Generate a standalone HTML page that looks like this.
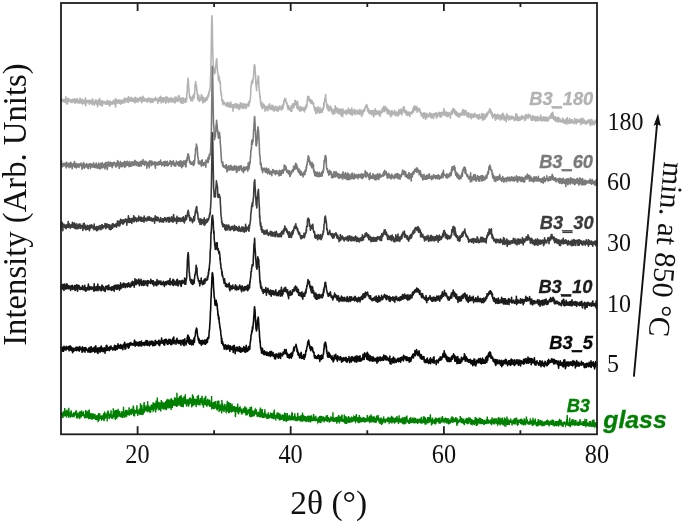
<!DOCTYPE html>
<html><head><meta charset="utf-8"><style>
html,body{margin:0;padding:0;background:#fff;}
svg{display:block;}
.serif{font-family:"Liberation Serif","Times New Roman",serif;}
.lab{font-family:"Liberation Sans",Arial,sans-serif;font-weight:bold;font-style:italic;}
.lab text,text.lab{stroke-width:0.3px;}
</style></head><body>
<svg width="685" height="522" viewBox="0 0 685 522">
<rect width="685" height="522" fill="#fff"/>
<g id="curves">
<path d="M61.0 412.9L61.1 413.6 61.3 414.0 61.4 412.8 61.6 414.1 61.7 411.9 61.9 412.8 62.0 413.1 62.2 415.9 62.3 416.9 62.5 416.8 62.6 415.8 62.8 412.7 62.9 418.0 63.1 413.2 63.2 416.3 63.4 412.8 63.5 414.9 63.7 414.9 63.8 411.1 64.0 413.5 64.1 413.1 64.3 413.1 64.4 416.5 64.6 413.0 64.7 408.1 64.9 415.8 65.0 411.9 65.2 411.7 65.3 411.7 65.5 414.8 65.6 414.4 65.8 415.9 65.9 413.8 66.1 410.6 66.2 415.1 66.4 417.5 66.5 413.7 66.7 411.8 66.8 414.3 67.0 409.6 67.1 414.2 67.3 413.8 67.4 415.9 67.6 414.5 67.7 412.0 67.9 412.0 68.0 411.0 68.2 412.2 68.3 412.8 68.5 417.7 68.6 415.6 68.8 407.7 68.9 415.0 69.1 412.5 69.2 414.1 69.4 412.5 69.5 413.9 69.7 416.0 69.8 415.6 70.0 413.3 70.1 415.1 70.3 417.8 70.4 412.9 70.6 411.7 70.7 412.0 70.9 411.9 71.0 417.1 71.2 410.2 71.3 414.5 71.5 416.0 71.6 415.1 71.8 415.6 71.9 416.6 72.1 414.3 72.2 413.9 72.4 414.7 72.5 414.0 72.7 414.7 72.8 415.8 73.0 415.5 73.1 413.2 73.3 417.1 73.4 415.5 73.6 412.3 73.7 413.9 73.9 413.0 74.0 414.4 74.2 416.7 74.3 415.3 74.5 414.2 74.6 415.3 74.8 414.9 74.9 414.1 75.1 412.6 75.2 415.5 75.4 411.9 75.5 414.6 75.7 412.4 75.8 412.0 76.0 410.4 76.1 412.2 76.3 412.2 76.4 410.6 76.6 417.9 76.7 416.6 76.9 412.3 77.0 418.7 77.2 414.3 77.3 414.3 77.5 417.6 77.6 416.6 77.8 413.2 77.9 413.5 78.1 415.9 78.2 416.4 78.4 416.2 78.5 413.7 78.7 417.5 78.8 414.7 79.0 417.6 79.1 412.8 79.3 414.4 79.4 411.7 79.6 419.1 79.7 418.7 79.9 416.2 80.0 411.3 80.2 417.2 80.3 411.9 80.5 414.6 80.6 414.6 80.8 413.4 80.9 417.0 81.1 416.3 81.2 417.5 81.4 414.8 81.5 410.4 81.7 415.9 81.8 413.9 82.0 414.3 82.1 414.7 82.3 415.5 82.4 411.9 82.6 414.9 82.7 416.2 82.9 412.6 83.0 413.3 83.2 414.5 83.3 415.5 83.5 411.2 83.6 415.2 83.8 416.5 83.9 413.8 84.1 415.9 84.2 415.2 84.4 416.0 84.5 415.6 84.7 418.5 84.8 417.0 85.0 416.9 85.1 418.1 85.3 415.9 85.4 414.8 85.6 417.4 85.7 410.0 85.9 415.7 86.0 414.5 86.2 417.7 86.3 417.3 86.5 411.4 86.6 414.0 86.8 415.8 86.9 418.3 87.1 411.6 87.2 417.5 87.4 416.6 87.5 415.9 87.7 414.7 87.8 415.6 88.0 415.7 88.1 410.6 88.3 415.4 88.4 414.6 88.6 418.6 88.7 413.8 88.9 419.2 89.0 417.1 89.2 409.6 89.3 417.4 89.5 415.8 89.6 418.2 89.8 418.2 89.9 413.0 90.1 416.8 90.2 416.0 90.4 416.5 90.5 418.8 90.7 416.2 90.8 413.3 91.0 417.5 91.1 414.9 91.3 413.3 91.4 418.5 91.6 413.9 91.7 419.8 91.9 414.4 92.0 416.8 92.2 418.4 92.3 416.3 92.5 417.4 92.6 419.5 92.8 413.5 92.9 413.3 93.1 418.3 93.2 417.1 93.4 417.3 93.5 416.8 93.7 418.9 93.8 413.9 94.0 416.1 94.1 418.3 94.3 417.3 94.4 417.9 94.6 416.7 94.7 414.8 94.9 414.7 95.0 418.6 95.2 416.1 95.3 418.3 95.5 419.9 95.6 418.7 95.8 416.4 95.9 419.6 96.1 418.0 96.2 415.4 96.4 418.0 96.5 418.1 96.7 418.5 96.8 420.3 97.0 417.2 97.1 416.5 97.3 416.3 97.4 418.8 97.6 418.7 97.7 414.7 97.9 418.7 98.0 417.4 98.2 422.1 98.3 418.9 98.5 419.0 98.6 419.8 98.8 413.1 98.9 417.6 99.1 420.6 99.2 416.7 99.4 416.8 99.5 416.7 99.7 413.3 99.8 416.9 100.0 416.7 100.1 418.2 100.3 418.8 100.4 416.8 100.6 416.9 100.7 418.6 100.9 417.7 101.0 416.5 101.2 416.3 101.3 417.8 101.5 420.7 101.6 416.0 101.8 417.4 101.9 418.5 102.1 417.6 102.2 419.0 102.4 416.0 102.5 417.3 102.7 419.8 102.8 415.7 103.0 415.4 103.1 416.9 103.3 415.2 103.4 419.5 103.6 413.3 103.7 415.7 103.9 413.8 104.0 421.3 104.2 419.4 104.3 417.6 104.5 417.0 104.6 411.5 104.8 416.4 104.9 418.9 105.1 415.1 105.2 415.8 105.4 417.8 105.5 414.2 105.7 413.3 105.8 416.7 106.0 418.2 106.1 414.6 106.3 415.2 106.4 416.8 106.6 417.9 106.7 416.7 106.9 415.0 107.0 415.9 107.2 421.4 107.3 414.6 107.5 411.4 107.6 415.1 107.8 413.9 107.9 415.9 108.1 410.6 108.2 415.9 108.4 412.3 108.5 412.0 108.7 416.2 108.8 413.8 109.0 419.0 109.1 414.9 109.3 419.0 109.4 414.5 109.6 416.8 109.7 416.2 109.9 417.7 110.0 415.1 110.2 414.0 110.3 417.7 110.5 416.4 110.6 415.1 110.8 417.0 110.9 412.5 111.1 410.2 111.2 415.0 111.4 415.8 111.5 415.2 111.7 417.4 111.8 418.6 112.0 417.2 112.1 414.9 112.3 416.2 112.4 417.4 112.6 417.7 112.7 415.5 112.9 416.2 113.0 413.6 113.2 417.7 113.3 408.3 113.5 415.6 113.6 409.8 113.8 416.2 113.9 414.1 114.1 416.4 114.2 410.8 114.4 413.5 114.5 416.9 114.7 415.7 114.8 413.5 115.0 418.8 115.1 416.9 115.3 416.5 115.4 419.9 115.6 414.5 115.7 409.8 115.9 418.9 116.0 417.8 116.2 414.9 116.3 414.2 116.5 414.3 116.6 415.8 116.8 416.3 116.9 418.6 117.1 410.1 117.2 411.6 117.4 416.5 117.5 415.1 117.7 415.6 117.8 415.9 118.0 417.3 118.1 408.7 118.3 415.5 118.4 413.1 118.6 415.4 118.7 414.2 118.9 410.8 119.0 414.6 119.2 410.9 119.3 416.3 119.5 413.1 119.6 411.1 119.8 412.9 119.9 416.3 120.1 416.8 120.2 415.6 120.4 416.2 120.5 413.9 120.7 415.1 120.8 416.4 121.0 417.3 121.1 416.1 121.3 414.7 121.4 412.8 121.6 413.6 121.7 412.9 121.9 411.2 122.0 413.4 122.2 417.6 122.3 415.0 122.5 417.3 122.6 414.0 122.8 417.9 122.9 414.4 123.1 414.0 123.2 412.8 123.4 414.2 123.5 406.8 123.7 415.1 123.8 412.0 124.0 415.1 124.1 416.2 124.3 415.0 124.4 417.1 124.6 413.5 124.7 417.7 124.9 411.8 125.0 413.9 125.2 412.1 125.3 416.3 125.5 409.8 125.6 410.6 125.8 411.2 125.9 413.9 126.1 411.6 126.2 413.7 126.4 410.3 126.5 417.2 126.7 413.3 126.8 409.9 127.0 411.2 127.1 411.0 127.3 411.3 127.4 412.8 127.6 415.3 127.7 412.0 127.9 414.2 128.0 413.7 128.2 413.4 128.3 413.1 128.5 415.2 128.6 411.3 128.8 412.5 128.9 409.9 129.1 407.3 129.2 410.9 129.4 412.5 129.5 415.7 129.7 412.8 129.8 412.2 130.0 412.0 130.1 412.5 130.3 413.8 130.4 410.2 130.6 412.1 130.7 409.8 130.9 414.1 131.0 411.6 131.2 409.2 131.3 409.2 131.5 414.9 131.6 412.5 131.8 413.1 131.9 409.0 132.1 411.1 132.2 413.7 132.4 412.2 132.5 413.3 132.7 412.0 132.8 413.0 133.0 411.4 133.1 408.7 133.3 405.5 133.4 409.8 133.6 406.7 133.7 416.1 133.9 410.1 134.0 409.8 134.2 410.5 134.3 411.9 134.5 416.5 134.6 414.0 134.8 412.1 134.9 410.6 135.1 413.7 135.2 411.5 135.4 411.8 135.5 411.8 135.7 411.3 135.8 409.9 136.0 412.1 136.1 411.7 136.3 413.4 136.4 412.2 136.6 413.1 136.7 410.1 136.9 405.4 137.0 406.1 137.2 412.6 137.3 409.9 137.5 410.9 137.6 415.0 137.8 415.8 137.9 412.6 138.1 411.4 138.2 414.1 138.4 413.3 138.5 413.0 138.7 413.2 138.8 413.9 139.0 411.4 139.1 409.1 139.3 410.1 139.4 412.9 139.6 411.1 139.7 410.6 139.9 414.9 140.0 408.1 140.2 412.3 140.3 413.6 140.5 403.2 140.6 412.9 140.8 411.2 140.9 412.2 141.1 407.8 141.2 411.1 141.4 413.7 141.5 415.0 141.7 411.6 141.8 404.7 142.0 412.7 142.1 406.8 142.3 412.2 142.4 413.6 142.6 415.1 142.7 410.5 142.9 409.4 143.0 410.3 143.2 414.5 143.3 411.4 143.5 409.1 143.6 411.2 143.8 408.7 143.9 403.6 144.1 412.9 144.2 402.0 144.4 412.3 144.5 409.9 144.7 409.9 144.8 407.3 145.0 410.4 145.1 409.4 145.3 409.7 145.4 408.2 145.6 408.2 145.7 409.4 145.9 407.0 146.0 405.3 146.2 410.9 146.3 410.7 146.5 410.7 146.6 410.8 146.8 410.7 146.9 408.9 147.1 407.1 147.2 410.6 147.4 407.9 147.5 410.0 147.7 401.3 147.8 408.3 148.0 406.9 148.1 411.1 148.3 410.8 148.4 408.2 148.6 410.6 148.7 408.8 148.9 405.5 149.0 410.4 149.2 410.6 149.3 408.2 149.5 409.2 149.6 406.9 149.8 408.8 149.9 410.9 150.1 413.1 150.2 407.5 150.4 410.0 150.5 408.0 150.7 412.3 150.8 410.1 151.0 407.3 151.1 405.4 151.3 405.3 151.4 404.6 151.6 408.1 151.7 405.5 151.9 407.1 152.0 408.6 152.2 409.1 152.3 409.8 152.5 405.1 152.6 407.7 152.8 409.6 152.9 408.1 153.1 402.3 153.2 411.0 153.4 410.8 153.5 403.6 153.7 410.9 153.8 403.7 154.0 408.9 154.1 406.4 154.3 403.8 154.4 403.8 154.6 405.3 154.7 407.4 154.9 408.0 155.0 407.9 155.2 402.8 155.3 406.3 155.5 403.9 155.6 412.4 155.8 408.0 155.9 406.2 156.1 408.0 156.2 400.6 156.4 409.7 156.5 405.5 156.7 404.4 156.8 408.9 157.0 404.4 157.1 405.6 157.3 397.6 157.4 402.4 157.6 406.7 157.7 403.8 157.9 405.4 158.0 407.7 158.2 404.6 158.3 405.1 158.5 401.7 158.6 409.7 158.8 409.6 158.9 408.2 159.1 404.4 159.2 403.2 159.4 406.5 159.5 405.5 159.7 406.0 159.8 409.9 160.0 408.1 160.1 403.4 160.3 403.6 160.4 402.6 160.6 404.0 160.7 411.5 160.9 405.0 161.0 404.8 161.2 409.0 161.3 400.1 161.5 406.1 161.6 402.9 161.8 403.4 161.9 403.9 162.1 401.4 162.2 405.9 162.4 402.8 162.5 404.2 162.7 408.4 162.8 407.0 163.0 408.3 163.1 409.5 163.3 409.0 163.4 403.9 163.6 408.7 163.7 402.4 163.9 405.8 164.0 405.8 164.2 408.1 164.3 404.0 164.5 407.3 164.6 403.1 164.8 403.0 164.9 409.0 165.1 403.5 165.2 409.7 165.4 402.5 165.5 409.8 165.7 407.4 165.8 400.9 166.0 404.1 166.1 402.7 166.3 410.3 166.4 402.4 166.6 406.7 166.7 399.6 166.9 404.4 167.0 404.8 167.2 408.5 167.3 406.8 167.5 404.5 167.6 400.4 167.8 400.7 167.9 405.1 168.1 407.3 168.2 407.4 168.4 399.2 168.5 403.4 168.7 407.0 168.8 399.7 169.0 402.6 169.1 402.0 169.3 401.6 169.4 403.1 169.6 405.4 169.7 408.1 169.9 407.4 170.0 406.3 170.2 402.5 170.3 405.9 170.5 401.6 170.6 401.3 170.8 399.3 170.9 399.2 171.1 410.1 171.2 398.9 171.4 403.1 171.5 403.3 171.7 405.4 171.8 402.9 172.0 403.3 172.1 405.4 172.3 408.1 172.4 399.5 172.6 401.9 172.7 406.1 172.9 404.7 173.0 401.1 173.2 404.8 173.3 402.5 173.5 400.2 173.6 400.8 173.8 403.7 173.9 405.6 174.1 404.2 174.2 401.0 174.4 403.6 174.5 398.0 174.7 397.5 174.8 398.5 175.0 400.9 175.1 406.1 175.3 397.7 175.4 400.7 175.6 404.7 175.7 405.2 175.9 404.5 176.0 402.4 176.2 406.5 176.3 399.2 176.5 403.8 176.6 401.1 176.8 407.0 176.9 392.7 177.1 399.6 177.2 402.9 177.4 405.7 177.5 398.0 177.7 403.7 177.8 403.8 178.0 405.0 178.1 405.8 178.3 402.8 178.4 402.4 178.6 403.6 178.7 405.4 178.9 397.8 179.0 397.4 179.2 404.7 179.3 398.4 179.5 402.3 179.6 402.6 179.8 395.9 179.9 396.3 180.1 403.5 180.2 400.2 180.4 404.0 180.5 406.4 180.7 399.6 180.8 400.9 181.0 400.0 181.1 394.9 181.3 403.0 181.4 400.7 181.6 401.7 181.7 406.9 181.9 402.7 182.0 406.1 182.2 401.9 182.3 404.9 182.5 405.0 182.6 397.6 182.8 403.1 182.9 402.8 183.1 401.0 183.2 407.2 183.4 404.4 183.5 403.9 183.7 400.7 183.8 401.2 184.0 403.5 184.1 396.2 184.3 403.2 184.4 403.9 184.6 400.6 184.7 403.6 184.9 397.9 185.0 400.8 185.2 403.6 185.3 394.2 185.5 402.7 185.6 401.7 185.8 400.7 185.9 400.6 186.1 400.4 186.2 405.0 186.4 401.4 186.5 406.6 186.7 402.3 186.8 401.9 187.0 400.0 187.1 403.8 187.3 400.8 187.4 402.8 187.6 401.4 187.7 404.1 187.9 398.7 188.0 398.9 188.2 405.8 188.3 402.5 188.5 402.7 188.6 406.7 188.8 405.1 188.9 402.5 189.1 405.0 189.2 401.4 189.4 399.7 189.5 403.5 189.7 400.0 189.8 397.5 190.0 403.6 190.1 398.2 190.3 398.2 190.4 397.6 190.6 401.7 190.7 401.0 190.9 404.0 191.0 399.1 191.2 399.5 191.3 400.7 191.5 401.8 191.6 403.6 191.8 407.4 191.9 403.3 192.1 406.2 192.2 402.2 192.4 404.0 192.5 394.2 192.7 403.5 192.8 404.3 193.0 396.1 193.1 406.0 193.3 398.2 193.4 398.0 193.6 402.1 193.7 405.3 193.9 403.5 194.0 401.4 194.2 399.2 194.3 400.2 194.5 400.6 194.6 403.0 194.8 398.6 194.9 404.6 195.1 403.7 195.2 401.4 195.4 399.6 195.5 400.5 195.7 400.4 195.8 403.2 196.0 398.9 196.1 407.1 196.3 403.7 196.4 405.4 196.6 404.8 196.7 400.7 196.9 399.6 197.0 404.6 197.2 402.0 197.3 396.0 197.5 401.1 197.6 397.5 197.8 398.8 197.9 398.5 198.1 402.8 198.2 400.9 198.4 394.7 198.5 404.1 198.7 405.0 198.8 398.2 199.0 403.6 199.1 401.9 199.3 400.3 199.4 403.1 199.6 402.7 199.7 405.1 199.9 402.4 200.0 405.5 200.2 400.9 200.3 401.8 200.5 398.9 200.6 402.8 200.8 399.0 200.9 398.6 201.1 398.4 201.2 399.9 201.4 400.9 201.5 401.4 201.7 403.4 201.8 402.3 202.0 402.3 202.1 395.7 202.3 405.4 202.4 402.9 202.6 401.5 202.7 404.7 202.9 400.2 203.0 404.0 203.2 401.3 203.3 402.2 203.5 407.7 203.6 400.6 203.8 405.6 203.9 401.4 204.1 398.0 204.2 399.9 204.4 402.5 204.5 402.3 204.7 402.0 204.8 403.2 205.0 404.8 205.1 402.7 205.3 402.9 205.4 396.4 205.6 401.4 205.7 395.8 205.9 403.0 206.0 401.9 206.2 402.9 206.3 405.2 206.5 405.5 206.6 403.9 206.8 400.3 206.9 405.9 207.1 406.6 207.2 403.4 207.4 405.0 207.5 405.2 207.7 398.8 207.8 403.7 208.0 402.0 208.1 403.8 208.3 401.5 208.4 404.0 208.6 404.2 208.7 401.9 208.9 404.1 209.0 400.1 209.2 405.8 209.3 399.6 209.5 406.8 209.6 405.2 209.8 403.9 209.9 407.0 210.1 405.8 210.2 402.3 210.4 405.0 210.5 406.3 210.7 402.4 210.8 404.3 211.0 403.0 211.1 400.3 211.3 404.6 211.4 403.8 211.6 395.9 211.7 409.5 211.9 404.3 212.0 406.8 212.2 403.7 212.3 407.0 212.5 406.2 212.6 408.2 212.8 403.0 212.9 405.1 213.1 405.9 213.2 407.8 213.4 401.9 213.5 409.3 213.7 402.4 213.8 404.4 214.0 406.8 214.1 405.3 214.3 409.0 214.4 401.5 214.6 408.7 214.7 407.1 214.9 403.2 215.0 406.8 215.2 405.2 215.3 405.4 215.5 407.6 215.6 407.2 215.8 400.9 215.9 403.6 216.1 404.5 216.2 406.0 216.4 408.3 216.5 409.4 216.7 404.6 216.8 407.8 217.0 407.1 217.1 409.1 217.3 410.4 217.4 406.2 217.6 408.8 217.7 400.8 217.9 401.9 218.0 407.4 218.2 403.6 218.3 408.9 218.5 403.6 218.6 400.7 218.8 405.2 218.9 400.5 219.1 411.9 219.2 407.2 219.4 407.8 219.5 405.3 219.7 407.1 219.8 405.6 220.0 406.9 220.1 409.4 220.3 410.5 220.4 404.5 220.6 409.1 220.7 405.9 220.9 406.5 221.0 408.7 221.2 411.0 221.3 406.9 221.5 404.1 221.6 413.5 221.8 410.9 221.9 399.9 222.1 407.2 222.2 406.5 222.4 403.9 222.5 403.0 222.7 406.8 222.8 405.6 223.0 409.3 223.1 407.8 223.3 410.8 223.4 406.0 223.6 406.5 223.7 406.4 223.9 406.2 224.0 412.2 224.2 408.5 224.3 410.2 224.5 408.8 224.6 406.6 224.8 403.9 224.9 408.6 225.1 409.9 225.2 409.4 225.4 408.5 225.5 408.7 225.7 407.7 225.8 406.4 226.0 411.9 226.1 412.1 226.3 410.1 226.4 409.8 226.6 404.3 226.7 409.1 226.9 405.9 227.0 411.0 227.2 411.7 227.3 400.7 227.5 405.8 227.6 411.1 227.8 409.0 227.9 402.9 228.1 407.5 228.2 410.0 228.4 406.2 228.5 407.5 228.7 413.2 228.8 402.0 229.0 405.9 229.1 409.0 229.3 410.2 229.4 410.7 229.6 413.1 229.7 408.6 229.9 410.6 230.0 411.7 230.2 410.8 230.3 402.9 230.5 410.7 230.6 406.1 230.8 405.0 230.9 408.8 231.1 407.1 231.2 411.6 231.4 410.0 231.5 408.9 231.7 411.5 231.8 411.4 232.0 403.6 232.1 406.0 232.3 409.5 232.4 411.8 232.6 409.1 232.7 411.9 232.9 410.0 233.0 409.4 233.2 409.1 233.3 411.1 233.5 407.5 233.6 406.0 233.8 410.5 233.9 409.1 234.1 410.8 234.2 409.2 234.4 406.0 234.5 411.1 234.7 411.5 234.8 410.3 235.0 410.7 235.1 409.3 235.3 409.7 235.4 417.1 235.6 414.1 235.7 406.9 235.9 410.9 236.0 410.3 236.2 411.4 236.3 406.8 236.5 407.5 236.6 409.9 236.8 408.9 236.9 409.5 237.1 412.0 237.2 410.8 237.4 406.2 237.5 408.8 237.7 403.5 237.8 408.9 238.0 413.5 238.1 409.3 238.3 410.9 238.4 413.6 238.6 413.7 238.7 407.4 238.9 408.2 239.0 412.5 239.2 411.4 239.3 411.0 239.5 409.0 239.6 410.1 239.8 406.7 239.9 411.7 240.1 406.3 240.2 408.8 240.4 410.3 240.5 410.6 240.7 409.5 240.8 408.6 241.0 411.5 241.1 411.9 241.3 411.5 241.4 411.9 241.6 408.6 241.7 409.3 241.9 414.7 242.0 412.3 242.2 413.7 242.3 411.7 242.5 412.1 242.6 412.9 242.8 409.7 242.9 412.3 243.1 410.8 243.2 411.9 243.4 409.8 243.5 410.0 243.7 412.1 243.8 410.4 244.0 411.1 244.1 407.8 244.3 413.3 244.4 411.1 244.6 411.6 244.7 412.1 244.9 406.2 245.0 410.9 245.2 409.0 245.3 408.9 245.5 411.1 245.6 411.0 245.8 413.5 245.9 413.3 246.1 411.6 246.2 415.5 246.4 409.7 246.5 407.5 246.7 414.6 246.8 410.9 247.0 409.6 247.1 413.4 247.3 413.8 247.4 415.2 247.6 410.7 247.7 412.3 247.9 411.2 248.0 414.0 248.2 412.1 248.3 409.9 248.5 412.2 248.6 410.5 248.8 409.5 248.9 412.0 249.1 411.1 249.2 410.0 249.4 410.2 249.5 409.2 249.7 416.8 249.8 412.3 250.0 413.0 250.1 406.9 250.3 412.2 250.4 411.3 250.6 407.6 250.7 417.3 250.9 413.5 251.0 417.2 251.2 408.4 251.3 409.8 251.5 406.5 251.6 413.3 251.8 411.6 251.9 411.2 252.1 416.7 252.2 413.8 252.4 412.2 252.5 416.0 252.7 414.2 252.8 410.3 253.0 411.9 253.1 415.5 253.3 415.3 253.4 412.1 253.6 416.1 253.7 415.0 253.9 413.6 254.0 411.0 254.2 414.7 254.3 414.1 254.5 413.1 254.6 414.4 254.8 414.0 254.9 409.7 255.1 409.4 255.2 412.6 255.4 412.9 255.5 413.0 255.7 410.3 255.8 414.3 256.0 411.2 256.1 411.8 256.3 409.4 256.4 411.5 256.6 414.6 256.7 412.9 256.9 413.0 257.0 415.7 257.2 414.8 257.3 416.3 257.5 417.1 257.6 412.5 257.8 416.6 257.9 413.7 258.1 415.5 258.2 411.7 258.4 413.3 258.5 413.2 258.7 412.2 258.8 414.0 259.0 416.6 259.1 414.2 259.3 413.4 259.4 414.5 259.6 413.7 259.7 416.9 259.9 413.9 260.0 408.9 260.2 416.4 260.3 416.3 260.5 407.5 260.6 412.8 260.8 409.9 260.9 411.6 261.1 417.5 261.2 410.9 261.4 414.1 261.5 416.2 261.7 413.1 261.8 413.8 262.0 413.5 262.1 417.2 262.3 409.1 262.4 415.1 262.6 412.5 262.7 418.1 262.9 417.3 263.0 413.6 263.2 412.9 263.3 416.3 263.5 413.2 263.6 416.3 263.8 416.1 263.9 416.4 264.1 417.1 264.2 417.8 264.4 414.9 264.5 412.5 264.7 413.5 264.8 409.2 265.0 415.6 265.1 414.3 265.3 416.8 265.4 415.0 265.6 412.9 265.7 414.6 265.9 417.0 266.0 417.4 266.2 416.5 266.3 417.6 266.5 417.8 266.6 415.0 266.8 418.0 266.9 417.1 267.1 414.5 267.2 419.0 267.4 414.1 267.5 417.6 267.7 418.3 267.8 416.2 268.0 416.7 268.1 416.3 268.3 412.3 268.4 415.5 268.6 418.8 268.7 416.7 268.9 414.8 269.0 415.2 269.2 417.8 269.3 416.8 269.5 417.1 269.6 418.3 269.8 416.0 269.9 417.2 270.1 416.3 270.2 415.7 270.4 417.3 270.5 412.5 270.7 417.6 270.8 415.6 271.0 416.4 271.1 415.8 271.3 412.9 271.4 418.2 271.6 414.4 271.7 418.3 271.9 414.9 272.0 418.6 272.2 416.7 272.3 417.6 272.5 417.1 272.6 414.1 272.8 413.8 272.9 416.3 273.1 417.6 273.2 414.3 273.4 418.6 273.5 419.2 273.7 416.6 273.8 416.6 274.0 416.0 274.1 416.4 274.3 409.4 274.4 418.1 274.6 417.3 274.7 418.0 274.9 414.4 275.0 418.1 275.2 418.9 275.3 417.0 275.5 417.9 275.6 416.0 275.8 420.5 275.9 414.9 276.1 416.1 276.2 417.5 276.4 418.0 276.5 415.9 276.7 417.4 276.8 416.0 277.0 412.6 277.1 416.7 277.3 414.4 277.4 415.6 277.6 418.2 277.7 414.0 277.9 415.3 278.0 418.9 278.2 416.3 278.3 412.6 278.5 414.9 278.6 415.3 278.8 418.0 278.9 417.1 279.1 416.1 279.2 418.6 279.4 420.4 279.5 413.4 279.7 418.5 279.8 420.4 280.0 413.4 280.1 417.6 280.3 419.0 280.4 419.4 280.6 414.9 280.7 418.0 280.9 419.9 281.0 416.5 281.2 417.3 281.3 418.6 281.5 418.7 281.6 418.7 281.8 417.4 281.9 418.4 282.1 419.6 282.2 415.2 282.4 414.3 282.5 417.8 282.7 417.4 282.8 415.2 283.0 418.8 283.1 416.7 283.3 414.7 283.4 418.0 283.6 421.2 283.7 419.9 283.9 419.0 284.0 417.6 284.2 420.7 284.3 420.4 284.5 416.7 284.6 412.6 284.8 416.2 284.9 418.0 285.1 415.0 285.2 415.2 285.4 415.4 285.5 420.1 285.7 413.3 285.8 420.4 286.0 418.4 286.1 421.9 286.3 417.1 286.4 418.2 286.6 416.4 286.7 418.3 286.9 420.2 287.0 418.0 287.2 420.6 287.3 412.9 287.5 421.0 287.6 416.5 287.8 420.0 287.9 419.4 288.1 419.1 288.2 416.2 288.4 417.9 288.5 417.7 288.7 420.6 288.8 416.2 289.0 418.5 289.1 418.9 289.3 414.7 289.4 416.0 289.6 417.9 289.7 416.4 289.9 420.3 290.0 418.4 290.2 417.7 290.3 418.9 290.5 419.4 290.6 418.3 290.8 420.4 290.9 418.3 291.1 415.6 291.2 417.0 291.4 417.6 291.5 419.3 291.7 413.3 291.8 418.0 292.0 420.2 292.1 413.0 292.3 413.2 292.4 418.0 292.6 416.8 292.7 417.3 292.9 417.9 293.0 416.4 293.2 419.5 293.3 419.5 293.5 420.2 293.6 417.4 293.8 418.3 293.9 418.5 294.1 416.1 294.2 419.4 294.4 418.7 294.5 417.3 294.7 413.9 294.8 413.9 295.0 416.8 295.1 418.1 295.3 416.9 295.4 420.7 295.6 416.9 295.7 416.2 295.9 418.5 296.0 421.1 296.2 417.0 296.3 419.4 296.5 418.5 296.6 419.9 296.8 418.1 296.9 421.1 297.1 419.1 297.2 417.0 297.4 419.1 297.5 419.2 297.7 415.7 297.8 412.7 298.0 418.9 298.1 419.2 298.3 420.5 298.4 418.0 298.6 416.5 298.7 418.0 298.9 419.6 299.0 417.6 299.2 418.6 299.3 419.4 299.5 420.7 299.6 417.8 299.8 418.7 299.9 415.9 300.1 420.0 300.2 418.6 300.4 417.8 300.5 419.8 300.7 419.4 300.8 419.3 301.0 418.0 301.1 415.1 301.3 417.7 301.4 421.5 301.6 420.5 301.7 418.9 301.9 417.3 302.0 418.4 302.2 417.5 302.3 420.3 302.5 412.6 302.6 419.4 302.8 421.6 302.9 418.7 303.1 414.7 303.2 420.6 303.4 417.6 303.5 417.9 303.7 415.3 303.8 418.2 304.0 417.0 304.1 418.2 304.3 417.8 304.4 420.5 304.6 420.9 304.7 418.4 304.9 418.9 305.0 418.6 305.2 416.1 305.3 421.2 305.5 418.9 305.6 416.4 305.8 421.2 305.9 420.6 306.1 422.1 306.2 417.6 306.4 418.0 306.5 421.6 306.7 416.4 306.8 419.8 307.0 419.6 307.1 417.9 307.3 417.3 307.4 420.7 307.6 418.4 307.7 419.1 307.9 415.8 308.0 420.3 308.2 415.8 308.3 422.1 308.5 417.7 308.6 415.5 308.8 417.5 308.9 416.1 309.1 416.8 309.2 421.6 309.4 420.1 309.5 416.4 309.7 418.4 309.8 419.2 310.0 415.8 310.1 418.0 310.3 422.5 310.4 421.1 310.6 418.8 310.7 419.8 310.9 420.8 311.0 419.5 311.2 419.8 311.3 415.2 311.5 419.0 311.6 419.2 311.8 419.7 311.9 419.9 312.1 419.0 312.2 419.4 312.4 419.0 312.5 419.1 312.7 420.6 312.8 418.6 313.0 421.0 313.1 418.0 313.3 415.3 313.4 419.2 313.6 418.9 313.7 414.1 313.9 419.2 314.0 421.0 314.2 418.3 314.3 420.7 314.5 417.7 314.6 421.3 314.8 418.8 314.9 418.5 315.1 416.7 315.2 418.2 315.4 421.1 315.5 418.6 315.7 418.9 315.8 415.8 316.0 419.8 316.1 419.5 316.3 418.2 316.4 419.5 316.6 420.9 316.7 420.4 316.9 418.8 317.0 419.1 317.2 420.8 317.3 419.5 317.5 419.0 317.6 422.6 317.8 421.8 317.9 422.5 318.1 422.1 318.2 418.7 318.4 418.9 318.5 422.3 318.7 417.8 318.8 417.2 319.0 419.1 319.1 418.4 319.3 418.4 319.4 420.3 319.6 416.0 319.7 420.8 319.9 420.0 320.0 423.1 320.2 417.7 320.3 420.4 320.5 415.7 320.6 421.9 320.8 415.9 320.9 422.9 321.1 419.5 321.2 419.2 321.4 420.0 321.5 416.1 321.7 420.9 321.8 419.9 322.0 419.2 322.1 419.4 322.3 419.8 322.4 418.5 322.6 419.7 322.7 416.5 322.9 420.7 323.0 419.4 323.2 418.4 323.3 418.2 323.5 416.4 323.6 420.3 323.8 417.4 323.9 419.4 324.1 422.4 324.2 417.7 324.4 421.5 324.5 420.2 324.7 418.4 324.8 420.3 325.0 420.9 325.1 418.4 325.3 417.4 325.4 420.4 325.6 420.0 325.7 418.6 325.9 419.2 326.0 419.8 326.2 415.6 326.3 419.9 326.5 420.9 326.6 420.1 326.8 418.7 326.9 420.6 327.1 421.0 327.2 421.9 327.4 415.1 327.5 418.3 327.7 421.3 327.8 418.5 328.0 418.6 328.1 417.1 328.3 421.0 328.4 417.1 328.6 417.9 328.7 421.3 328.9 419.1 329.0 419.0 329.2 418.9 329.3 422.8 329.5 419.0 329.6 420.1 329.8 417.9 329.9 419.1 330.1 420.4 330.2 421.1 330.4 419.9 330.5 418.9 330.7 419.6 330.8 421.7 331.0 416.4 331.1 417.9 331.3 419.3 331.4 419.1 331.6 418.4 331.7 419.0 331.9 419.8 332.0 417.3 332.2 419.7 332.3 420.0 332.5 419.4 332.6 419.6 332.8 419.2 332.9 412.2 333.1 420.3 333.2 418.6 333.4 417.8 333.5 421.8 333.7 419.9 333.8 421.9 334.0 420.7 334.1 421.9 334.3 419.1 334.4 420.5 334.6 417.6 334.7 420.0 334.9 420.2 335.0 420.5 335.2 420.9 335.3 417.6 335.5 421.7 335.6 417.2 335.8 419.9 335.9 421.6 336.1 419.4 336.2 420.6 336.4 420.7 336.5 417.1 336.7 418.4 336.8 423.7 337.0 419.9 337.1 419.9 337.3 420.4 337.4 416.5 337.6 421.0 337.7 421.0 337.9 419.3 338.0 417.5 338.2 421.9 338.3 420.0 338.5 420.1 338.6 418.5 338.8 415.0 338.9 418.1 339.1 420.4 339.2 420.9 339.4 423.5 339.5 419.5 339.7 418.0 339.8 418.4 340.0 420.6 340.1 416.5 340.3 421.5 340.4 417.6 340.6 418.7 340.7 420.6 340.9 417.6 341.0 421.5 341.2 421.1 341.3 419.0 341.5 415.8 341.6 418.0 341.8 420.8 341.9 416.3 342.1 414.5 342.2 419.1 342.4 419.5 342.5 421.4 342.7 421.4 342.8 422.0 343.0 421.3 343.1 422.2 343.3 420.2 343.4 421.0 343.6 420.4 343.7 418.9 343.9 421.5 344.0 421.0 344.2 419.5 344.3 414.6 344.5 418.1 344.6 422.8 344.8 418.4 344.9 418.8 345.1 420.2 345.2 423.9 345.4 421.2 345.5 419.1 345.7 416.0 345.8 417.9 346.0 420.3 346.1 420.3 346.3 418.7 346.4 418.9 346.6 416.9 346.7 423.9 346.9 419.7 347.0 420.1 347.2 420.8 347.3 420.4 347.5 420.9 347.6 421.1 347.8 422.4 347.9 420.9 348.1 418.9 348.2 417.5 348.4 419.9 348.5 416.1 348.7 416.8 348.8 423.0 349.0 419.4 349.1 419.5 349.3 418.6 349.4 417.4 349.6 420.5 349.7 417.8 349.9 422.7 350.0 418.6 350.2 421.8 350.3 421.8 350.5 418.0 350.6 421.0 350.8 418.6 350.9 419.9 351.1 419.3 351.2 420.4 351.4 422.5 351.5 417.2 351.7 417.2 351.8 419.6 352.0 420.0 352.1 421.1 352.3 421.4 352.4 421.5 352.6 422.0 352.7 420.0 352.9 417.3 353.0 420.6 353.2 418.9 353.3 418.8 353.5 421.1 353.6 418.5 353.8 419.9 353.9 416.8 354.1 417.1 354.2 420.3 354.4 420.3 354.5 416.3 354.7 421.4 354.8 415.9 355.0 417.2 355.1 420.6 355.3 420.0 355.4 418.1 355.6 421.7 355.7 421.5 355.9 418.1 356.0 419.2 356.2 419.0 356.3 414.1 356.5 419.4 356.6 420.6 356.8 417.8 356.9 418.6 357.1 420.7 357.2 421.5 357.4 419.0 357.5 420.6 357.7 421.2 357.8 421.0 358.0 417.1 358.1 420.2 358.3 419.4 358.4 422.2 358.6 422.1 358.7 422.8 358.9 419.7 359.0 421.0 359.2 423.2 359.3 415.0 359.5 419.7 359.6 421.2 359.8 417.9 359.9 419.1 360.1 419.2 360.2 416.8 360.4 420.2 360.5 418.4 360.7 421.4 360.8 421.8 361.0 421.7 361.1 419.4 361.3 419.8 361.4 420.8 361.6 419.1 361.7 417.7 361.9 422.2 362.0 418.7 362.2 418.1 362.3 419.3 362.5 418.9 362.6 420.4 362.8 421.9 362.9 417.7 363.1 421.3 363.2 418.8 363.4 417.0 363.5 417.8 363.7 419.5 363.8 419.5 364.0 417.7 364.1 417.3 364.3 421.7 364.4 422.4 364.6 419.3 364.7 418.8 364.9 419.9 365.0 419.8 365.2 420.7 365.3 419.5 365.5 422.5 365.6 419.0 365.8 418.1 365.9 418.9 366.1 421.7 366.2 420.7 366.4 419.5 366.5 420.2 366.7 419.5 366.8 419.3 367.0 421.7 367.1 419.1 367.3 415.0 367.4 420.7 367.6 421.3 367.7 419.4 367.9 419.7 368.0 418.1 368.2 418.8 368.3 418.0 368.5 420.7 368.6 418.1 368.8 418.6 368.9 417.5 369.1 417.2 369.2 421.4 369.4 421.7 369.5 420.9 369.7 417.2 369.8 419.4 370.0 422.4 370.1 420.4 370.3 422.6 370.4 415.7 370.6 418.9 370.7 422.0 370.9 419.2 371.0 414.4 371.2 419.2 371.3 422.3 371.5 420.7 371.6 418.6 371.8 416.4 371.9 418.5 372.1 418.8 372.2 421.9 372.4 418.6 372.5 416.8 372.7 421.5 372.8 421.5 373.0 421.5 373.1 419.3 373.3 420.3 373.4 416.3 373.6 417.2 373.7 418.7 373.9 419.4 374.0 422.6 374.2 420.5 374.3 420.0 374.5 416.6 374.6 419.9 374.8 417.7 374.9 419.2 375.1 418.7 375.2 420.8 375.4 422.5 375.5 418.4 375.7 417.8 375.8 423.1 376.0 420.9 376.1 420.2 376.3 418.6 376.4 422.2 376.6 415.6 376.7 420.4 376.9 419.1 377.0 420.1 377.2 417.6 377.3 418.6 377.5 417.9 377.6 420.7 377.8 419.3 377.9 418.7 378.1 414.9 378.2 418.3 378.4 420.0 378.5 417.0 378.7 421.1 378.8 419.2 379.0 419.3 379.1 420.8 379.3 420.4 379.4 419.1 379.6 422.8 379.7 419.8 379.9 423.4 380.0 423.6 380.2 418.0 380.3 420.2 380.5 418.6 380.6 419.4 380.8 423.7 380.9 417.4 381.1 420.4 381.2 421.0 381.4 420.6 381.5 424.9 381.7 423.4 381.8 418.6 382.0 423.3 382.1 419.3 382.3 418.7 382.4 422.2 382.6 422.1 382.7 422.4 382.9 421.8 383.0 420.8 383.2 421.4 383.3 421.1 383.5 421.8 383.6 416.4 383.8 420.1 383.9 421.3 384.1 422.1 384.2 419.2 384.4 420.1 384.5 418.5 384.7 420.2 384.8 418.8 385.0 421.4 385.1 423.2 385.3 421.3 385.4 422.0 385.6 422.0 385.7 418.9 385.9 419.4 386.0 420.1 386.2 421.1 386.3 419.1 386.5 420.6 386.6 419.9 386.8 418.8 386.9 420.8 387.1 421.0 387.2 418.1 387.4 421.0 387.5 420.4 387.7 418.1 387.8 420.7 388.0 421.2 388.1 416.8 388.3 419.1 388.4 422.0 388.6 420.2 388.7 421.2 388.9 420.7 389.0 417.4 389.2 423.1 389.3 423.0 389.5 419.3 389.6 421.4 389.8 421.7 389.9 422.7 390.1 417.5 390.2 417.8 390.4 420.7 390.5 421.4 390.7 419.1 390.8 418.4 391.0 419.7 391.1 420.5 391.3 422.3 391.4 420.0 391.6 415.8 391.7 421.9 391.9 423.5 392.0 422.9 392.2 420.6 392.3 418.2 392.5 418.0 392.6 421.2 392.8 421.3 392.9 417.3 393.1 420.0 393.2 418.7 393.4 420.6 393.5 418.9 393.7 420.2 393.8 417.7 394.0 421.8 394.1 422.5 394.3 419.3 394.4 423.6 394.6 419.4 394.7 418.1 394.9 419.4 395.0 420.0 395.2 419.1 395.3 420.1 395.5 422.8 395.6 420.5 395.8 421.9 395.9 417.3 396.1 418.9 396.2 420.6 396.4 419.7 396.5 420.9 396.7 417.4 396.8 421.8 397.0 416.1 397.1 418.1 397.3 422.1 397.4 421.1 397.6 419.8 397.7 419.3 397.9 418.2 398.0 421.1 398.2 421.9 398.3 420.4 398.5 423.9 398.6 421.8 398.8 421.1 398.9 422.3 399.1 415.3 399.2 419.0 399.4 420.5 399.5 419.0 399.7 420.4 399.8 421.5 400.0 419.4 400.1 422.5 400.3 421.7 400.4 418.5 400.6 420.1 400.7 418.8 400.9 419.8 401.0 422.6 401.2 421.2 401.3 418.3 401.5 420.6 401.6 418.8 401.8 420.3 401.9 422.4 402.1 418.6 402.2 421.0 402.4 423.4 402.5 417.2 402.7 420.7 402.8 421.4 403.0 424.1 403.1 421.2 403.3 419.9 403.4 423.5 403.6 421.2 403.7 424.1 403.9 418.6 404.0 420.3 404.2 418.6 404.3 417.0 404.5 421.6 404.6 424.5 404.8 418.5 404.9 422.0 405.1 423.8 405.2 419.5 405.4 421.9 405.5 416.7 405.7 419.1 405.8 423.7 406.0 420.5 406.1 421.6 406.3 419.0 406.4 420.9 406.6 418.0 406.7 419.2 406.9 415.6 407.0 419.6 407.2 421.6 407.3 420.6 407.5 421.9 407.6 422.4 407.8 420.1 407.9 419.5 408.1 421.1 408.2 420.4 408.4 422.2 408.5 421.7 408.7 421.4 408.8 423.6 409.0 421.6 409.1 422.5 409.3 421.3 409.4 423.9 409.6 419.8 409.7 418.1 409.9 420.9 410.0 419.8 410.2 420.5 410.3 419.2 410.5 420.6 410.6 423.2 410.8 417.1 410.9 423.3 411.1 419.5 411.2 419.1 411.4 422.9 411.5 421.5 411.7 421.3 411.8 420.5 412.0 419.2 412.1 422.9 412.3 421.1 412.4 419.0 412.6 418.8 412.7 418.6 412.9 419.1 413.0 421.1 413.2 422.5 413.3 418.5 413.5 420.9 413.6 419.3 413.8 422.4 413.9 423.4 414.1 419.9 414.2 417.5 414.4 421.6 414.5 422.9 414.7 419.8 414.8 420.0 415.0 421.6 415.1 423.1 415.3 417.7 415.4 421.5 415.6 417.9 415.7 423.2 415.9 420.2 416.0 422.1 416.2 421.2 416.3 419.8 416.5 421.3 416.6 419.3 416.8 420.2 416.9 422.0 417.1 422.9 417.2 422.4 417.4 419.1 417.5 422.6 417.7 424.0 417.8 419.3 418.0 418.8 418.1 422.8 418.3 419.6 418.4 421.9 418.6 422.7 418.7 419.8 418.9 422.6 419.0 419.6 419.2 421.0 419.3 422.8 419.5 418.9 419.6 422.1 419.8 421.4 419.9 419.7 420.1 418.5 420.2 421.7 420.4 420.8 420.5 422.4 420.7 423.4 420.8 420.2 421.0 419.7 421.1 418.3 421.3 421.1 421.4 416.8 421.6 422.3 421.7 422.0 421.9 420.3 422.0 423.7 422.2 419.9 422.3 421.0 422.5 420.6 422.6 423.3 422.8 421.4 422.9 419.9 423.1 419.6 423.2 420.6 423.4 419.4 423.5 416.3 423.7 421.1 423.8 422.9 424.0 416.3 424.1 422.3 424.3 418.4 424.4 420.0 424.6 422.3 424.7 419.3 424.9 416.9 425.0 424.6 425.2 420.2 425.3 420.6 425.5 417.7 425.6 419.4 425.8 422.8 425.9 424.7 426.1 419.9 426.2 419.3 426.4 421.6 426.5 421.1 426.7 422.6 426.8 419.5 427.0 420.7 427.1 419.4 427.3 421.4 427.4 422.2 427.6 421.9 427.7 417.0 427.9 418.4 428.0 418.8 428.2 418.3 428.3 421.2 428.5 420.8 428.6 423.1 428.8 419.5 428.9 418.5 429.1 421.5 429.2 417.1 429.4 422.5 429.5 421.0 429.7 420.5 429.8 418.6 430.0 418.3 430.1 422.1 430.3 419.0 430.4 414.3 430.6 421.8 430.7 419.3 430.9 421.2 431.0 419.1 431.2 421.3 431.3 419.1 431.5 425.5 431.6 422.1 431.8 420.4 431.9 419.6 432.1 420.7 432.2 421.9 432.4 417.6 432.5 424.1 432.7 421.5 432.8 418.7 433.0 421.3 433.1 420.0 433.3 420.2 433.4 421.4 433.6 420.7 433.7 422.9 433.9 421.2 434.0 421.0 434.2 420.7 434.3 422.2 434.5 422.0 434.6 423.9 434.8 418.8 434.9 422.0 435.1 422.6 435.2 424.4 435.4 422.0 435.5 419.1 435.7 417.5 435.8 424.2 436.0 417.7 436.1 422.0 436.3 422.7 436.4 421.0 436.6 421.2 436.7 419.2 436.9 421.3 437.0 421.3 437.2 420.8 437.3 419.9 437.5 418.4 437.6 420.7 437.8 419.8 437.9 419.1 438.1 419.7 438.2 420.7 438.4 422.2 438.5 421.8 438.7 422.1 438.8 417.7 439.0 423.5 439.1 418.8 439.3 418.6 439.4 420.0 439.6 421.8 439.7 420.7 439.9 420.0 440.0 420.7 440.2 423.6 440.3 422.3 440.5 421.3 440.6 422.4 440.8 420.3 440.9 420.8 441.1 417.4 441.2 421.6 441.4 421.2 441.5 417.7 441.7 419.2 441.8 422.6 442.0 419.5 442.1 422.4 442.3 420.1 442.4 416.0 442.6 421.3 442.7 419.1 442.9 419.7 443.0 417.9 443.2 421.7 443.3 420.7 443.5 419.6 443.6 421.4 443.8 421.8 443.9 420.3 444.1 419.4 444.2 419.8 444.4 422.2 444.5 420.4 444.7 420.6 444.8 418.3 445.0 422.1 445.1 421.5 445.3 417.6 445.4 421.4 445.6 422.4 445.7 421.6 445.9 421.7 446.0 421.7 446.2 417.9 446.3 422.1 446.5 423.3 446.6 418.4 446.8 420.5 446.9 419.9 447.1 420.5 447.2 420.0 447.4 419.7 447.5 420.4 447.7 423.4 447.8 420.8 448.0 422.5 448.1 420.4 448.3 420.8 448.4 418.2 448.6 424.5 448.7 422.4 448.9 422.5 449.0 422.6 449.2 419.9 449.3 422.7 449.5 422.6 449.6 419.6 449.8 422.9 449.9 423.5 450.1 422.6 450.2 420.8 450.4 423.2 450.5 421.0 450.7 422.2 450.8 419.3 451.0 421.4 451.1 417.4 451.3 421.2 451.4 422.4 451.6 420.9 451.7 421.4 451.9 422.0 452.0 416.2 452.2 418.6 452.3 419.0 452.5 419.0 452.6 422.6 452.8 422.0 452.9 423.0 453.1 418.9 453.2 417.4 453.4 421.7 453.5 421.2 453.7 421.7 453.8 420.4 454.0 420.8 454.1 420.5 454.3 420.1 454.4 420.8 454.6 421.5 454.7 418.5 454.9 420.3 455.0 422.3 455.2 418.3 455.3 421.2 455.5 419.3 455.6 421.2 455.8 417.6 455.9 417.6 456.1 421.0 456.2 421.3 456.4 421.6 456.5 420.1 456.7 420.0 456.8 425.8 457.0 424.0 457.1 422.6 457.3 418.3 457.4 420.7 457.6 424.2 457.7 421.0 457.9 422.4 458.0 421.8 458.2 422.7 458.3 421.8 458.5 422.9 458.6 422.0 458.8 422.5 458.9 419.5 459.1 421.7 459.2 420.7 459.4 422.2 459.5 419.7 459.7 420.8 459.8 422.0 460.0 419.1 460.1 421.5 460.3 416.1 460.4 420.7 460.6 420.8 460.7 420.8 460.9 418.6 461.0 420.8 461.2 421.9 461.3 423.1 461.5 417.7 461.6 418.6 461.8 418.1 461.9 421.2 462.1 423.0 462.2 420.6 462.4 422.7 462.5 422.0 462.7 418.7 462.8 422.1 463.0 423.2 463.1 421.0 463.3 423.9 463.4 420.2 463.6 422.8 463.7 418.6 463.9 423.5 464.0 423.2 464.2 422.0 464.3 425.2 464.5 423.3 464.6 421.5 464.8 420.3 464.9 421.7 465.1 420.4 465.2 420.9 465.4 421.3 465.5 422.8 465.7 421.8 465.8 419.4 466.0 419.5 466.1 420.2 466.3 422.7 466.4 418.8 466.6 422.5 466.7 421.2 466.9 417.9 467.0 424.3 467.2 421.2 467.3 419.8 467.5 421.9 467.6 424.2 467.8 419.6 467.9 418.9 468.1 418.2 468.2 423.1 468.4 423.8 468.5 420.8 468.7 417.2 468.8 421.7 469.0 419.4 469.1 422.3 469.3 420.2 469.4 419.9 469.6 422.0 469.7 417.7 469.9 421.6 470.0 417.6 470.2 422.5 470.3 423.4 470.5 424.3 470.6 419.2 470.8 420.9 470.9 422.0 471.1 422.6 471.2 422.2 471.4 418.8 471.5 420.3 471.7 424.9 471.8 423.6 472.0 423.9 472.1 420.8 472.3 421.2 472.4 419.6 472.6 422.2 472.7 422.0 472.9 422.5 473.0 420.0 473.2 423.4 473.3 422.4 473.5 424.5 473.6 420.0 473.8 423.7 473.9 422.3 474.1 421.6 474.2 422.2 474.4 425.1 474.5 420.5 474.7 420.0 474.8 421.2 475.0 422.2 475.1 421.6 475.3 416.9 475.4 422.9 475.6 423.1 475.7 419.8 475.9 417.8 476.0 419.4 476.2 421.4 476.3 426.0 476.5 417.8 476.6 422.4 476.8 420.4 476.9 424.3 477.1 419.8 477.2 421.5 477.4 418.8 477.5 425.5 477.7 420.7 477.8 421.6 478.0 421.9 478.1 421.0 478.3 422.0 478.4 420.0 478.6 423.5 478.7 420.6 478.9 419.2 479.0 423.2 479.2 417.4 479.3 421.6 479.5 422.7 479.6 420.5 479.8 420.5 479.9 420.9 480.1 424.3 480.2 419.9 480.4 420.0 480.5 422.9 480.7 417.9 480.8 421.7 481.0 420.9 481.1 424.0 481.3 420.6 481.4 423.5 481.6 424.0 481.7 421.3 481.9 418.9 482.0 422.7 482.2 423.3 482.3 419.2 482.5 419.6 482.6 421.6 482.8 420.9 482.9 423.2 483.1 423.7 483.2 423.8 483.4 422.1 483.5 420.1 483.7 422.1 483.8 421.5 484.0 420.3 484.1 424.9 484.3 419.8 484.4 421.0 484.6 423.3 484.7 422.0 484.9 424.0 485.0 420.5 485.2 421.6 485.3 422.0 485.5 423.7 485.6 420.9 485.8 420.7 485.9 420.4 486.1 424.1 486.2 422.2 486.4 422.4 486.5 420.0 486.7 420.2 486.8 420.8 487.0 420.0 487.1 421.5 487.3 416.6 487.4 422.1 487.6 421.7 487.7 423.6 487.9 421.1 488.0 421.2 488.2 419.4 488.3 421.0 488.5 423.7 488.6 421.6 488.8 421.5 488.9 420.5 489.1 421.5 489.2 422.5 489.4 421.5 489.5 421.4 489.7 423.4 489.8 423.0 490.0 421.5 490.1 419.7 490.3 421.4 490.4 421.8 490.6 420.8 490.7 421.6 490.9 424.2 491.0 422.6 491.2 419.4 491.3 421.5 491.5 423.5 491.6 425.3 491.8 421.5 491.9 422.0 492.1 417.3 492.2 423.3 492.4 420.6 492.5 419.4 492.7 420.5 492.8 423.5 493.0 421.5 493.1 423.1 493.3 422.4 493.4 420.5 493.6 424.3 493.7 420.0 493.9 418.5 494.0 420.3 494.2 422.3 494.3 418.3 494.5 421.1 494.6 424.5 494.8 423.3 494.9 421.2 495.1 421.5 495.2 420.8 495.4 420.9 495.5 423.1 495.7 422.5 495.8 421.2 496.0 418.0 496.1 419.8 496.3 419.2 496.4 420.5 496.6 422.1 496.7 422.7 496.9 423.9 497.0 421.9 497.2 421.2 497.3 422.9 497.5 424.5 497.6 425.0 497.8 424.8 497.9 418.9 498.1 418.6 498.2 420.0 498.4 420.7 498.5 420.9 498.7 424.1 498.8 417.0 499.0 421.9 499.1 421.6 499.3 422.6 499.4 424.2 499.6 421.3 499.7 419.8 499.9 421.0 500.0 424.1 500.2 425.3 500.3 418.6 500.5 419.7 500.6 424.2 500.8 422.6 500.9 417.8 501.1 422.5 501.2 422.5 501.4 421.7 501.5 421.2 501.7 422.1 501.8 420.1 502.0 422.4 502.1 422.9 502.3 424.8 502.4 421.4 502.6 417.6 502.7 420.9 502.9 419.6 503.0 421.3 503.2 421.4 503.3 425.3 503.5 422.9 503.6 422.5 503.8 420.5 503.9 422.3 504.1 424.7 504.2 424.9 504.4 422.5 504.5 421.8 504.7 417.5 504.8 424.0 505.0 423.1 505.1 423.0 505.3 418.6 505.4 422.6 505.6 422.4 505.7 421.1 505.9 426.7 506.0 419.9 506.2 421.9 506.3 420.9 506.5 424.9 506.6 419.9 506.8 420.6 506.9 416.6 507.1 422.1 507.2 419.4 507.4 420.3 507.5 422.1 507.7 425.1 507.8 420.2 508.0 422.0 508.1 418.8 508.3 421.9 508.4 424.5 508.6 421.9 508.7 421.9 508.9 421.2 509.0 420.8 509.2 422.1 509.3 424.9 509.5 424.2 509.6 422.0 509.8 422.0 509.9 419.9 510.1 421.8 510.2 420.1 510.4 421.6 510.5 422.8 510.7 418.4 510.8 422.2 511.0 422.2 511.1 421.7 511.3 420.2 511.4 422.6 511.6 421.6 511.7 423.2 511.9 421.3 512.0 425.6 512.2 423.3 512.3 423.0 512.5 422.5 512.6 422.9 512.8 420.2 512.9 420.7 513.1 423.8 513.2 421.7 513.4 419.2 513.5 423.2 513.7 422.7 513.8 421.1 514.0 424.5 514.1 422.3 514.3 419.6 514.4 418.5 514.6 423.7 514.7 419.8 514.9 424.1 515.0 418.0 515.2 421.0 515.3 422.3 515.5 422.7 515.6 421.0 515.8 419.0 515.9 420.8 516.1 419.7 516.2 420.0 516.4 420.2 516.5 417.6 516.7 419.8 516.8 421.8 517.0 421.3 517.1 424.4 517.3 424.7 517.4 422.6 517.6 422.0 517.7 422.6 517.9 422.4 518.0 419.9 518.2 421.5 518.3 424.9 518.5 420.5 518.6 420.6 518.8 422.0 518.9 421.6 519.1 423.0 519.2 421.2 519.4 422.9 519.5 422.2 519.7 420.3 519.8 421.9 520.0 422.0 520.1 419.1 520.3 422.5 520.4 420.0 520.6 421.5 520.7 423.0 520.9 422.8 521.0 421.0 521.2 418.6 521.3 423.6 521.5 424.1 521.6 419.2 521.8 420.4 521.9 421.6 522.1 424.6 522.2 419.9 522.4 424.6 522.5 420.3 522.7 422.5 522.8 422.0 523.0 422.8 523.1 423.6 523.3 422.9 523.4 421.0 523.6 425.5 523.7 424.5 523.9 420.8 524.0 421.6 524.2 418.3 524.3 424.3 524.5 423.9 524.6 422.3 524.8 422.0 524.9 421.7 525.1 421.8 525.2 420.8 525.4 425.2 525.5 421.8 525.7 423.2 525.8 423.3 526.0 418.8 526.1 422.8 526.3 419.8 526.4 416.6 526.6 422.8 526.7 422.2 526.9 422.4 527.0 422.0 527.2 419.3 527.3 420.5 527.5 422.0 527.6 422.2 527.8 423.8 527.9 421.6 528.1 424.4 528.2 423.6 528.4 422.1 528.5 423.6 528.7 424.7 528.8 422.5 529.0 424.1 529.1 421.3 529.3 422.0 529.4 424.6 529.6 421.6 529.7 421.0 529.9 422.0 530.0 422.7 530.2 423.1 530.3 418.4 530.5 422.1 530.6 422.3 530.8 422.9 530.9 424.4 531.1 423.3 531.2 421.3 531.4 421.7 531.5 421.8 531.7 422.1 531.8 423.9 532.0 422.3 532.1 420.5 532.3 422.5 532.4 426.1 532.6 423.8 532.7 425.5 532.9 424.0 533.0 417.8 533.2 423.2 533.3 424.0 533.5 425.2 533.6 422.9 533.8 419.9 533.9 423.9 534.1 421.6 534.2 422.1 534.4 423.5 534.5 421.1 534.7 423.2 534.8 423.8 535.0 423.7 535.1 422.0 535.3 418.5 535.4 420.6 535.6 423.8 535.7 422.4 535.9 424.0 536.0 424.1 536.2 425.6 536.3 421.9 536.5 423.6 536.6 422.9 536.8 426.5 536.9 421.9 537.1 425.0 537.2 424.6 537.4 421.7 537.5 424.4 537.7 424.3 537.8 420.8 538.0 426.3 538.1 422.7 538.3 420.1 538.4 419.1 538.6 419.7 538.7 425.0 538.9 422.2 539.0 420.8 539.2 421.9 539.3 423.3 539.5 424.5 539.6 421.4 539.8 425.1 539.9 425.4 540.1 424.3 540.2 422.7 540.4 420.1 540.5 423.2 540.7 420.9 540.8 424.4 541.0 423.5 541.1 423.4 541.3 424.0 541.4 420.5 541.6 425.2 541.7 425.3 541.9 420.6 542.0 422.2 542.2 421.5 542.3 424.1 542.5 421.5 542.6 425.6 542.8 423.0 542.9 422.2 543.1 426.0 543.2 424.1 543.4 425.2 543.5 424.3 543.7 423.4 543.8 423.6 544.0 426.1 544.1 421.6 544.3 425.1 544.4 422.4 544.6 424.1 544.7 425.6 544.9 421.3 545.0 423.3 545.2 422.2 545.3 422.1 545.5 422.4 545.6 424.2 545.8 422.1 545.9 421.2 546.1 424.1 546.2 424.7 546.4 424.0 546.5 420.9 546.7 423.1 546.8 420.1 547.0 423.7 547.1 422.9 547.3 420.0 547.4 419.6 547.6 421.6 547.7 424.9 547.9 422.9 548.0 423.1 548.2 424.7 548.3 420.6 548.5 422.2 548.6 424.5 548.8 424.9 548.9 422.6 549.1 425.7 549.2 421.2 549.4 423.8 549.5 425.1 549.7 422.0 549.8 424.5 550.0 423.3 550.1 422.7 550.3 424.7 550.4 422.3 550.6 420.5 550.7 421.0 550.9 423.2 551.0 421.5 551.2 424.9 551.3 423.4 551.5 420.9 551.6 424.8 551.8 422.7 551.9 421.5 552.1 422.8 552.2 419.5 552.4 423.7 552.5 424.0 552.7 425.4 552.8 422.6 553.0 422.8 553.1 424.5 553.3 422.4 553.4 419.9 553.6 424.0 553.7 420.5 553.9 421.7 554.0 423.4 554.2 426.5 554.3 425.8 554.5 423.3 554.6 424.5 554.8 422.5 554.9 424.1 555.1 423.5 555.2 424.4 555.4 424.1 555.5 422.4 555.7 426.0 555.8 420.9 556.0 422.0 556.1 426.2 556.3 422.6 556.4 423.9 556.6 424.2 556.7 423.6 556.9 423.5 557.0 424.6 557.2 424.1 557.3 421.1 557.5 425.7 557.6 421.5 557.8 424.6 557.9 422.3 558.1 425.5 558.2 424.6 558.4 423.7 558.5 426.5 558.7 425.5 558.8 420.2 559.0 421.7 559.1 421.5 559.3 422.1 559.4 424.3 559.6 419.8 559.7 418.7 559.9 425.2 560.0 423.3 560.2 423.5 560.3 423.4 560.5 421.5 560.6 423.3 560.8 423.1 560.9 423.3 561.1 425.4 561.2 419.9 561.4 425.6 561.5 423.9 561.7 423.7 561.8 422.6 562.0 422.2 562.1 426.4 562.3 423.0 562.4 425.0 562.6 422.5 562.7 426.4 562.9 422.9 563.0 426.9 563.2 425.5 563.3 423.5 563.5 422.2 563.6 421.8 563.8 422.6 563.9 424.4 564.1 422.9 564.2 423.5 564.4 424.3 564.5 421.4 564.7 423.2 564.8 423.2 565.0 421.9 565.1 424.3 565.3 423.6 565.4 425.4 565.6 424.9 565.7 425.7 565.9 425.3 566.0 425.1 566.2 423.7 566.3 422.5 566.5 424.4 566.6 423.3 566.8 419.0 566.9 424.6 567.1 424.0 567.2 415.0 567.4 419.9 567.5 424.2 567.7 420.2 567.8 423.1 568.0 425.9 568.1 422.8 568.3 425.0 568.4 423.7 568.6 422.2 568.7 423.2 568.9 425.2 569.0 426.1 569.2 424.6 569.3 423.0 569.5 424.7 569.6 424.7 569.8 417.7 569.9 423.5 570.1 421.7 570.2 427.3 570.4 425.3 570.5 425.8 570.7 424.4 570.8 422.0 571.0 422.6 571.1 423.3 571.3 422.4 571.4 423.8 571.6 423.4 571.7 420.2 571.9 422.2 572.0 421.2 572.2 419.5 572.3 425.6 572.5 419.0 572.6 425.6 572.8 421.0 572.9 423.9 573.1 419.2 573.2 421.1 573.4 425.0 573.5 422.5 573.7 422.4 573.8 424.7 574.0 423.1 574.1 424.6 574.3 424.1 574.4 423.7 574.6 423.5 574.7 425.4 574.9 419.8 575.0 425.9 575.2 423.3 575.3 424.7 575.5 421.0 575.6 424.4 575.8 424.4 575.9 420.0 576.1 424.5 576.2 423.7 576.4 425.0 576.5 422.7 576.7 423.2 576.8 425.4 577.0 423.1 577.1 424.6 577.3 422.9 577.4 425.6 577.6 422.0 577.7 421.7 577.9 425.2 578.0 423.8 578.2 422.5 578.3 425.9 578.5 423.5 578.6 423.1 578.8 425.7 578.9 425.1 579.1 421.2 579.2 423.0 579.4 424.3 579.5 425.5 579.7 422.6 579.8 424.7 580.0 419.1 580.1 423.1 580.3 421.6 580.4 423.3 580.6 420.7 580.7 423.1 580.9 425.3 581.0 423.3 581.2 424.3 581.3 423.4 581.5 424.2 581.6 423.8 581.8 424.8 581.9 424.4 582.1 423.4 582.2 424.2 582.4 421.8 582.5 422.2 582.7 424.5 582.8 425.8 583.0 421.2 583.1 424.5 583.3 425.8 583.4 425.1 583.6 424.3 583.7 421.1 583.9 422.2 584.0 423.6 584.2 426.0 584.3 424.4 584.5 424.9 584.6 420.9 584.8 424.1 584.9 418.7 585.1 422.9 585.2 425.1 585.4 423.5 585.5 425.3 585.7 423.0 585.8 427.2 586.0 421.5 586.1 423.5 586.3 422.4 586.4 426.0 586.6 419.1 586.7 426.0 586.9 423.5 587.0 426.0 587.2 424.5 587.3 423.3 587.5 426.3 587.6 424.2 587.8 423.1 587.9 425.6 588.1 422.2 588.2 424.3 588.4 425.9 588.5 425.1 588.7 425.4 588.8 424.1 589.0 422.8 589.1 424.0 589.3 423.4 589.4 424.0 589.6 423.0 589.7 421.8 589.9 421.8 590.0 426.5 590.2 423.7 590.3 424.3 590.5 421.1 590.6 422.0 590.8 426.2 590.9 425.0 591.1 426.9 591.2 423.3 591.4 423.5 591.5 424.6 591.7 426.5 591.8 423.3 592.0 425.6 592.1 422.8 592.3 425.5 592.4 419.9 592.6 421.3 592.7 421.3 592.9 427.0 593.0 422.1 593.2 421.8 593.3 425.3 593.5 424.1 593.6 424.9 593.8 422.5 593.9 419.5 594.1 426.0 594.2 426.2 594.4 423.1 594.5 425.8 594.7 422.6 594.8 424.7 595.0 423.3 595.1 422.4 595.3 423.7 595.4 422.2 595.6 425.8 595.7 426.0 595.9 423.8 596.0 426.0 596.2 424.2 596.3 423.1 596.5 424.2 596.6 423.4 596.8 423.6 596.9 427.9" stroke="#008000" stroke-width="1.4" fill="none"/>
<path d="M61.0 101.0L61.2 101.7 61.4 101.0 61.6 98.6 61.8 101.9 62.0 101.2 62.2 99.7 62.4 101.4 62.6 101.1 62.8 101.0 63.0 100.6 63.2 101.4 63.4 99.5 63.6 100.4 63.8 99.9 64.0 101.5 64.2 100.7 64.4 100.2 64.6 99.5 64.8 100.3 65.0 100.7 65.2 100.3 65.4 102.7 65.6 102.2 65.8 96.7 66.0 97.9 66.2 100.5 66.4 100.1 66.6 101.1 66.8 101.1 67.0 104.0 67.2 99.1 67.4 100.3 67.6 103.9 67.8 101.8 68.0 101.9 68.2 100.1 68.4 98.4 68.6 101.1 68.8 101.1 69.0 99.1 69.2 99.9 69.4 100.8 69.6 99.5 69.8 100.8 70.0 101.1 70.2 101.0 70.4 100.2 70.6 101.9 70.8 102.3 71.0 101.5 71.2 99.8 71.4 102.1 71.6 100.3 71.8 102.4 72.0 99.5 72.2 102.5 72.4 101.1 72.6 99.2 72.8 100.6 73.0 101.2 73.2 101.5 73.4 99.7 73.6 99.5 73.8 101.5 74.0 100.5 74.2 101.5 74.4 102.3 74.6 98.7 74.8 101.6 75.0 103.1 75.2 100.8 75.4 100.0 75.6 102.4 75.8 101.6 76.0 102.6 76.2 100.8 76.4 99.1 76.6 101.1 76.8 100.7 77.0 102.5 77.2 101.6 77.4 98.9 77.6 99.6 77.8 102.7 78.0 102.4 78.2 100.4 78.4 101.4 78.6 102.1 78.8 102.1 79.0 102.8 79.2 101.8 79.4 101.3 79.6 101.1 79.8 103.1 80.0 98.1 80.2 101.3 80.4 101.6 80.6 99.4 80.8 102.0 81.0 100.6 81.2 102.8 81.4 101.4 81.6 102.6 81.8 103.4 82.0 102.2 82.2 100.3 82.4 99.3 82.6 104.3 82.8 101.5 83.0 100.6 83.2 101.9 83.4 101.4 83.6 103.0 83.8 101.7 84.0 101.7 84.2 100.6 84.4 102.4 84.6 100.2 84.8 102.7 85.0 104.0 85.2 99.5 85.4 98.1 85.6 102.7 85.8 105.6 86.0 100.3 86.2 99.9 86.4 102.7 86.6 100.6 86.8 101.1 87.0 101.3 87.2 102.7 87.4 101.3 87.6 102.3 87.8 101.6 88.0 100.6 88.2 101.4 88.4 100.5 88.6 102.0 88.8 100.3 89.0 100.3 89.2 104.2 89.4 101.9 89.6 101.9 89.8 102.8 90.0 101.4 90.2 101.7 90.4 102.7 90.6 102.5 90.8 100.3 91.0 103.3 91.2 101.2 91.4 100.5 91.6 100.7 91.8 101.5 92.0 104.6 92.2 100.4 92.4 102.4 92.6 98.9 92.8 102.2 93.0 103.5 93.2 101.8 93.4 101.2 93.6 102.5 93.8 103.3 94.0 103.2 94.2 105.2 94.4 102.6 94.6 101.4 94.8 102.1 95.0 102.2 95.2 102.4 95.4 102.3 95.6 102.6 95.8 99.8 96.0 103.6 96.2 101.5 96.4 100.6 96.6 103.3 96.8 104.3 97.0 103.1 97.2 102.6 97.4 101.0 97.6 106.7 97.8 103.7 98.0 100.7 98.2 101.3 98.4 102.6 98.6 100.1 98.8 102.7 99.0 101.8 99.2 104.3 99.4 104.0 99.6 98.5 99.8 102.6 100.0 100.2 100.2 104.3 100.4 102.9 100.6 103.5 100.8 101.1 101.0 105.4 101.2 105.7 101.4 101.1 101.6 103.3 101.8 101.8 102.0 102.7 102.2 100.9 102.4 105.6 102.6 101.4 102.8 102.4 103.0 103.6 103.2 101.9 103.4 102.6 103.6 102.1 103.8 102.8 104.0 101.2 104.2 102.3 104.4 102.7 104.6 102.5 104.8 103.1 105.0 102.6 105.2 104.2 105.4 102.6 105.6 102.9 105.8 102.2 106.0 102.4 106.2 101.3 106.4 104.0 106.6 101.5 106.8 102.1 107.0 103.8 107.2 103.9 107.4 102.7 107.6 100.3 107.8 104.0 108.0 103.8 108.2 101.3 108.4 104.6 108.6 102.4 108.8 101.8 109.0 103.6 109.2 103.2 109.4 103.8 109.6 101.1 109.8 106.3 110.0 102.7 110.2 101.2 110.4 104.4 110.6 102.9 110.8 103.9 111.0 102.9 111.2 103.2 111.4 103.7 111.6 102.1 111.8 104.2 112.0 102.5 112.2 101.8 112.4 103.2 112.6 103.7 112.8 102.7 113.0 101.7 113.2 103.9 113.4 100.2 113.6 101.3 113.8 102.9 114.0 100.7 114.2 102.8 114.4 102.6 114.6 104.0 114.8 101.2 115.0 101.6 115.2 103.0 115.4 98.8 115.6 107.1 115.8 101.3 116.0 101.3 116.2 103.6 116.4 102.2 116.6 99.6 116.8 103.1 117.0 103.4 117.2 101.4 117.4 101.6 117.6 102.7 117.8 100.6 118.0 102.6 118.2 102.2 118.4 100.8 118.6 99.7 118.8 101.4 119.0 100.4 119.2 103.2 119.4 101.9 119.6 102.8 119.8 101.8 120.0 101.9 120.2 100.3 120.4 102.4 120.6 104.1 120.8 100.9 121.0 100.4 121.2 101.0 121.4 100.5 121.6 100.1 121.8 101.4 122.0 100.7 122.2 103.2 122.4 101.0 122.6 101.5 122.8 102.4 123.0 100.5 123.2 103.0 123.4 99.9 123.6 99.6 123.8 100.2 124.0 100.5 124.2 98.6 124.4 100.6 124.6 98.1 124.8 102.6 125.0 100.4 125.2 99.5 125.4 99.0 125.6 99.8 125.8 100.0 126.0 98.7 126.2 98.9 126.4 99.9 126.6 99.4 126.8 101.5 127.0 101.8 127.2 100.1 127.4 100.7 127.6 98.0 127.8 100.9 128.0 99.9 128.2 100.7 128.4 102.4 128.6 96.5 128.8 100.3 129.0 98.3 129.2 100.8 129.4 98.0 129.6 99.2 129.8 100.2 130.0 100.8 130.2 100.0 130.4 98.7 130.6 99.1 130.8 101.2 131.0 99.9 131.2 97.4 131.4 101.2 131.6 100.5 131.8 101.2 132.0 99.4 132.2 101.1 132.4 98.3 132.6 100.7 132.8 99.1 133.0 100.9 133.2 101.4 133.4 98.8 133.6 99.8 133.8 99.9 134.0 101.6 134.2 100.9 134.4 98.0 134.6 100.5 134.8 101.0 135.0 103.0 135.2 97.3 135.4 99.0 135.6 101.8 135.8 97.8 136.0 98.0 136.2 100.6 136.4 101.3 136.6 98.8 136.8 100.6 137.0 100.0 137.2 102.1 137.4 99.8 137.6 101.3 137.8 98.4 138.0 99.5 138.2 99.6 138.4 101.5 138.6 100.6 138.8 98.6 139.0 100.8 139.2 100.9 139.4 99.6 139.6 99.4 139.8 99.4 140.0 97.2 140.2 100.0 140.4 100.1 140.6 98.4 140.8 100.8 141.0 97.7 141.2 98.9 141.4 99.0 141.6 102.7 141.8 97.3 142.0 100.5 142.2 101.1 142.4 100.2 142.6 101.5 142.8 98.2 143.0 96.3 143.2 100.8 143.4 97.9 143.6 99.2 143.8 97.9 144.0 101.2 144.2 100.9 144.4 98.6 144.6 101.0 144.8 99.8 145.0 99.4 145.2 99.7 145.4 99.3 145.6 100.5 145.8 100.1 146.0 99.1 146.2 101.1 146.4 98.7 146.6 100.0 146.8 100.2 147.0 101.8 147.2 98.8 147.4 102.2 147.6 99.8 147.8 99.3 148.0 98.6 148.2 100.4 148.4 99.6 148.6 97.9 148.8 97.9 149.0 98.7 149.2 98.5 149.4 101.2 149.6 101.6 149.8 100.8 150.0 100.1 150.2 98.9 150.4 99.6 150.6 100.8 150.8 102.7 151.0 100.9 151.2 99.1 151.4 99.6 151.6 98.8 151.8 98.3 152.0 99.2 152.2 99.8 152.4 102.2 152.6 99.6 152.8 101.5 153.0 102.1 153.2 99.6 153.4 101.9 153.6 100.5 153.8 98.8 154.0 99.8 154.2 99.5 154.4 99.1 154.6 99.2 154.8 99.7 155.0 100.1 155.2 98.2 155.4 99.5 155.6 97.2 155.8 99.9 156.0 100.4 156.2 99.8 156.4 99.9 156.6 100.4 156.8 98.5 157.0 99.2 157.2 100.3 157.4 101.1 157.6 100.1 157.8 103.4 158.0 99.4 158.2 101.1 158.4 101.5 158.6 99.4 158.8 98.4 159.0 97.8 159.2 99.8 159.4 101.3 159.6 100.0 159.8 99.9 160.0 99.1 160.2 100.5 160.4 96.4 160.6 100.0 160.8 99.7 161.0 97.6 161.2 102.9 161.4 97.6 161.6 98.1 161.8 97.9 162.0 101.4 162.2 98.4 162.4 100.7 162.6 100.6 162.8 100.1 163.0 97.8 163.2 98.8 163.4 102.2 163.6 97.8 163.8 98.5 164.0 99.5 164.2 101.0 164.4 100.1 164.6 100.9 164.8 98.2 165.0 101.2 165.2 100.6 165.4 97.4 165.6 102.1 165.8 103.2 166.0 98.6 166.2 99.9 166.4 101.9 166.6 97.6 166.8 96.8 167.0 97.9 167.2 99.0 167.4 99.0 167.6 100.8 167.8 100.2 168.0 98.0 168.2 100.7 168.4 102.7 168.6 101.7 168.8 101.4 169.0 99.9 169.2 101.4 169.4 98.4 169.6 101.0 169.8 99.8 170.0 101.6 170.2 100.6 170.4 98.3 170.6 100.1 170.8 101.8 171.0 98.2 171.2 99.1 171.4 98.8 171.6 97.7 171.8 101.4 172.0 101.9 172.2 101.2 172.4 100.3 172.6 99.9 172.8 100.3 173.0 98.9 173.2 101.3 173.4 101.6 173.6 101.4 173.8 99.2 174.0 100.1 174.2 99.8 174.4 102.7 174.6 100.3 174.8 97.2 175.0 100.6 175.2 102.8 175.4 101.1 175.6 101.4 175.8 100.1 176.0 97.1 176.2 97.3 176.4 98.2 176.6 99.9 176.8 100.5 177.0 101.1 177.2 99.6 177.4 101.5 177.6 99.7 177.8 99.1 178.0 101.4 178.2 98.8 178.4 96.0 178.6 98.6 178.8 100.3 179.0 95.5 179.2 99.6 179.4 99.7 179.6 98.0 179.8 98.0 180.0 99.5 180.2 99.4 180.4 102.1 180.6 100.8 180.8 97.8 181.0 98.9 181.2 101.3 181.4 103.1 181.6 100.8 181.8 100.7 182.0 103.0 182.2 100.2 182.4 99.7 182.6 98.1 182.8 99.4 183.0 103.4 183.2 98.0 183.4 100.2 183.6 98.0 183.8 100.3 184.0 101.4 184.2 99.7 184.4 101.1 184.6 101.1 184.8 100.6 185.0 102.4 185.2 100.9 185.4 99.2 185.6 98.5 185.8 98.0 186.0 99.7 186.2 97.9 186.4 101.7 186.6 99.2 186.8 94.5 187.0 92.2 187.2 92.5 187.4 84.2 187.6 83.2 187.8 82.7 188.0 78.3 188.2 79.0 188.4 80.7 188.6 84.9 188.8 87.1 189.0 90.5 189.2 93.5 189.4 94.8 189.6 98.0 189.8 96.4 190.0 96.1 190.2 96.1 190.4 96.6 190.6 98.4 190.8 100.9 191.0 99.7 191.2 98.6 191.4 98.0 191.6 98.8 191.8 99.0 192.0 98.7 192.2 97.4 192.4 98.8 192.6 100.9 192.8 96.0 193.0 98.7 193.2 95.6 193.4 98.6 193.6 96.7 193.8 94.0 194.0 96.3 194.2 97.7 194.4 93.7 194.6 93.7 194.8 90.0 195.0 85.0 195.2 87.2 195.4 84.3 195.6 81.6 195.8 84.6 196.0 84.3 196.2 84.1 196.4 87.7 196.6 86.9 196.8 91.1 197.0 90.5 197.2 94.4 197.4 93.4 197.6 98.4 197.8 97.5 198.0 100.0 198.2 97.2 198.4 98.1 198.6 100.4 198.8 95.2 199.0 97.9 199.2 101.1 199.4 100.4 199.6 101.2 199.8 99.3 200.0 100.7 200.2 98.8 200.4 97.8 200.6 97.4 200.8 99.1 201.0 99.1 201.2 99.0 201.4 94.6 201.6 96.9 201.8 99.1 202.0 100.4 202.2 99.1 202.4 98.6 202.6 96.4 202.8 102.9 203.0 98.2 203.2 102.4 203.4 102.2 203.6 100.2 203.8 98.9 204.0 99.9 204.2 98.0 204.4 100.0 204.6 99.6 204.8 100.3 205.0 100.9 205.2 102.0 205.4 98.8 205.6 100.8 205.8 98.0 206.0 97.7 206.2 98.0 206.4 97.3 206.6 100.1 206.8 99.9 207.0 100.2 207.2 98.0 207.4 98.2 207.6 96.6 207.8 95.4 208.0 97.4 208.2 96.7 208.4 94.2 208.6 96.2 208.8 92.1 209.0 93.7 209.2 92.2 209.4 91.4 209.6 89.5 209.8 91.2 210.0 88.8 210.2 87.4 210.4 82.6 210.6 75.7 210.8 70.5 211.0 60.3 211.2 51.5 211.4 39.9 211.6 26.4 211.8 16.7 212.0 15.8 212.2 22.7 212.4 30.2 212.6 43.1 212.8 52.3 213.0 58.2 213.2 63.3 213.4 67.2 213.6 67.6 213.8 68.7 214.0 71.8 214.2 71.4 214.4 73.9 214.6 70.1 214.8 69.0 215.0 72.8 215.2 72.4 215.4 69.0 215.6 66.7 215.8 67.4 216.0 63.1 216.2 63.5 216.4 59.3 216.6 61.5 216.8 58.9 217.0 63.1 217.2 67.9 217.4 68.0 217.6 72.4 217.8 72.8 218.0 74.5 218.2 75.0 218.4 79.6 218.6 78.2 218.8 80.6 219.0 76.1 219.2 77.4 219.4 78.1 219.6 80.8 219.8 82.8 220.0 81.0 220.2 82.6 220.4 84.1 220.6 91.1 220.8 91.2 221.0 92.5 221.2 95.2 221.4 93.0 221.6 95.5 221.8 100.6 222.0 100.6 222.2 100.9 222.4 99.7 222.6 102.5 222.8 104.7 223.0 100.4 223.2 102.5 223.4 102.1 223.6 103.4 223.8 103.1 224.0 103.0 224.2 102.0 224.4 103.5 224.6 102.7 224.8 103.5 225.0 103.7 225.2 104.9 225.4 103.2 225.6 103.7 225.8 105.8 226.0 104.0 226.2 104.0 226.4 105.7 226.6 104.9 226.8 104.7 227.0 104.9 227.2 102.8 227.4 105.3 227.6 106.7 227.8 105.6 228.0 102.4 228.2 105.2 228.4 103.5 228.6 104.5 228.8 105.1 229.0 103.2 229.2 107.0 229.4 104.9 229.6 106.2 229.8 106.0 230.0 107.1 230.2 106.9 230.4 102.9 230.6 105.2 230.8 102.0 231.0 104.5 231.2 106.3 231.4 106.6 231.6 107.2 231.8 104.7 232.0 105.8 232.2 105.5 232.4 107.3 232.6 107.8 232.8 104.9 233.0 111.1 233.2 105.5 233.4 104.9 233.6 106.4 233.8 106.7 234.0 106.4 234.2 104.6 234.4 107.8 234.6 105.7 234.8 107.9 235.0 107.7 235.2 103.7 235.4 104.2 235.6 104.2 235.8 106.1 236.0 105.8 236.2 106.1 236.4 104.5 236.6 106.4 236.8 107.9 237.0 103.8 237.2 105.5 237.4 106.2 237.6 105.6 237.8 105.6 238.0 108.5 238.2 107.8 238.4 107.2 238.6 104.8 238.8 109.3 239.0 106.5 239.2 105.1 239.4 105.4 239.6 105.2 239.8 109.1 240.0 106.3 240.2 106.1 240.4 102.8 240.6 107.1 240.8 104.4 241.0 104.3 241.2 106.9 241.4 104.7 241.6 107.3 241.8 107.7 242.0 103.4 242.2 105.9 242.4 103.7 242.6 106.0 242.8 107.4 243.0 104.0 243.2 108.8 243.4 105.6 243.6 104.3 243.8 105.9 244.0 107.2 244.2 104.0 244.4 106.0 244.6 104.0 244.8 107.8 245.0 106.2 245.2 105.4 245.4 107.5 245.6 104.0 245.8 105.4 246.0 108.7 246.2 105.7 246.4 107.9 246.6 106.1 246.8 104.7 247.0 105.4 247.2 105.8 247.4 105.0 247.6 104.3 247.8 104.3 248.0 103.2 248.2 105.5 248.4 105.7 248.6 106.1 248.8 102.0 249.0 105.5 249.2 103.8 249.4 101.0 249.6 102.5 249.8 102.4 250.0 100.5 250.2 99.1 250.4 97.4 250.6 95.0 250.8 91.0 251.0 85.4 251.2 84.9 251.4 84.3 251.6 81.4 251.8 82.0 252.0 81.7 252.2 80.6 252.4 83.7 252.6 79.7 252.8 82.5 253.0 79.9 253.2 78.3 253.4 78.5 253.6 74.3 253.8 73.9 254.0 68.1 254.2 67.5 254.4 64.5 254.6 65.0 254.8 65.6 255.0 66.6 255.2 72.2 255.4 72.7 255.6 76.5 255.8 82.5 256.0 85.3 256.2 86.8 256.4 87.4 256.6 90.6 256.8 84.9 257.0 84.4 257.2 82.3 257.4 83.1 257.6 80.1 257.8 79.5 258.0 78.2 258.2 76.1 258.4 76.0 258.6 77.5 258.8 84.8 259.0 85.9 259.2 88.4 259.4 90.0 259.6 93.1 259.8 95.4 260.0 97.7 260.2 96.4 260.4 101.4 260.6 102.1 260.8 104.0 261.0 104.6 261.2 106.1 261.4 105.3 261.6 106.8 261.8 102.0 262.0 104.4 262.2 108.8 262.4 104.5 262.6 106.1 262.8 107.7 263.0 105.4 263.2 107.9 263.4 104.7 263.6 104.1 263.8 105.0 264.0 104.6 264.2 107.1 264.4 106.7 264.6 107.7 264.8 105.7 265.0 111.2 265.2 107.2 265.4 107.4 265.6 108.1 265.8 107.1 266.0 106.6 266.2 107.7 266.4 109.0 266.6 108.6 266.8 109.1 267.0 106.8 267.2 106.6 267.4 110.8 267.6 107.4 267.8 108.5 268.0 108.9 268.2 110.0 268.4 105.8 268.6 107.2 268.8 107.3 269.0 107.5 269.2 104.3 269.4 107.8 269.6 103.7 269.8 108.5 270.0 108.8 270.2 108.9 270.4 106.3 270.6 109.5 270.8 106.8 271.0 106.3 271.2 106.7 271.4 106.9 271.6 108.4 271.8 109.4 272.0 105.0 272.2 107.4 272.4 109.6 272.6 108.6 272.8 109.0 273.0 106.0 273.2 109.7 273.4 106.0 273.6 108.6 273.8 110.4 274.0 111.2 274.2 109.1 274.4 109.7 274.6 107.5 274.8 107.7 275.0 110.2 275.2 108.4 275.4 108.2 275.6 106.3 275.8 108.7 276.0 109.4 276.2 107.3 276.4 107.7 276.6 110.8 276.8 108.8 277.0 108.1 277.2 106.8 277.4 107.6 277.6 108.1 277.8 110.6 278.0 107.6 278.2 111.2 278.4 107.1 278.6 108.0 278.8 109.8 279.0 108.2 279.2 107.3 279.4 108.3 279.6 109.2 279.8 105.9 280.0 108.1 280.2 108.3 280.4 107.8 280.6 109.5 280.8 107.5 281.0 107.7 281.2 108.2 281.4 109.1 281.6 107.5 281.8 109.9 282.0 106.0 282.2 109.0 282.4 105.4 282.6 106.0 282.8 106.3 283.0 108.2 283.2 105.8 283.4 103.2 283.6 105.0 283.8 102.0 284.0 100.3 284.2 101.5 284.4 100.3 284.6 101.1 284.8 98.4 285.0 99.6 285.2 100.0 285.4 99.7 285.6 99.6 285.8 99.2 286.0 102.2 286.2 101.8 286.4 103.1 286.6 102.6 286.8 103.9 287.0 103.1 287.2 105.4 287.4 107.0 287.6 106.6 287.8 108.2 288.0 107.7 288.2 109.6 288.4 107.6 288.6 105.6 288.8 108.9 289.0 108.1 289.2 107.0 289.4 109.5 289.6 109.0 289.8 109.3 290.0 108.1 290.2 108.9 290.4 109.0 290.6 111.3 290.8 107.5 291.0 108.5 291.2 109.0 291.4 105.7 291.6 105.8 291.8 111.3 292.0 105.2 292.2 108.5 292.4 106.2 292.6 106.0 292.8 103.9 293.0 105.2 293.2 107.4 293.4 103.7 293.6 106.3 293.8 105.5 294.0 107.6 294.2 103.5 294.4 105.7 294.6 104.8 294.8 102.7 295.0 100.4 295.2 105.0 295.4 100.5 295.6 101.8 295.8 103.9 296.0 104.4 296.2 101.7 296.4 103.2 296.6 103.2 296.8 105.7 297.0 108.1 297.2 102.0 297.4 106.6 297.6 101.3 297.8 106.1 298.0 104.8 298.2 109.8 298.4 107.4 298.6 106.4 298.8 107.0 299.0 107.2 299.2 108.5 299.4 108.2 299.6 109.6 299.8 111.1 300.0 110.0 300.2 107.2 300.4 106.7 300.6 108.1 300.8 110.8 301.0 108.8 301.2 108.4 301.4 109.6 301.6 107.3 301.8 107.7 302.0 110.2 302.2 109.0 302.4 108.8 302.6 109.9 302.8 108.6 303.0 108.4 303.2 108.7 303.4 110.3 303.6 109.5 303.8 107.6 304.0 108.8 304.2 110.2 304.4 111.9 304.6 107.3 304.8 109.3 305.0 108.2 305.2 109.5 305.4 108.6 305.6 109.7 305.8 107.8 306.0 105.6 306.2 105.0 306.4 105.6 306.6 104.8 306.8 106.9 307.0 104.9 307.2 99.7 307.4 101.1 307.6 97.7 307.8 96.5 308.0 99.5 308.2 98.9 308.4 96.3 308.6 100.4 308.8 96.7 309.0 96.9 309.2 100.2 309.4 100.2 309.6 100.3 309.8 101.0 310.0 102.0 310.2 101.8 310.4 102.1 310.6 99.6 310.8 100.4 311.0 103.1 311.2 100.8 311.4 102.3 311.6 103.0 311.8 100.3 312.0 101.0 312.2 103.7 312.4 101.7 312.6 103.8 312.8 103.9 313.0 103.5 313.2 103.0 313.4 102.7 313.6 103.2 313.8 106.4 314.0 107.2 314.2 106.9 314.4 109.0 314.6 107.4 314.8 110.4 315.0 109.1 315.2 109.3 315.4 109.6 315.6 109.6 315.8 113.6 316.0 107.6 316.2 110.3 316.4 112.0 316.6 111.3 316.8 109.8 317.0 112.9 317.2 108.7 317.4 108.4 317.6 111.2 317.8 108.2 318.0 106.8 318.2 111.7 318.4 111.6 318.6 111.5 318.8 109.7 319.0 110.7 319.2 109.0 319.4 113.1 319.6 111.7 319.8 111.6 320.0 107.6 320.2 111.7 320.4 112.7 320.6 112.3 320.8 111.6 321.0 110.4 321.2 109.9 321.4 111.3 321.6 110.9 321.8 110.6 322.0 109.6 322.2 112.5 322.4 108.0 322.6 109.4 322.8 108.1 323.0 110.0 323.2 110.0 323.4 108.9 323.6 107.3 323.8 103.0 324.0 107.0 324.2 103.4 324.4 101.3 324.6 100.3 324.8 98.7 325.0 99.1 325.2 98.6 325.4 97.5 325.6 94.6 325.8 99.2 326.0 101.0 326.2 102.2 326.4 102.4 326.6 104.5 326.8 106.5 327.0 105.3 327.2 109.0 327.4 104.6 327.6 106.2 327.8 107.0 328.0 105.0 328.2 107.2 328.4 110.6 328.6 110.5 328.8 108.6 329.0 110.9 329.2 108.6 329.4 107.3 329.6 108.4 329.8 107.8 330.0 109.2 330.2 106.0 330.4 110.0 330.6 108.0 330.8 110.3 331.0 107.0 331.2 108.9 331.4 110.0 331.6 111.4 331.8 108.5 332.0 113.0 332.2 111.4 332.4 110.0 332.6 112.7 332.8 111.0 333.0 112.6 333.2 114.4 333.4 112.0 333.6 110.0 333.8 110.1 334.0 111.5 334.2 110.9 334.4 109.0 334.6 109.1 334.8 111.0 335.0 113.4 335.2 105.8 335.4 110.7 335.6 109.3 335.8 110.8 336.0 111.0 336.2 109.9 336.4 108.4 336.6 108.0 336.8 107.5 337.0 112.4 337.2 110.4 337.4 110.1 337.6 110.6 337.8 109.2 338.0 111.8 338.2 113.4 338.4 113.2 338.6 109.2 338.8 113.7 339.0 110.5 339.2 108.8 339.4 109.9 339.6 110.3 339.8 111.8 340.0 110.3 340.2 109.6 340.4 111.4 340.6 114.7 340.8 110.8 341.0 112.6 341.2 112.0 341.4 115.9 341.6 109.1 341.8 113.6 342.0 110.0 342.2 111.0 342.4 111.8 342.6 116.7 342.8 110.8 343.0 109.1 343.2 113.9 343.4 110.7 343.6 111.6 343.8 111.9 344.0 112.1 344.2 111.7 344.4 112.4 344.6 112.6 344.8 113.3 345.0 111.4 345.2 110.9 345.4 110.4 345.6 112.9 345.8 112.0 346.0 112.9 346.2 112.9 346.4 114.6 346.6 112.4 346.8 113.2 347.0 110.3 347.2 110.5 347.4 111.6 347.6 110.3 347.8 113.1 348.0 110.1 348.2 112.2 348.4 108.4 348.6 110.5 348.8 111.6 349.0 111.7 349.2 109.5 349.4 112.3 349.6 113.6 349.8 113.1 350.0 111.2 350.2 111.3 350.4 110.4 350.6 113.1 350.8 114.3 351.0 111.4 351.2 109.6 351.4 112.5 351.6 113.3 351.8 108.1 352.0 112.4 352.2 115.5 352.4 113.4 352.6 113.0 352.8 112.8 353.0 113.8 353.2 110.8 353.4 111.0 353.6 112.8 353.8 111.2 354.0 112.6 354.2 109.4 354.4 113.4 354.6 113.5 354.8 112.3 355.0 112.5 355.2 114.7 355.4 110.6 355.6 110.9 355.8 110.6 356.0 111.6 356.2 110.8 356.4 112.3 356.6 111.3 356.8 110.1 357.0 110.0 357.2 114.1 357.4 112.2 357.6 112.0 357.8 112.3 358.0 112.2 358.2 113.4 358.4 113.1 358.6 111.4 358.8 111.1 359.0 110.7 359.2 110.4 359.4 114.4 359.6 110.9 359.8 109.3 360.0 111.0 360.2 111.1 360.4 112.7 360.6 110.9 360.8 113.0 361.0 112.8 361.2 114.1 361.4 115.4 361.6 116.4 361.8 114.1 362.0 110.2 362.2 111.3 362.4 112.1 362.6 114.7 362.8 112.5 363.0 113.1 363.2 110.8 363.4 111.7 363.6 111.6 363.8 109.6 364.0 111.1 364.2 111.2 364.4 108.9 364.6 110.3 364.8 110.8 365.0 108.1 365.2 107.6 365.4 106.8 365.6 106.1 365.8 107.0 366.0 106.0 366.2 106.1 366.4 105.5 366.6 104.5 366.8 105.6 367.0 107.8 367.2 105.9 367.4 107.1 367.6 110.9 367.8 110.5 368.0 108.2 368.2 110.6 368.4 109.0 368.6 112.8 368.8 109.8 369.0 111.1 369.2 113.3 369.4 110.2 369.6 113.6 369.8 110.6 370.0 112.3 370.2 111.6 370.4 112.0 370.6 112.5 370.8 112.2 371.0 110.8 371.2 113.7 371.4 113.5 371.6 114.4 371.8 114.6 372.0 110.5 372.2 114.5 372.4 114.5 372.6 111.8 372.8 114.1 373.0 114.8 373.2 111.8 373.4 110.6 373.6 112.1 373.8 116.8 374.0 113.0 374.2 110.8 374.4 112.3 374.6 111.2 374.8 112.1 375.0 112.8 375.2 108.9 375.4 113.2 375.6 114.8 375.8 112.4 376.0 112.1 376.2 114.4 376.4 110.8 376.6 110.9 376.8 110.7 377.0 112.5 377.2 113.3 377.4 112.6 377.6 113.6 377.8 114.0 378.0 113.5 378.2 111.5 378.4 112.4 378.6 114.6 378.8 111.2 379.0 112.4 379.2 112.1 379.4 112.5 379.6 111.1 379.8 110.7 380.0 116.5 380.2 114.1 380.4 111.6 380.6 112.5 380.8 113.6 381.0 112.0 381.2 113.4 381.4 111.5 381.6 111.8 381.8 112.1 382.0 111.4 382.2 108.2 382.4 111.7 382.6 111.9 382.8 111.9 383.0 109.5 383.2 111.2 383.4 110.7 383.6 107.4 383.8 106.4 384.0 110.1 384.2 107.6 384.4 110.3 384.6 111.7 384.8 107.4 385.0 107.1 385.2 108.1 385.4 109.1 385.6 106.5 385.8 110.2 386.0 110.0 386.2 109.8 386.4 108.3 386.6 110.8 386.8 111.1 387.0 108.3 387.2 113.6 387.4 110.3 387.6 111.6 387.8 110.6 388.0 112.2 388.2 113.6 388.4 110.8 388.6 109.7 388.8 111.7 389.0 110.5 389.2 111.5 389.4 112.5 389.6 112.7 389.8 114.8 390.0 111.3 390.2 113.4 390.4 112.2 390.6 115.0 390.8 116.8 391.0 113.5 391.2 115.5 391.4 112.3 391.6 110.7 391.8 111.2 392.0 110.7 392.2 111.7 392.4 112.7 392.6 114.8 392.8 114.2 393.0 113.8 393.2 112.5 393.4 112.1 393.6 113.2 393.8 113.4 394.0 113.6 394.2 113.7 394.4 113.0 394.6 110.3 394.8 111.5 395.0 112.0 395.2 115.7 395.4 112.6 395.6 114.2 395.8 115.4 396.0 113.7 396.2 112.6 396.4 112.8 396.6 111.7 396.8 113.7 397.0 114.9 397.2 114.1 397.4 114.4 397.6 114.3 397.8 116.2 398.0 112.3 398.2 113.4 398.4 114.2 398.6 115.0 398.8 109.5 399.0 112.3 399.2 112.8 399.4 111.5 399.6 114.3 399.8 113.3 400.0 112.3 400.2 110.3 400.4 110.7 400.6 111.1 400.8 113.1 401.0 110.4 401.2 109.0 401.4 109.7 401.6 110.8 401.8 113.9 402.0 114.9 402.2 110.2 402.4 112.1 402.6 112.5 402.8 112.1 403.0 109.8 403.2 107.9 403.4 109.0 403.6 106.9 403.8 110.1 404.0 111.0 404.2 107.1 404.4 110.0 404.6 110.8 404.8 112.5 405.0 112.9 405.2 112.3 405.4 110.4 405.6 111.2 405.8 113.8 406.0 111.3 406.2 112.4 406.4 115.0 406.6 113.1 406.8 111.0 407.0 112.7 407.2 114.3 407.4 113.1 407.6 115.2 407.8 115.5 408.0 112.7 408.2 112.9 408.4 113.6 408.6 112.0 408.8 114.4 409.0 113.5 409.2 115.0 409.4 112.9 409.6 112.5 409.8 116.6 410.0 112.5 410.2 112.9 410.4 112.7 410.6 113.2 410.8 112.3 411.0 113.5 411.2 112.4 411.4 112.7 411.6 113.7 411.8 114.0 412.0 113.4 412.2 111.3 412.4 112.7 412.6 111.5 412.8 111.2 413.0 108.3 413.2 111.4 413.4 109.7 413.6 112.0 413.8 109.9 414.0 106.8 414.2 106.0 414.4 109.4 414.6 106.1 414.8 108.2 415.0 106.5 415.2 110.1 415.4 107.0 415.6 109.3 415.8 109.1 416.0 106.6 416.2 107.0 416.4 109.9 416.6 107.8 416.8 106.7 417.0 110.0 417.2 112.1 417.4 108.3 417.6 110.6 417.8 108.3 418.0 110.7 418.2 108.4 418.4 110.9 418.6 110.0 418.8 109.1 419.0 110.1 419.2 109.2 419.4 108.7 419.6 109.2 419.8 111.1 420.0 110.0 420.2 112.7 420.4 113.2 420.6 113.5 420.8 112.4 421.0 113.5 421.2 113.7 421.4 116.0 421.6 113.0 421.8 113.8 422.0 114.2 422.2 114.5 422.4 113.7 422.6 114.0 422.8 116.6 423.0 114.2 423.2 116.6 423.4 118.3 423.6 117.2 423.8 112.7 424.0 116.6 424.2 116.2 424.4 116.3 424.6 113.1 424.8 116.7 425.0 113.9 425.2 117.6 425.4 117.2 425.6 119.5 425.8 115.1 426.0 113.4 426.2 117.3 426.4 117.1 426.6 115.2 426.8 117.8 427.0 116.9 427.2 113.9 427.4 115.3 427.6 115.2 427.8 115.8 428.0 116.2 428.2 114.9 428.4 115.6 428.6 116.8 428.8 115.7 429.0 115.4 429.2 115.3 429.4 115.6 429.6 112.9 429.8 116.0 430.0 114.2 430.2 115.8 430.4 113.5 430.6 117.0 430.8 116.0 431.0 113.6 431.2 115.9 431.4 114.4 431.6 118.2 431.8 116.2 432.0 114.3 432.2 115.8 432.4 115.4 432.6 117.2 432.8 115.9 433.0 116.1 433.2 113.7 433.4 116.5 433.6 118.4 433.8 116.2 434.0 115.2 434.2 115.5 434.4 113.8 434.6 115.5 434.8 113.5 435.0 115.2 435.2 114.5 435.4 113.8 435.6 115.9 435.8 112.8 436.0 114.9 436.2 113.0 436.4 117.7 436.6 117.9 436.8 116.2 437.0 117.7 437.2 115.7 437.4 115.6 437.6 114.1 437.8 113.4 438.0 114.9 438.2 113.9 438.4 114.0 438.6 115.7 438.8 114.4 439.0 112.2 439.2 114.2 439.4 113.4 439.6 114.1 439.8 112.8 440.0 116.2 440.2 117.3 440.4 112.7 440.6 115.4 440.8 115.3 441.0 112.7 441.2 114.5 441.4 116.4 441.6 115.4 441.8 116.5 442.0 112.2 442.2 112.7 442.4 114.1 442.6 114.1 442.8 113.4 443.0 112.6 443.2 112.4 443.4 112.0 443.6 113.4 443.8 108.5 444.0 115.1 444.2 111.9 444.4 110.6 444.6 113.7 444.8 111.0 445.0 113.8 445.2 112.8 445.4 114.5 445.6 115.0 445.8 115.9 446.0 113.3 446.2 113.8 446.4 114.3 446.6 112.3 446.8 115.3 447.0 114.7 447.2 112.5 447.4 116.4 447.6 116.6 447.8 112.6 448.0 115.5 448.2 116.5 448.4 115.9 448.6 113.1 448.8 112.5 449.0 114.3 449.2 113.7 449.4 114.4 449.6 114.2 449.8 115.0 450.0 113.2 450.2 113.7 450.4 118.2 450.6 113.4 450.8 114.4 451.0 113.5 451.2 113.1 451.4 111.1 451.6 112.9 451.8 111.7 452.0 112.6 452.2 114.1 452.4 111.0 452.6 111.5 452.8 108.5 453.0 110.0 453.2 112.0 453.4 109.5 453.6 108.7 453.8 110.0 454.0 109.6 454.2 109.8 454.4 109.9 454.6 113.8 454.8 109.8 455.0 110.9 455.2 111.0 455.4 114.1 455.6 112.2 455.8 114.9 456.0 113.5 456.2 113.5 456.4 111.6 456.6 115.8 456.8 115.0 457.0 115.0 457.2 114.3 457.4 114.0 457.6 112.8 457.8 116.2 458.0 115.3 458.2 114.4 458.4 114.0 458.6 115.2 458.8 114.9 459.0 117.5 459.2 116.2 459.4 114.1 459.6 113.3 459.8 114.6 460.0 113.6 460.2 115.0 460.4 115.4 460.6 115.7 460.8 115.3 461.0 114.2 461.2 115.3 461.4 112.8 461.6 113.9 461.8 115.0 462.0 113.9 462.2 111.3 462.4 111.2 462.6 110.2 462.8 115.0 463.0 109.6 463.2 111.4 463.4 114.1 463.6 112.7 463.8 112.9 464.0 110.0 464.2 111.8 464.4 115.3 464.6 110.7 464.8 111.6 465.0 110.7 465.2 111.4 465.4 112.3 465.6 114.2 465.8 111.1 466.0 110.6 466.2 113.2 466.4 113.8 466.6 115.9 466.8 115.1 467.0 113.4 467.2 115.4 467.4 116.4 467.6 115.4 467.8 114.6 468.0 116.2 468.2 114.8 468.4 112.6 468.6 117.5 468.8 113.6 469.0 115.1 469.2 115.2 469.4 115.2 469.6 115.3 469.8 113.6 470.0 116.6 470.2 115.9 470.4 115.9 470.6 117.5 470.8 117.5 471.0 117.9 471.2 118.7 471.4 116.6 471.6 113.7 471.8 116.3 472.0 116.0 472.2 116.1 472.4 115.1 472.6 114.7 472.8 117.2 473.0 117.5 473.2 114.4 473.4 116.9 473.6 115.8 473.8 115.5 474.0 117.1 474.2 116.1 474.4 115.3 474.6 116.2 474.8 113.2 475.0 115.3 475.2 115.5 475.4 114.1 475.6 116.5 475.8 116.6 476.0 115.3 476.2 116.0 476.4 117.2 476.6 117.8 476.8 115.1 477.0 116.8 477.2 117.8 477.4 116.2 477.6 115.1 477.8 115.1 478.0 115.8 478.2 114.8 478.4 119.3 478.6 115.5 478.8 116.9 479.0 116.6 479.2 117.3 479.4 115.8 479.6 114.4 479.8 118.8 480.0 116.3 480.2 116.6 480.4 116.7 480.6 118.3 480.8 117.6 481.0 118.2 481.2 117.7 481.4 116.7 481.6 116.8 481.8 115.3 482.0 113.5 482.2 116.1 482.4 114.9 482.6 120.3 482.8 118.8 483.0 118.2 483.2 115.7 483.4 119.6 483.6 113.9 483.8 114.7 484.0 115.3 484.2 115.0 484.4 116.7 484.6 116.7 484.8 119.3 485.0 117.9 485.2 118.2 485.4 117.0 485.6 116.1 485.8 115.2 486.0 113.9 486.2 114.7 486.4 115.3 486.6 116.9 486.8 113.1 487.0 113.3 487.2 115.5 487.4 113.3 487.6 115.1 487.8 113.6 488.0 112.7 488.2 111.5 488.4 113.0 488.6 111.6 488.8 111.4 489.0 111.0 489.2 111.9 489.4 111.6 489.6 108.6 489.8 110.8 490.0 111.6 490.2 112.6 490.4 112.4 490.6 111.7 490.8 110.0 491.0 110.9 491.2 113.8 491.4 111.8 491.6 114.8 491.8 115.6 492.0 112.5 492.2 115.1 492.4 114.6 492.6 118.2 492.8 116.7 493.0 114.9 493.2 116.5 493.4 114.7 493.6 116.1 493.8 116.7 494.0 116.8 494.2 117.1 494.4 115.4 494.6 114.0 494.8 116.3 495.0 115.6 495.2 115.9 495.4 120.2 495.6 118.8 495.8 116.8 496.0 114.9 496.2 115.2 496.4 117.7 496.6 118.8 496.8 116.7 497.0 117.4 497.2 117.6 497.4 118.8 497.6 114.4 497.8 117.5 498.0 117.9 498.2 118.7 498.4 117.9 498.6 115.7 498.8 116.5 499.0 115.1 499.2 117.6 499.4 117.7 499.6 118.1 499.8 115.9 500.0 115.7 500.2 119.7 500.4 117.7 500.6 120.1 500.8 118.1 501.0 115.3 501.2 118.7 501.4 119.3 501.6 116.8 501.8 114.6 502.0 118.5 502.2 117.3 502.4 117.9 502.6 113.5 502.8 118.2 503.0 113.4 503.2 116.3 503.4 118.9 503.6 114.8 503.8 114.8 504.0 116.9 504.2 120.1 504.4 120.0 504.6 116.7 504.8 119.1 505.0 118.5 505.2 118.0 505.4 118.2 505.6 116.6 505.8 118.9 506.0 119.3 506.2 121.7 506.4 119.1 506.6 114.0 506.8 115.9 507.0 118.2 507.2 117.8 507.4 114.9 507.6 117.5 507.8 117.2 508.0 117.7 508.2 117.6 508.4 119.1 508.6 120.0 508.8 118.8 509.0 116.1 509.2 116.5 509.4 116.8 509.6 117.7 509.8 117.2 510.0 117.3 510.2 116.4 510.4 119.3 510.6 119.1 510.8 119.3 511.0 117.7 511.2 118.5 511.4 116.5 511.6 116.4 511.8 117.1 512.0 118.8 512.2 117.7 512.4 116.2 512.6 118.1 512.8 118.6 513.0 118.2 513.2 116.9 513.4 118.0 513.6 117.3 513.8 117.5 514.0 117.8 514.2 119.1 514.4 120.7 514.6 120.3 514.8 118.9 515.0 117.4 515.2 117.5 515.4 117.6 515.6 119.8 515.8 113.9 516.0 118.4 516.2 115.1 516.4 118.0 516.6 120.0 516.8 116.7 517.0 114.6 517.2 120.0 517.4 120.3 517.6 118.8 517.8 120.0 518.0 116.9 518.2 119.9 518.4 120.7 518.6 119.1 518.8 118.5 519.0 120.0 519.2 119.8 519.4 117.0 519.6 120.2 519.8 119.3 520.0 118.4 520.2 120.1 520.4 119.5 520.6 119.3 520.8 117.4 521.0 119.4 521.2 116.5 521.4 117.9 521.6 115.6 521.8 115.5 522.0 118.8 522.2 118.0 522.4 118.2 522.6 118.9 522.8 118.5 523.0 116.6 523.2 118.0 523.4 117.8 523.6 117.1 523.8 117.6 524.0 117.2 524.2 116.7 524.4 117.1 524.6 117.9 524.8 120.6 525.0 116.2 525.2 118.1 525.4 115.1 525.6 119.6 525.8 116.6 526.0 117.2 526.2 118.8 526.4 118.3 526.6 114.5 526.8 117.5 527.0 116.3 527.2 117.5 527.4 116.8 527.6 117.6 527.8 117.0 528.0 116.3 528.2 118.3 528.4 114.2 528.6 116.0 528.8 115.2 529.0 116.5 529.2 116.2 529.4 116.7 529.6 116.2 529.8 116.4 530.0 114.7 530.2 117.2 530.4 117.8 530.6 116.5 530.8 116.6 531.0 116.7 531.2 120.2 531.4 118.1 531.6 118.5 531.8 117.5 532.0 117.3 532.2 116.8 532.4 120.5 532.6 115.7 532.8 118.7 533.0 118.3 533.2 118.0 533.4 116.1 533.6 116.6 533.8 120.0 534.0 117.5 534.2 119.9 534.4 119.6 534.6 119.5 534.8 119.8 535.0 116.8 535.2 118.0 535.4 119.7 535.6 116.8 535.8 121.2 536.0 117.9 536.2 118.6 536.4 117.2 536.6 119.3 536.8 117.7 537.0 118.4 537.2 117.1 537.4 120.6 537.6 116.4 537.8 119.5 538.0 119.2 538.2 119.5 538.4 117.3 538.6 120.4 538.8 120.3 539.0 119.1 539.2 119.3 539.4 118.6 539.6 119.9 539.8 117.7 540.0 119.7 540.2 119.5 540.4 116.8 540.6 115.0 540.8 118.8 541.0 118.7 541.2 120.8 541.4 119.1 541.6 118.2 541.8 117.0 542.0 118.9 542.2 118.1 542.4 117.4 542.6 118.9 542.8 120.6 543.0 119.2 543.2 117.5 543.4 119.6 543.6 117.4 543.8 116.7 544.0 119.8 544.2 118.3 544.4 120.8 544.6 119.5 544.8 117.9 545.0 119.4 545.2 121.0 545.4 118.8 545.6 117.4 545.8 118.0 546.0 117.8 546.2 117.2 546.4 117.0 546.6 119.5 546.8 120.5 547.0 118.3 547.2 119.9 547.4 120.0 547.6 121.1 547.8 118.2 548.0 117.9 548.2 119.0 548.4 118.4 548.6 118.6 548.8 120.0 549.0 117.3 549.2 118.1 549.4 116.2 549.6 117.3 549.8 116.4 550.0 116.2 550.2 116.9 550.4 116.4 550.6 117.5 550.8 118.1 551.0 114.6 551.2 118.3 551.4 113.4 551.6 117.1 551.8 117.8 552.0 115.8 552.2 116.4 552.4 115.7 552.6 118.3 552.8 112.3 553.0 115.7 553.2 114.3 553.4 117.7 553.6 119.5 553.8 119.5 554.0 118.8 554.2 118.3 554.4 117.0 554.6 120.1 554.8 119.3 555.0 117.3 555.2 116.7 555.4 117.8 555.6 120.5 555.8 120.9 556.0 121.5 556.2 118.1 556.4 118.8 556.6 121.5 556.8 119.8 557.0 120.7 557.2 117.6 557.4 119.1 557.6 119.7 557.8 119.2 558.0 119.2 558.2 117.4 558.4 122.3 558.6 120.1 558.8 117.8 559.0 121.6 559.2 120.1 559.4 121.1 559.6 119.8 559.8 118.9 560.0 119.0 560.2 120.7 560.4 121.3 560.6 120.9 560.8 121.2 561.0 122.0 561.2 120.7 561.4 121.8 561.6 121.9 561.8 120.7 562.0 120.2 562.2 119.7 562.4 118.5 562.6 118.0 562.8 122.3 563.0 120.4 563.2 119.6 563.4 122.8 563.6 121.9 563.8 120.5 564.0 122.0 564.2 120.2 564.4 121.0 564.6 123.3 564.8 122.1 565.0 120.1 565.2 121.6 565.4 122.4 565.6 120.4 565.8 120.0 566.0 123.4 566.2 120.2 566.4 118.7 566.6 120.9 566.8 124.1 567.0 121.7 567.2 122.2 567.4 117.5 567.6 120.0 567.8 122.6 568.0 120.2 568.2 122.8 568.4 121.6 568.6 121.5 568.8 123.4 569.0 120.2 569.2 120.2 569.4 121.1 569.6 121.3 569.8 118.5 570.0 122.9 570.2 121.4 570.4 120.8 570.6 122.0 570.8 120.5 571.0 122.9 571.2 121.2 571.4 122.2 571.6 119.8 571.8 120.7 572.0 121.7 572.2 119.7 572.4 120.2 572.6 121.1 572.8 122.9 573.0 122.3 573.2 122.6 573.4 121.7 573.6 122.6 573.8 123.6 574.0 121.5 574.2 121.9 574.4 122.2 574.6 118.3 574.8 121.2 575.0 121.9 575.2 122.5 575.4 120.9 575.6 122.8 575.8 120.4 576.0 121.1 576.2 123.9 576.4 119.4 576.6 121.3 576.8 121.2 577.0 121.3 577.2 120.6 577.4 122.4 577.6 119.8 577.8 119.5 578.0 122.2 578.2 119.7 578.4 122.0 578.6 121.5 578.8 120.5 579.0 121.0 579.2 121.4 579.4 122.2 579.6 120.6 579.8 121.2 580.0 119.4 580.2 121.2 580.4 118.7 580.6 121.5 580.8 120.9 581.0 124.7 581.2 123.5 581.4 121.4 581.6 123.0 581.8 122.1 582.0 119.9 582.2 118.0 582.4 123.3 582.6 122.3 582.8 118.8 583.0 122.6 583.2 123.1 583.4 120.7 583.6 122.9 583.8 119.2 584.0 121.4 584.2 121.8 584.4 122.9 584.6 122.4 584.8 122.1 585.0 122.6 585.2 120.8 585.4 124.0 585.6 121.3 585.8 123.0 586.0 121.8 586.2 121.5 586.4 122.8 586.6 122.6 586.8 123.9 587.0 123.5 587.2 121.1 587.4 122.7 587.6 122.1 587.8 120.8 588.0 120.3 588.2 122.4 588.4 121.2 588.6 119.9 588.8 121.9 589.0 122.4 589.2 122.2 589.4 120.3 589.6 121.2 589.8 124.1 590.0 120.9 590.2 121.6 590.4 125.6 590.6 122.7 590.8 121.4 591.0 119.2 591.2 122.6 591.4 120.1 591.6 122.1 591.8 120.9 592.0 119.7 592.2 124.7 592.4 122.1 592.6 123.6 592.8 123.4 593.0 121.2 593.2 122.4 593.4 121.7 593.6 123.7 593.8 123.0 594.0 121.8 594.2 124.8 594.4 123.1 594.6 123.0 594.8 121.2 595.0 123.0 595.2 120.2 595.4 123.1 595.6 121.0 595.8 122.7 596.0 122.0 596.2 122.8 596.4 123.0 596.6 122.4 596.8 122.4 597.0 120.3" stroke="#b3b3b3" stroke-width="1.6" fill="none" stroke-linejoin="round"/>
<path d="M61.0 164.9L61.2 163.8 61.4 164.0 61.6 161.0 61.8 167.3 62.0 166.3 62.2 164.2 62.4 165.8 62.6 165.1 62.8 163.8 63.0 166.1 63.2 164.2 63.4 164.2 63.6 163.5 63.8 165.4 64.0 164.6 64.2 165.5 64.4 163.8 64.6 164.9 64.8 163.4 65.0 166.0 65.2 165.0 65.4 165.3 65.6 165.4 65.8 163.3 66.0 166.0 66.2 167.9 66.4 162.4 66.6 162.2 66.8 162.6 67.0 166.1 67.2 165.0 67.4 166.5 67.6 166.0 67.8 165.2 68.0 165.3 68.2 164.6 68.4 166.2 68.6 163.2 68.8 164.3 69.0 165.3 69.2 167.6 69.4 163.8 69.6 163.3 69.8 164.1 70.0 166.4 70.2 164.6 70.4 167.0 70.6 162.2 70.8 166.7 71.0 166.6 71.2 162.9 71.4 165.3 71.6 166.9 71.8 165.2 72.0 166.6 72.2 168.6 72.4 165.5 72.6 164.7 72.8 163.9 73.0 166.1 73.2 164.8 73.4 164.8 73.6 165.0 73.8 166.1 74.0 163.5 74.2 162.9 74.4 161.5 74.6 167.0 74.8 165.3 75.0 167.4 75.2 165.2 75.4 164.1 75.6 165.9 75.8 165.1 76.0 163.3 76.2 163.9 76.4 167.9 76.6 165.8 76.8 165.9 77.0 164.8 77.2 164.2 77.4 166.6 77.6 165.1 77.8 164.2 78.0 165.1 78.2 164.0 78.4 165.6 78.6 167.0 78.8 164.1 79.0 167.5 79.2 164.4 79.4 165.6 79.6 164.1 79.8 165.0 80.0 165.5 80.2 164.7 80.4 164.4 80.6 164.4 80.8 164.2 81.0 163.1 81.2 165.0 81.4 166.0 81.6 166.8 81.8 166.4 82.0 169.2 82.2 166.0 82.4 164.8 82.6 168.3 82.8 163.9 83.0 167.0 83.2 164.1 83.4 166.1 83.6 162.6 83.8 166.9 84.0 165.3 84.2 164.1 84.4 168.1 84.6 166.7 84.8 165.7 85.0 164.5 85.2 165.5 85.4 165.4 85.6 166.7 85.8 166.8 86.0 164.6 86.2 164.8 86.4 164.9 86.6 163.6 86.8 164.8 87.0 165.5 87.2 166.7 87.4 167.7 87.6 164.5 87.8 166.5 88.0 165.1 88.2 168.8 88.4 165.7 88.6 166.5 88.8 164.4 89.0 164.5 89.2 166.1 89.4 165.2 89.6 166.3 89.8 163.5 90.0 166.8 90.2 164.5 90.4 168.4 90.6 165.4 90.8 167.5 91.0 163.8 91.2 166.5 91.4 164.5 91.6 165.1 91.8 165.9 92.0 165.4 92.2 166.3 92.4 167.0 92.6 166.9 92.8 165.8 93.0 163.9 93.2 164.7 93.4 165.7 93.6 162.8 93.8 167.1 94.0 165.6 94.2 165.6 94.4 167.4 94.6 167.0 94.8 166.3 95.0 164.5 95.2 166.5 95.4 166.6 95.6 164.7 95.8 167.6 96.0 166.8 96.2 163.1 96.4 166.3 96.6 164.2 96.8 167.8 97.0 167.3 97.2 164.5 97.4 164.8 97.6 166.3 97.8 165.8 98.0 168.4 98.2 167.3 98.4 165.7 98.6 167.0 98.8 163.1 99.0 166.6 99.2 167.5 99.4 165.9 99.6 165.0 99.8 166.9 100.0 169.0 100.2 166.4 100.4 164.3 100.6 168.2 100.8 163.2 101.0 166.7 101.2 165.1 101.4 167.3 101.6 164.6 101.8 167.8 102.0 166.3 102.2 163.2 102.4 162.8 102.6 165.3 102.8 167.7 103.0 165.9 103.2 165.8 103.4 165.3 103.6 166.7 103.8 166.2 104.0 166.0 104.2 164.1 104.4 167.3 104.6 167.6 104.8 163.5 105.0 168.9 105.2 166.5 105.4 164.7 105.6 162.5 105.8 166.4 106.0 166.2 106.2 164.4 106.4 162.6 106.6 167.0 106.8 164.4 107.0 164.5 107.2 169.5 107.4 168.4 107.6 166.6 107.8 164.5 108.0 166.1 108.2 161.7 108.4 165.2 108.6 163.9 108.8 163.1 109.0 162.6 109.2 165.8 109.4 165.1 109.6 165.2 109.8 166.2 110.0 163.6 110.2 163.0 110.4 162.2 110.6 164.3 110.8 166.0 111.0 164.6 111.2 165.8 111.4 163.0 111.6 164.1 111.8 163.6 112.0 162.9 112.2 167.6 112.4 166.0 112.6 163.6 112.8 163.6 113.0 164.6 113.2 162.6 113.4 165.4 113.6 162.8 113.8 164.1 114.0 163.1 114.2 164.0 114.4 162.7 114.6 162.3 114.8 163.2 115.0 163.6 115.2 164.2 115.4 164.7 115.6 166.9 115.8 165.8 116.0 164.2 116.2 165.7 116.4 163.5 116.6 166.7 116.8 165.4 117.0 162.5 117.2 165.7 117.4 165.7 117.6 160.5 117.8 163.4 118.0 163.8 118.2 161.6 118.4 162.9 118.6 163.0 118.8 165.2 119.0 164.9 119.2 168.4 119.4 163.8 119.6 166.1 119.8 164.5 120.0 164.8 120.2 162.6 120.4 161.5 120.6 163.2 120.8 165.5 121.0 166.7 121.2 165.2 121.4 165.1 121.6 163.0 121.8 166.6 122.0 166.3 122.2 163.5 122.4 164.2 122.6 162.8 122.8 166.4 123.0 164.8 123.2 164.1 123.4 164.8 123.6 164.9 123.8 163.6 124.0 162.3 124.2 162.2 124.4 161.5 124.6 164.8 124.8 167.5 125.0 161.6 125.2 164.3 125.4 164.7 125.6 162.6 125.8 164.4 126.0 162.4 126.2 165.9 126.4 163.2 126.6 164.2 126.8 165.1 127.0 163.4 127.2 161.3 127.4 163.2 127.6 165.1 127.8 163.9 128.0 164.3 128.2 162.3 128.4 164.2 128.6 165.0 128.8 164.0 129.0 166.8 129.2 163.6 129.4 162.3 129.6 161.5 129.8 165.6 130.0 163.8 130.2 165.4 130.4 164.5 130.6 166.3 130.8 165.7 131.0 163.3 131.2 164.2 131.4 165.4 131.6 161.9 131.8 166.0 132.0 165.6 132.2 165.2 132.4 163.5 132.6 164.2 132.8 162.1 133.0 163.8 133.2 162.8 133.4 163.8 133.6 162.9 133.8 164.1 134.0 165.4 134.2 161.7 134.4 165.0 134.6 160.7 134.8 160.4 135.0 163.4 135.2 163.6 135.4 164.3 135.6 161.1 135.8 163.5 136.0 163.8 136.2 165.4 136.4 163.4 136.6 164.3 136.8 162.1 137.0 163.2 137.2 162.8 137.4 164.6 137.6 162.0 137.8 162.2 138.0 164.3 138.2 166.2 138.4 164.0 138.6 163.9 138.8 163.0 139.0 165.1 139.2 164.3 139.4 166.1 139.6 164.0 139.8 162.1 140.0 162.6 140.2 162.0 140.4 161.6 140.6 165.4 140.8 164.7 141.0 161.6 141.2 166.2 141.4 163.9 141.6 162.1 141.8 164.1 142.0 163.4 142.2 162.3 142.4 160.6 142.6 163.6 142.8 163.9 143.0 159.6 143.2 164.3 143.4 164.4 143.6 162.8 143.8 163.7 144.0 163.1 144.2 162.3 144.4 163.0 144.6 165.5 144.8 161.3 145.0 163.9 145.2 163.8 145.4 162.5 145.6 162.9 145.8 161.4 146.0 162.2 146.2 163.5 146.4 164.0 146.6 162.2 146.8 168.1 147.0 162.7 147.2 163.7 147.4 163.2 147.6 162.9 147.8 165.5 148.0 162.8 148.2 165.5 148.4 165.3 148.6 162.0 148.8 165.1 149.0 162.6 149.2 167.6 149.4 163.0 149.6 162.1 149.8 160.7 150.0 161.6 150.2 162.7 150.4 162.1 150.6 161.7 150.8 162.5 151.0 163.2 151.2 165.7 151.4 161.0 151.6 162.7 151.8 162.1 152.0 161.3 152.2 161.7 152.4 162.2 152.6 164.6 152.8 163.3 153.0 162.8 153.2 164.5 153.4 164.0 153.6 163.2 153.8 164.2 154.0 162.3 154.2 164.5 154.4 164.3 154.6 163.0 154.8 161.8 155.0 165.9 155.2 163.7 155.4 168.2 155.6 162.6 155.8 164.9 156.0 162.9 156.2 164.0 156.4 164.8 156.6 162.4 156.8 163.4 157.0 163.8 157.2 163.8 157.4 164.5 157.6 165.1 157.8 164.8 158.0 164.0 158.2 163.1 158.4 161.9 158.6 162.5 158.8 162.8 159.0 164.6 159.2 163.1 159.4 161.7 159.6 164.5 159.8 162.4 160.0 162.5 160.2 163.3 160.4 164.3 160.6 160.0 160.8 161.9 161.0 163.9 161.2 163.1 161.4 162.3 161.6 162.8 161.8 165.7 162.0 162.9 162.2 164.7 162.4 164.8 162.6 162.9 162.8 164.3 163.0 162.9 163.2 162.7 163.4 161.9 163.6 164.9 163.8 163.0 164.0 162.8 164.2 161.9 164.4 166.3 164.6 164.7 164.8 163.4 165.0 162.6 165.2 161.3 165.4 164.1 165.6 164.1 165.8 161.5 166.0 165.4 166.2 164.8 166.4 162.2 166.6 162.8 166.8 163.0 167.0 163.9 167.2 163.4 167.4 161.2 167.6 165.9 167.8 164.1 168.0 165.5 168.2 165.5 168.4 163.3 168.6 164.2 168.8 164.8 169.0 164.8 169.2 163.4 169.4 162.7 169.6 163.7 169.8 162.4 170.0 162.8 170.2 160.6 170.4 163.8 170.6 162.1 170.8 162.8 171.0 163.6 171.2 164.1 171.4 166.5 171.6 164.0 171.8 161.5 172.0 163.8 172.2 162.8 172.4 164.3 172.6 162.6 172.8 162.6 173.0 162.9 173.2 162.7 173.4 160.9 173.6 162.7 173.8 163.6 174.0 165.5 174.2 163.2 174.4 163.1 174.6 164.5 174.8 164.5 175.0 166.1 175.2 164.5 175.4 163.6 175.6 165.7 175.8 165.9 176.0 162.9 176.2 163.9 176.4 161.1 176.6 163.1 176.8 162.4 177.0 163.4 177.2 163.0 177.4 163.4 177.6 163.5 177.8 164.5 178.0 164.1 178.2 162.9 178.4 161.8 178.6 165.6 178.8 165.9 179.0 163.1 179.2 164.6 179.4 161.5 179.6 161.4 179.8 163.4 180.0 166.0 180.2 162.2 180.4 162.5 180.6 166.2 180.8 160.9 181.0 164.8 181.2 164.5 181.4 163.5 181.6 164.1 181.8 167.7 182.0 162.1 182.2 163.3 182.4 163.4 182.6 162.7 182.8 161.8 183.0 166.2 183.2 164.1 183.4 161.1 183.6 162.7 183.8 164.3 184.0 164.3 184.2 161.5 184.4 163.5 184.6 164.0 184.8 164.2 185.0 164.1 185.2 160.7 185.4 166.1 185.6 163.5 185.8 165.6 186.0 166.9 186.2 162.0 186.4 159.9 186.6 162.4 186.8 160.1 187.0 158.9 187.2 157.2 187.4 160.3 187.6 156.3 187.8 154.1 188.0 155.1 188.2 153.8 188.4 156.0 188.6 155.6 188.8 155.3 189.0 158.7 189.2 157.7 189.4 160.6 189.6 162.3 189.8 160.5 190.0 160.7 190.2 162.5 190.4 163.9 190.6 162.8 190.8 163.3 191.0 163.2 191.2 163.8 191.4 164.3 191.6 162.4 191.8 162.7 192.0 163.5 192.2 162.4 192.4 163.6 192.6 164.2 192.8 163.3 193.0 162.3 193.2 162.0 193.4 165.6 193.6 164.1 193.8 160.9 194.0 160.9 194.2 164.4 194.4 163.2 194.6 160.1 194.8 160.5 195.0 155.0 195.2 155.5 195.4 154.6 195.6 148.5 195.8 148.0 196.0 148.4 196.2 147.4 196.4 144.0 196.6 145.3 196.8 148.1 197.0 146.7 197.2 147.2 197.4 151.3 197.6 152.9 197.8 157.5 198.0 157.5 198.2 157.6 198.4 163.6 198.6 160.2 198.8 162.4 199.0 163.3 199.2 163.8 199.4 163.2 199.6 164.0 199.8 163.2 200.0 161.3 200.2 163.2 200.4 163.3 200.6 163.4 200.8 163.9 201.0 162.8 201.2 165.7 201.4 166.1 201.6 160.5 201.8 163.8 202.0 162.7 202.2 159.9 202.4 164.4 202.6 162.9 202.8 163.3 203.0 162.8 203.2 165.4 203.4 165.7 203.6 164.2 203.8 164.8 204.0 163.6 204.2 163.9 204.4 162.5 204.6 163.7 204.8 162.5 205.0 164.1 205.2 164.7 205.4 163.9 205.6 165.1 205.8 167.3 206.0 160.0 206.2 163.1 206.4 162.1 206.6 162.1 206.8 160.6 207.0 162.5 207.2 161.9 207.4 161.1 207.6 161.4 207.8 160.6 208.0 157.6 208.2 162.4 208.4 159.9 208.6 158.5 208.8 159.9 209.0 157.8 209.2 154.9 209.4 158.7 209.6 154.0 209.8 155.2 210.0 154.5 210.2 155.0 210.4 153.0 210.6 149.2 210.8 144.7 211.0 140.7 211.2 136.5 211.4 128.5 211.6 114.8 211.8 98.9 212.0 86.5 212.2 71.9 212.4 66.3 212.6 70.2 212.8 82.1 213.0 94.7 213.2 108.3 213.4 118.9 213.6 125.3 213.8 126.1 214.0 130.3 214.2 135.1 214.4 135.9 214.6 139.8 214.8 136.6 215.0 136.1 215.2 137.0 215.4 136.0 215.6 132.3 215.8 131.2 216.0 126.4 216.2 124.3 216.4 125.4 216.6 120.2 216.8 123.5 217.0 124.3 217.2 126.6 217.4 129.6 217.6 131.9 217.8 130.4 218.0 134.0 218.2 135.7 218.4 138.3 218.6 135.0 218.8 134.9 219.0 134.6 219.2 136.5 219.4 132.4 219.6 133.3 219.8 137.9 220.0 136.1 220.2 142.6 220.4 144.5 220.6 145.9 220.8 150.6 221.0 152.4 221.2 156.6 221.4 158.9 221.6 162.2 221.8 161.3 222.0 162.6 222.2 162.4 222.4 163.9 222.6 166.0 222.8 162.0 223.0 166.2 223.2 164.6 223.4 165.8 223.6 166.3 223.8 167.3 224.0 166.6 224.2 165.8 224.4 166.9 224.6 166.6 224.8 166.4 225.0 167.1 225.2 168.2 225.4 167.2 225.6 167.4 225.8 165.3 226.0 167.1 226.2 164.6 226.4 168.5 226.6 166.0 226.8 169.4 227.0 172.0 227.2 167.0 227.4 169.6 227.6 168.3 227.8 166.9 228.0 166.5 228.2 168.6 228.4 169.9 228.6 168.4 228.8 165.6 229.0 166.3 229.2 167.6 229.4 170.0 229.6 168.4 229.8 168.5 230.0 169.8 230.2 167.7 230.4 167.9 230.6 167.8 230.8 165.4 231.0 168.8 231.2 168.8 231.4 169.6 231.6 166.4 231.8 167.0 232.0 169.6 232.2 168.7 232.4 170.3 232.6 167.0 232.8 168.6 233.0 167.3 233.2 168.8 233.4 167.6 233.6 169.1 233.8 170.0 234.0 169.4 234.2 165.7 234.4 169.8 234.6 169.1 234.8 166.8 235.0 167.1 235.2 168.4 235.4 169.3 235.6 167.8 235.8 166.0 236.0 168.9 236.2 168.7 236.4 172.2 236.6 166.6 236.8 172.3 237.0 171.1 237.2 169.0 237.4 171.0 237.6 168.7 237.8 170.0 238.0 167.5 238.2 168.7 238.4 167.1 238.6 166.2 238.8 168.2 239.0 167.6 239.2 169.5 239.4 170.5 239.6 168.4 239.8 168.7 240.0 168.9 240.2 166.1 240.4 169.0 240.6 168.6 240.8 168.6 241.0 167.0 241.2 165.7 241.4 168.3 241.6 169.1 241.8 170.6 242.0 170.3 242.2 170.8 242.4 169.2 242.6 170.4 242.8 168.3 243.0 169.6 243.2 170.0 243.4 172.6 243.6 169.0 243.8 166.7 244.0 170.6 244.2 167.4 244.4 168.5 244.6 168.1 244.8 167.2 245.0 170.5 245.2 169.4 245.4 167.5 245.6 168.5 245.8 167.7 246.0 169.3 246.2 167.8 246.4 167.1 246.6 167.3 246.8 167.5 247.0 168.6 247.2 166.7 247.4 167.9 247.6 168.6 247.8 171.3 248.0 169.0 248.2 163.1 248.4 166.7 248.6 166.7 248.8 167.5 249.0 169.0 249.2 167.3 249.4 162.0 249.6 165.1 249.8 163.6 250.0 162.7 250.2 162.3 250.4 156.6 250.6 157.5 250.8 150.8 251.0 150.8 251.2 148.7 251.4 149.3 251.6 142.9 251.8 140.2 252.0 143.1 252.2 140.9 252.4 144.2 252.6 140.6 252.8 139.8 253.0 141.8 253.2 138.1 253.4 136.8 253.6 129.9 253.8 130.9 254.0 123.9 254.2 122.8 254.4 118.0 254.6 116.5 254.8 119.4 255.0 122.5 255.2 128.1 255.4 130.3 255.6 135.0 255.8 138.7 256.0 145.4 256.2 141.7 256.4 146.0 256.6 143.9 256.8 143.6 257.0 140.5 257.2 140.5 257.4 133.9 257.6 130.9 257.8 130.0 258.0 126.9 258.2 129.3 258.4 130.7 258.6 130.6 258.8 136.3 259.0 138.2 259.2 143.4 259.4 147.6 259.6 154.3 259.8 155.0 260.0 156.7 260.2 159.2 260.4 164.5 260.6 161.8 260.8 164.9 261.0 166.0 261.2 163.7 261.4 167.2 261.6 169.9 261.8 169.1 262.0 167.6 262.2 170.3 262.4 170.2 262.6 172.6 262.8 168.6 263.0 169.3 263.2 170.1 263.4 169.9 263.6 170.4 263.8 170.2 264.0 169.4 264.2 168.1 264.4 169.8 264.6 168.6 264.8 169.2 265.0 170.0 265.2 171.6 265.4 172.2 265.6 169.4 265.8 171.5 266.0 172.3 266.2 171.1 266.4 168.7 266.6 168.0 266.8 172.5 267.0 172.7 267.2 171.8 267.4 169.8 267.6 173.6 267.8 173.3 268.0 171.5 268.2 171.2 268.4 168.7 268.6 172.8 268.8 169.3 269.0 172.7 269.2 172.9 269.4 171.9 269.6 174.2 269.8 171.4 270.0 172.8 270.2 173.1 270.4 172.3 270.6 171.4 270.8 173.9 271.0 172.7 271.2 171.8 271.4 171.9 271.6 172.3 271.8 175.6 272.0 172.4 272.2 171.9 272.4 170.7 272.6 170.4 272.8 169.5 273.0 172.7 273.2 172.4 273.4 170.8 273.6 170.2 273.8 171.9 274.0 171.7 274.2 170.5 274.4 173.0 274.6 172.7 274.8 172.5 275.0 173.7 275.2 171.6 275.4 174.7 275.6 171.1 275.8 173.4 276.0 173.6 276.2 172.3 276.4 173.3 276.6 170.8 276.8 170.5 277.0 172.5 277.2 171.7 277.4 173.7 277.6 172.9 277.8 173.8 278.0 173.4 278.2 173.2 278.4 173.1 278.6 172.4 278.8 172.3 279.0 176.0 279.2 170.4 279.4 172.7 279.6 174.5 279.8 173.7 280.0 175.2 280.2 173.9 280.4 171.1 280.6 172.5 280.8 170.9 281.0 174.4 281.2 175.1 281.4 172.2 281.6 173.6 281.8 172.1 282.0 170.4 282.2 171.7 282.4 169.8 282.6 171.1 282.8 172.1 283.0 172.5 283.2 173.1 283.4 170.3 283.6 170.8 283.8 170.7 284.0 170.5 284.2 165.0 284.4 167.8 284.6 169.9 284.8 166.9 285.0 168.8 285.2 169.7 285.4 165.7 285.6 168.5 285.8 169.4 286.0 169.4 286.2 167.4 286.4 170.6 286.6 169.7 286.8 172.1 287.0 171.9 287.2 170.7 287.4 172.1 287.6 171.1 287.8 171.3 288.0 170.2 288.2 172.4 288.4 174.0 288.6 173.1 288.8 173.0 289.0 172.1 289.2 172.3 289.4 174.3 289.6 170.9 289.8 176.3 290.0 173.1 290.2 176.4 290.4 174.9 290.6 172.4 290.8 174.1 291.0 173.3 291.2 173.5 291.4 173.9 291.6 171.7 291.8 171.4 292.0 171.5 292.2 169.9 292.4 171.3 292.6 171.7 292.8 171.4 293.0 171.0 293.2 169.7 293.4 171.1 293.6 166.4 293.8 168.4 294.0 168.1 294.2 169.5 294.4 168.7 294.6 168.6 294.8 167.0 295.0 168.1 295.2 165.0 295.4 166.5 295.6 163.2 295.8 169.0 296.0 168.9 296.2 165.9 296.4 165.8 296.6 164.3 296.8 165.5 297.0 168.4 297.2 168.5 297.4 166.9 297.6 168.9 297.8 169.0 298.0 171.2 298.2 171.9 298.4 170.9 298.6 171.8 298.8 171.9 299.0 169.0 299.2 172.7 299.4 172.5 299.6 173.9 299.8 170.2 300.0 174.3 300.2 172.3 300.4 173.7 300.6 175.2 300.8 171.2 301.0 171.5 301.2 175.0 301.4 171.9 301.6 172.2 301.8 174.5 302.0 173.3 302.2 174.8 302.4 174.1 302.6 173.6 302.8 175.1 303.0 176.9 303.2 173.4 303.4 175.8 303.6 175.2 303.8 173.6 304.0 174.1 304.2 171.9 304.4 172.2 304.6 173.4 304.8 172.6 305.0 174.4 305.2 170.1 305.4 171.1 305.6 170.0 305.8 170.1 306.0 171.3 306.2 166.8 306.4 168.9 306.6 165.7 306.8 164.9 307.0 165.7 307.2 162.5 307.4 162.7 307.6 160.8 307.8 159.4 308.0 158.3 308.2 155.8 308.4 157.0 308.6 158.5 308.8 159.0 309.0 157.1 309.2 161.6 309.4 161.9 309.6 160.0 309.8 161.3 310.0 164.5 310.2 161.8 310.4 163.8 310.6 165.2 310.8 165.3 311.0 165.4 311.2 166.0 311.4 164.0 311.6 164.2 311.8 167.8 312.0 162.4 312.2 163.9 312.4 164.9 312.6 164.2 312.8 167.6 313.0 166.6 313.2 168.5 313.4 164.3 313.6 170.8 313.8 171.6 314.0 169.5 314.2 173.3 314.4 172.4 314.6 173.9 314.8 175.7 315.0 173.4 315.2 172.1 315.4 173.8 315.6 172.1 315.8 172.9 316.0 173.1 316.2 173.3 316.4 176.1 316.6 175.7 316.8 173.1 317.0 176.2 317.2 172.0 317.4 173.6 317.6 174.4 317.8 176.4 318.0 175.8 318.2 175.4 318.4 176.7 318.6 175.8 318.8 176.8 319.0 173.6 319.2 172.2 319.4 174.1 319.6 176.0 319.8 175.1 320.0 176.1 320.2 175.8 320.4 175.5 320.6 175.9 320.8 173.6 321.0 176.3 321.2 173.1 321.4 174.4 321.6 172.3 321.8 175.1 322.0 171.8 322.2 176.0 322.4 171.6 322.6 173.5 322.8 172.4 323.0 170.5 323.2 172.8 323.4 169.1 323.6 170.7 323.8 165.4 324.0 164.1 324.2 160.5 324.4 162.6 324.6 161.5 324.8 159.0 325.0 157.3 325.2 155.6 325.4 160.5 325.6 158.7 325.8 155.9 326.0 159.6 326.2 157.8 326.4 165.9 326.6 168.2 326.8 169.1 327.0 168.3 327.2 168.7 327.4 168.5 327.6 172.2 327.8 170.9 328.0 171.8 328.2 171.6 328.4 172.2 328.6 174.0 328.8 175.2 329.0 172.7 329.2 172.4 329.4 170.6 329.6 170.4 329.8 170.7 330.0 173.7 330.2 172.9 330.4 174.2 330.6 173.7 330.8 172.7 331.0 171.7 331.2 173.4 331.4 172.0 331.6 177.4 331.8 175.1 332.0 174.3 332.2 178.0 332.4 174.5 332.6 176.0 332.8 175.0 333.0 175.8 333.2 174.7 333.4 176.0 333.6 177.3 333.8 173.2 334.0 171.6 334.2 176.9 334.4 174.9 334.6 175.8 334.8 173.9 335.0 176.6 335.2 176.9 335.4 172.3 335.6 175.0 335.8 173.1 336.0 171.6 336.2 173.7 336.4 175.2 336.6 172.5 336.8 172.8 337.0 176.8 337.2 175.1 337.4 175.9 337.6 173.7 337.8 174.6 338.0 175.9 338.2 176.1 338.4 176.1 338.6 178.3 338.8 176.2 339.0 173.7 339.2 174.7 339.4 176.0 339.6 178.0 339.8 175.1 340.0 175.6 340.2 176.1 340.4 175.1 340.6 174.9 340.8 175.8 341.0 177.7 341.2 176.9 341.4 175.7 341.6 176.8 341.8 174.2 342.0 177.7 342.2 177.3 342.4 176.7 342.6 173.7 342.8 179.3 343.0 171.8 343.2 174.7 343.4 174.8 343.6 177.3 343.8 174.0 344.0 176.6 344.2 176.0 344.4 175.8 344.6 177.5 344.8 178.4 345.0 176.9 345.2 175.8 345.4 172.8 345.6 178.5 345.8 175.8 346.0 173.5 346.2 176.5 346.4 178.5 346.6 176.1 346.8 174.5 347.0 179.7 347.2 177.2 347.4 176.8 347.6 177.9 347.8 173.0 348.0 176.2 348.2 176.1 348.4 179.8 348.6 175.5 348.8 175.5 349.0 174.2 349.2 175.1 349.4 176.0 349.6 176.8 349.8 176.1 350.0 179.4 350.2 177.1 350.4 177.4 350.6 178.5 350.8 177.3 351.0 175.6 351.2 174.0 351.4 176.9 351.6 175.1 351.8 178.4 352.0 175.2 352.2 173.0 352.4 176.5 352.6 178.0 352.8 176.1 353.0 176.7 353.2 176.7 353.4 179.0 353.6 176.9 353.8 176.4 354.0 175.5 354.2 173.9 354.4 178.6 354.6 178.2 354.8 175.0 355.0 177.4 355.2 176.9 355.4 175.9 355.6 176.0 355.8 177.6 356.0 174.6 356.2 175.6 356.4 176.3 356.6 176.4 356.8 176.1 357.0 176.8 357.2 177.3 357.4 175.1 357.6 176.6 357.8 175.6 358.0 178.7 358.2 174.3 358.4 176.1 358.6 177.5 358.8 176.0 359.0 175.9 359.2 175.6 359.4 176.9 359.6 174.7 359.8 176.3 360.0 176.3 360.2 174.2 360.4 176.9 360.6 175.7 360.8 176.9 361.0 177.7 361.2 176.9 361.4 174.6 361.6 176.9 361.8 173.9 362.0 175.1 362.2 178.8 362.4 176.2 362.6 178.5 362.8 175.8 363.0 176.0 363.2 174.2 363.4 177.2 363.6 175.3 363.8 176.4 364.0 176.0 364.2 175.9 364.4 175.4 364.6 174.7 364.8 174.5 365.0 173.3 365.2 170.9 365.4 174.7 365.6 177.0 365.8 175.4 366.0 177.3 366.2 174.4 366.4 172.3 366.6 172.3 366.8 175.0 367.0 174.6 367.2 174.0 367.4 175.6 367.6 173.3 367.8 175.6 368.0 174.6 368.2 175.5 368.4 177.2 368.6 175.4 368.8 177.9 369.0 177.9 369.2 174.9 369.4 179.7 369.6 174.4 369.8 176.2 370.0 177.5 370.2 173.0 370.4 178.1 370.6 178.3 370.8 176.4 371.0 177.0 371.2 177.0 371.4 176.4 371.6 178.3 371.8 176.1 372.0 176.6 372.2 177.3 372.4 178.0 372.6 178.4 372.8 174.5 373.0 173.7 373.2 176.5 373.4 176.7 373.6 175.1 373.8 177.2 374.0 177.7 374.2 177.3 374.4 179.3 374.6 175.2 374.8 176.8 375.0 179.7 375.2 177.8 375.4 175.1 375.6 177.1 375.8 178.6 376.0 180.0 376.2 177.8 376.4 178.6 376.6 175.1 376.8 176.4 377.0 178.6 377.2 175.3 377.4 176.7 377.6 173.9 377.8 179.0 378.0 176.6 378.2 177.6 378.4 174.5 378.6 174.8 378.8 179.5 379.0 176.2 379.2 175.9 379.4 177.5 379.6 177.6 379.8 173.7 380.0 175.2 380.2 176.8 380.4 176.7 380.6 177.2 380.8 176.0 381.0 176.1 381.2 176.8 381.4 175.4 381.6 175.1 381.8 175.4 382.0 176.2 382.2 175.8 382.4 175.1 382.6 175.3 382.8 175.4 383.0 175.8 383.2 175.6 383.4 172.8 383.6 176.0 383.8 171.8 384.0 174.8 384.2 172.7 384.4 174.4 384.6 174.9 384.8 170.3 385.0 173.9 385.2 173.4 385.4 172.2 385.6 173.6 385.8 172.4 386.0 173.5 386.2 171.9 386.4 174.9 386.6 174.9 386.8 175.4 387.0 173.6 387.2 177.6 387.4 178.1 387.6 175.2 387.8 174.9 388.0 175.1 388.2 177.0 388.4 177.6 388.6 175.1 388.8 173.3 389.0 177.1 389.2 176.4 389.4 176.8 389.6 177.4 389.8 175.0 390.0 176.8 390.2 176.3 390.4 177.3 390.6 178.6 390.8 176.8 391.0 175.5 391.2 178.7 391.4 177.9 391.6 176.5 391.8 174.1 392.0 175.5 392.2 177.1 392.4 177.7 392.6 176.1 392.8 177.5 393.0 175.9 393.2 176.2 393.4 177.7 393.6 176.5 393.8 177.1 394.0 178.2 394.2 178.6 394.4 176.0 394.6 176.5 394.8 174.9 395.0 174.9 395.2 177.3 395.4 176.1 395.6 174.1 395.8 177.7 396.0 175.6 396.2 176.4 396.4 177.5 396.6 177.5 396.8 176.8 397.0 173.8 397.2 177.7 397.4 175.9 397.6 174.7 397.8 173.5 398.0 178.8 398.2 177.0 398.4 176.9 398.6 177.7 398.8 176.6 399.0 174.5 399.2 177.7 399.4 178.1 399.6 177.3 399.8 178.8 400.0 179.2 400.2 175.0 400.4 175.4 400.6 177.2 400.8 176.0 401.0 175.8 401.2 176.7 401.4 176.1 401.6 174.0 401.8 174.5 402.0 173.0 402.2 173.4 402.4 171.7 402.6 170.1 402.8 172.0 403.0 171.6 403.2 173.6 403.4 174.5 403.6 172.1 403.8 172.8 404.0 171.2 404.2 170.9 404.4 172.1 404.6 172.3 404.8 173.5 405.0 173.5 405.2 176.2 405.4 173.7 405.6 171.9 405.8 174.9 406.0 174.0 406.2 175.6 406.4 177.2 406.6 174.8 406.8 175.8 407.0 176.9 407.2 174.8 407.4 176.7 407.6 177.3 407.8 177.7 408.0 178.2 408.2 177.5 408.4 177.3 408.6 174.6 408.8 172.7 409.0 175.3 409.2 178.9 409.4 176.9 409.6 173.3 409.8 176.1 410.0 177.2 410.2 173.9 410.4 177.5 410.6 174.8 410.8 178.0 411.0 176.4 411.2 180.9 411.4 174.2 411.6 176.4 411.8 173.6 412.0 177.3 412.2 175.5 412.4 176.4 412.6 174.9 412.8 172.6 413.0 173.0 413.2 171.7 413.4 171.6 413.6 172.9 413.8 173.9 414.0 173.1 414.2 172.2 414.4 170.2 414.6 171.5 414.8 169.2 415.0 170.6 415.2 171.4 415.4 169.9 415.6 169.4 415.8 169.5 416.0 171.1 416.2 169.8 416.4 168.1 416.6 169.7 416.8 168.7 417.0 172.5 417.2 170.3 417.4 168.0 417.6 170.6 417.8 171.2 418.0 170.7 418.2 169.7 418.4 170.5 418.6 170.9 418.8 172.2 419.0 171.5 419.2 174.7 419.4 171.4 419.6 174.4 419.8 172.6 420.0 170.5 420.2 171.7 420.4 171.2 420.6 171.7 420.8 176.5 421.0 174.1 421.2 176.3 421.4 174.3 421.6 175.9 421.8 174.5 422.0 177.6 422.2 176.1 422.4 175.9 422.6 176.4 422.8 180.0 423.0 177.5 423.2 178.2 423.4 175.1 423.6 176.0 423.8 177.5 424.0 174.3 424.2 179.1 424.4 177.5 424.6 177.1 424.8 176.9 425.0 176.8 425.2 176.4 425.4 179.3 425.6 178.2 425.8 179.1 426.0 176.8 426.2 175.9 426.4 179.3 426.6 175.4 426.8 176.4 427.0 178.3 427.2 178.9 427.4 175.3 427.6 176.9 427.8 177.3 428.0 177.1 428.2 176.0 428.4 178.3 428.6 176.5 428.8 176.9 429.0 173.9 429.2 177.1 429.4 174.4 429.6 178.3 429.8 178.0 430.0 176.5 430.2 177.5 430.4 177.4 430.6 177.0 430.8 177.8 431.0 177.0 431.2 176.5 431.4 176.0 431.6 179.7 431.8 177.5 432.0 177.2 432.2 178.3 432.4 176.6 432.6 176.6 432.8 178.1 433.0 178.7 433.2 178.1 433.4 174.9 433.6 177.2 433.8 177.1 434.0 177.8 434.2 175.8 434.4 175.5 434.6 176.9 434.8 175.7 435.0 175.5 435.2 176.9 435.4 178.4 435.6 177.2 435.8 178.7 436.0 175.5 436.2 178.1 436.4 177.0 436.6 175.7 436.8 176.3 437.0 175.7 437.2 176.6 437.4 175.8 437.6 178.8 437.8 176.4 438.0 174.8 438.2 176.6 438.4 177.4 438.6 176.4 438.8 178.1 439.0 175.5 439.2 175.5 439.4 179.2 439.6 176.8 439.8 177.6 440.0 177.5 440.2 177.6 440.4 176.8 440.6 176.4 440.8 178.2 441.0 175.8 441.2 176.7 441.4 177.4 441.6 175.7 441.8 173.9 442.0 176.7 442.2 177.4 442.4 175.9 442.6 172.8 442.8 176.0 443.0 177.7 443.2 172.2 443.4 170.3 443.6 173.7 443.8 174.1 444.0 175.1 444.2 175.2 444.4 174.3 444.6 175.1 444.8 175.0 445.0 175.0 445.2 175.0 445.4 175.1 445.6 176.6 445.8 176.4 446.0 175.4 446.2 177.8 446.4 175.3 446.6 176.1 446.8 176.7 447.0 173.8 447.2 176.1 447.4 177.9 447.6 177.9 447.8 175.0 448.0 175.5 448.2 175.1 448.4 176.3 448.6 176.5 448.8 174.2 449.0 176.9 449.2 176.5 449.4 176.1 449.6 175.1 449.8 175.6 450.0 173.1 450.2 175.7 450.4 175.4 450.6 174.5 450.8 172.5 451.0 175.6 451.2 174.8 451.4 169.9 451.6 172.6 451.8 171.5 452.0 166.9 452.2 170.7 452.4 170.3 452.6 169.8 452.8 168.5 453.0 166.9 453.2 166.8 453.4 168.1 453.6 169.1 453.8 166.8 454.0 167.4 454.2 169.3 454.4 165.7 454.6 170.1 454.8 169.7 455.0 167.5 455.2 172.5 455.4 170.7 455.6 173.9 455.8 175.3 456.0 172.0 456.2 172.6 456.4 174.8 456.6 172.6 456.8 176.6 457.0 176.1 457.2 177.5 457.4 173.6 457.6 176.7 457.8 177.2 458.0 174.0 458.2 178.1 458.4 174.8 458.6 177.1 458.8 175.0 459.0 178.0 459.2 179.4 459.4 177.0 459.6 176.9 459.8 178.7 460.0 176.0 460.2 176.7 460.4 177.6 460.6 176.9 460.8 178.4 461.0 177.6 461.2 178.3 461.4 175.1 461.6 176.4 461.8 173.1 462.0 175.1 462.2 175.8 462.4 176.1 462.6 170.2 462.8 171.2 463.0 171.8 463.2 168.9 463.4 170.4 463.6 169.9 463.8 168.0 464.0 167.7 464.2 167.0 464.4 168.8 464.6 170.3 464.8 169.2 465.0 173.3 465.2 167.6 465.4 169.5 465.6 171.9 465.8 169.9 466.0 172.8 466.2 174.1 466.4 173.8 466.6 173.8 466.8 176.0 467.0 175.7 467.2 176.6 467.4 176.7 467.6 175.3 467.8 174.9 468.0 176.3 468.2 177.3 468.4 176.9 468.6 178.7 468.8 177.8 469.0 179.0 469.2 177.8 469.4 176.6 469.6 179.0 469.8 178.5 470.0 176.6 470.2 177.2 470.4 182.0 470.6 172.9 470.8 179.6 471.0 178.0 471.2 177.9 471.4 177.5 471.6 177.2 471.8 181.5 472.0 177.4 472.2 177.6 472.4 179.2 472.6 178.6 472.8 177.8 473.0 177.7 473.2 176.1 473.4 179.7 473.6 176.5 473.8 174.5 474.0 179.7 474.2 179.2 474.4 178.7 474.6 177.4 474.8 179.9 475.0 176.6 475.2 174.9 475.4 178.4 475.6 179.4 475.8 179.1 476.0 181.3 476.2 179.5 476.4 177.9 476.6 177.9 476.8 179.6 477.0 178.2 477.2 178.1 477.4 175.6 477.6 177.8 477.8 176.3 478.0 178.6 478.2 178.5 478.4 179.3 478.6 181.0 478.8 178.0 479.0 180.5 479.2 176.6 479.4 178.5 479.6 179.7 479.8 181.2 480.0 176.7 480.2 177.9 480.4 178.5 480.6 178.2 480.8 176.9 481.0 175.9 481.2 176.5 481.4 178.2 481.6 176.3 481.8 181.0 482.0 180.2 482.2 175.5 482.4 177.6 482.6 180.3 482.8 180.5 483.0 180.0 483.2 176.1 483.4 177.7 483.6 180.2 483.8 178.4 484.0 177.5 484.2 179.0 484.4 179.6 484.6 178.3 484.8 178.5 485.0 179.6 485.2 177.1 485.4 176.5 485.6 178.9 485.8 175.8 486.0 178.2 486.2 176.2 486.4 178.3 486.6 175.0 486.8 178.1 487.0 176.4 487.2 175.1 487.4 173.8 487.6 174.2 487.8 172.5 488.0 171.4 488.2 174.1 488.4 172.6 488.6 172.8 488.8 168.2 489.0 166.7 489.2 166.6 489.4 169.4 489.6 169.3 489.8 165.0 490.0 169.3 490.2 167.2 490.4 166.3 490.6 168.4 490.8 169.9 491.0 169.3 491.2 170.1 491.4 169.8 491.6 169.7 491.8 172.0 492.0 170.8 492.2 174.8 492.4 173.3 492.6 177.1 492.8 173.3 493.0 178.3 493.2 175.2 493.4 175.6 493.6 177.6 493.8 178.8 494.0 177.6 494.2 177.3 494.4 181.0 494.6 178.9 494.8 176.4 495.0 177.9 495.2 180.9 495.4 178.9 495.6 179.7 495.8 181.5 496.0 177.6 496.2 179.1 496.4 177.6 496.6 178.6 496.8 179.4 497.0 176.6 497.2 178.9 497.4 178.9 497.6 180.3 497.8 177.8 498.0 176.8 498.2 179.3 498.4 177.1 498.6 179.0 498.8 179.6 499.0 177.5 499.2 178.6 499.4 177.2 499.6 174.5 499.8 176.6 500.0 175.7 500.2 178.9 500.4 177.2 500.6 178.6 500.8 178.8 501.0 180.5 501.2 178.3 501.4 178.3 501.6 179.6 501.8 181.3 502.0 178.8 502.2 179.4 502.4 178.6 502.6 177.9 502.8 176.6 503.0 178.8 503.2 178.5 503.4 178.6 503.6 181.9 503.8 178.5 504.0 179.5 504.2 178.5 504.4 180.8 504.6 178.6 504.8 181.8 505.0 178.6 505.2 180.2 505.4 180.6 505.6 178.7 505.8 180.3 506.0 179.1 506.2 177.9 506.4 178.0 506.6 179.6 506.8 181.8 507.0 178.3 507.2 179.9 507.4 177.9 507.6 179.5 507.8 177.1 508.0 177.9 508.2 179.1 508.4 178.0 508.6 178.7 508.8 180.6 509.0 178.9 509.2 178.1 509.4 177.3 509.6 178.4 509.8 180.9 510.0 179.0 510.2 178.9 510.4 180.3 510.6 180.4 510.8 180.7 511.0 178.6 511.2 177.8 511.4 176.7 511.6 178.2 511.8 178.6 512.0 180.3 512.2 179.7 512.4 178.4 512.6 180.6 512.8 177.3 513.0 177.7 513.2 177.5 513.4 177.6 513.6 178.9 513.8 178.0 514.0 178.1 514.2 181.3 514.4 177.1 514.6 177.7 514.8 178.9 515.0 179.9 515.2 180.0 515.4 178.9 515.6 178.7 515.8 178.9 516.0 180.4 516.2 177.9 516.4 175.8 516.6 179.6 516.8 177.5 517.0 179.2 517.2 181.4 517.4 179.5 517.6 182.1 517.8 176.9 518.0 179.7 518.2 179.9 518.4 180.6 518.6 178.2 518.8 179.6 519.0 179.5 519.2 179.5 519.4 177.3 519.6 176.7 519.8 180.1 520.0 179.9 520.2 179.4 520.4 180.3 520.6 180.9 520.8 177.6 521.0 180.5 521.2 181.5 521.4 180.8 521.6 180.1 521.8 180.3 522.0 177.1 522.2 178.4 522.4 180.7 522.6 181.3 522.8 179.8 523.0 178.3 523.2 178.8 523.4 180.2 523.6 181.9 523.8 179.9 524.0 177.9 524.2 179.5 524.4 179.1 524.6 182.0 524.8 179.2 525.0 178.2 525.2 177.9 525.4 176.1 525.6 176.2 525.8 176.9 526.0 176.3 526.2 177.7 526.4 177.4 526.6 178.6 526.8 179.3 527.0 177.2 527.2 176.6 527.4 174.0 527.6 177.3 527.8 177.7 528.0 175.6 528.2 176.2 528.4 175.7 528.6 178.4 528.8 177.8 529.0 178.8 529.2 175.3 529.4 181.2 529.6 176.1 529.8 175.9 530.0 177.9 530.2 176.9 530.4 180.6 530.6 177.4 530.8 177.1 531.0 179.8 531.2 180.3 531.4 177.3 531.6 177.9 531.8 178.2 532.0 178.6 532.2 181.5 532.4 180.9 532.6 180.7 532.8 181.1 533.0 179.3 533.2 180.7 533.4 179.3 533.6 178.3 533.8 182.0 534.0 176.9 534.2 179.6 534.4 178.7 534.6 177.1 534.8 179.1 535.0 179.8 535.2 180.4 535.4 178.5 535.6 180.8 535.8 180.2 536.0 181.0 536.2 176.9 536.4 179.1 536.6 178.8 536.8 180.6 537.0 178.7 537.2 179.0 537.4 178.1 537.6 178.0 537.8 178.4 538.0 181.3 538.2 178.2 538.4 176.2 538.6 180.3 538.8 179.2 539.0 180.7 539.2 180.6 539.4 179.4 539.6 179.2 539.8 179.0 540.0 179.8 540.2 178.7 540.4 180.2 540.6 182.0 540.8 178.9 541.0 179.0 541.2 178.9 541.4 180.8 541.6 180.9 541.8 182.1 542.0 181.0 542.2 180.1 542.4 180.6 542.6 178.0 542.8 180.8 543.0 180.2 543.2 183.1 543.4 182.0 543.6 178.8 543.8 179.1 544.0 181.3 544.2 176.9 544.4 178.6 544.6 180.5 544.8 180.9 545.0 180.2 545.2 181.7 545.4 179.5 545.6 180.1 545.8 179.6 546.0 178.2 546.2 179.9 546.4 179.0 546.6 179.9 546.8 175.8 547.0 179.8 547.2 178.8 547.4 178.6 547.6 179.5 547.8 178.7 548.0 180.7 548.2 181.1 548.4 180.4 548.6 180.4 548.8 179.4 549.0 178.8 549.2 176.7 549.4 177.9 549.6 180.2 549.8 179.4 550.0 177.4 550.2 178.2 550.4 179.5 550.6 177.5 550.8 180.1 551.0 176.5 551.2 178.7 551.4 178.6 551.6 177.8 551.8 177.9 552.0 178.3 552.2 174.2 552.4 178.3 552.6 179.4 552.8 178.4 553.0 179.6 553.2 176.3 553.4 178.0 553.6 178.8 553.8 178.0 554.0 180.3 554.2 179.4 554.4 178.1 554.6 180.2 554.8 180.4 555.0 178.6 555.2 180.3 555.4 180.1 555.6 180.2 555.8 177.9 556.0 181.8 556.2 180.9 556.4 180.0 556.6 180.6 556.8 180.7 557.0 179.8 557.2 179.4 557.4 180.5 557.6 179.5 557.8 179.7 558.0 178.8 558.2 180.1 558.4 182.1 558.6 180.9 558.8 180.7 559.0 180.2 559.2 180.0 559.4 178.4 559.6 183.2 559.8 179.6 560.0 178.5 560.2 181.4 560.4 181.2 560.6 180.0 560.8 178.6 561.0 178.7 561.2 183.2 561.4 180.7 561.6 179.9 561.8 183.7 562.0 180.1 562.2 179.5 562.4 181.7 562.6 181.5 562.8 183.3 563.0 178.6 563.2 181.4 563.4 178.4 563.6 181.7 563.8 180.0 564.0 180.3 564.2 179.9 564.4 182.3 564.6 183.5 564.8 180.9 565.0 180.7 565.2 180.3 565.4 181.8 565.6 179.5 565.8 186.4 566.0 180.7 566.2 183.7 566.4 181.3 566.6 179.1 566.8 178.8 567.0 180.5 567.2 180.1 567.4 180.8 567.6 179.4 567.8 184.7 568.0 184.4 568.2 178.5 568.4 181.9 568.6 183.0 568.8 180.7 569.0 180.9 569.2 182.9 569.4 182.0 569.6 179.4 569.8 183.1 570.0 180.5 570.2 184.1 570.4 179.8 570.6 177.8 570.8 181.4 571.0 183.1 571.2 182.1 571.4 181.5 571.6 179.9 571.8 182.7 572.0 178.5 572.2 182.5 572.4 179.5 572.6 180.4 572.8 179.4 573.0 180.0 573.2 183.6 573.4 179.6 573.6 181.7 573.8 180.2 574.0 182.9 574.2 179.3 574.4 181.4 574.6 182.8 574.8 184.8 575.0 179.6 575.2 180.1 575.4 181.4 575.6 183.7 575.8 179.9 576.0 182.7 576.2 180.5 576.4 179.9 576.6 179.1 576.8 181.7 577.0 183.0 577.2 181.3 577.4 178.3 577.6 180.7 577.8 183.0 578.0 182.9 578.2 182.0 578.4 183.8 578.6 179.6 578.8 179.7 579.0 185.2 579.2 182.6 579.4 181.3 579.6 180.9 579.8 177.7 580.0 182.9 580.2 178.5 580.4 178.6 580.6 181.6 580.8 183.9 581.0 181.1 581.2 182.2 581.4 181.0 581.6 182.3 581.8 179.2 582.0 184.9 582.2 180.2 582.4 182.6 582.6 178.6 582.8 184.5 583.0 182.4 583.2 184.8 583.4 180.8 583.6 183.4 583.8 181.5 584.0 181.7 584.2 183.8 584.4 180.4 584.6 183.0 584.8 184.8 585.0 184.5 585.2 183.5 585.4 182.4 585.6 180.4 585.8 184.1 586.0 180.9 586.2 183.8 586.4 181.4 586.6 182.0 586.8 182.0 587.0 182.9 587.2 181.3 587.4 182.3 587.6 181.2 587.8 182.8 588.0 182.5 588.2 182.7 588.4 180.7 588.6 182.5 588.8 182.1 589.0 183.0 589.2 182.2 589.4 180.6 589.6 183.2 589.8 181.1 590.0 182.5 590.2 179.0 590.4 182.9 590.6 183.1 590.8 180.7 591.0 183.0 591.2 181.6 591.4 184.3 591.6 183.2 591.8 180.3 592.0 181.9 592.2 179.5 592.4 181.7 592.6 183.0 592.8 183.5 593.0 182.1 593.2 181.9 593.4 182.5 593.6 181.3 593.8 182.8 594.0 184.0 594.2 182.6 594.4 183.6 594.6 181.1 594.8 181.6 595.0 182.9 595.2 185.4 595.4 183.9 595.6 185.0 595.8 182.5 596.0 184.3 596.2 179.9 596.4 183.2 596.6 179.3 596.8 184.3 597.0 183.2" stroke="#7a7a7a" stroke-width="1.6" fill="none" stroke-linejoin="round"/>
<path d="M61.0 228.6L61.2 221.7 61.4 226.1 61.6 224.7 61.8 224.9 62.0 225.2 62.2 222.5 62.4 225.2 62.6 224.3 62.8 230.6 63.0 225.9 63.2 225.1 63.4 225.2 63.6 224.6 63.8 224.1 64.0 225.1 64.2 226.4 64.4 225.3 64.6 227.1 64.8 225.4 65.0 225.7 65.2 228.0 65.4 226.5 65.6 225.0 65.8 225.5 66.0 226.6 66.2 228.7 66.4 225.4 66.6 225.4 66.8 227.3 67.0 224.5 67.2 225.4 67.4 227.2 67.6 226.7 67.8 226.0 68.0 226.9 68.2 221.6 68.4 227.4 68.6 224.5 68.8 223.4 69.0 226.3 69.2 227.0 69.4 225.3 69.6 224.3 69.8 226.0 70.0 225.9 70.2 228.1 70.4 227.1 70.6 226.3 70.8 227.7 71.0 225.7 71.2 224.7 71.4 226.9 71.6 226.9 71.8 225.8 72.0 224.9 72.2 226.4 72.4 222.4 72.6 227.2 72.8 226.9 73.0 223.7 73.2 226.2 73.4 224.7 73.6 227.3 73.8 223.1 74.0 224.8 74.2 227.3 74.4 227.9 74.6 223.0 74.8 225.5 75.0 226.7 75.2 225.3 75.4 228.7 75.6 224.5 75.8 226.8 76.0 224.7 76.2 228.4 76.4 226.3 76.6 225.8 76.8 223.8 77.0 228.9 77.2 227.5 77.4 227.5 77.6 228.1 77.8 226.9 78.0 225.4 78.2 225.2 78.4 225.2 78.6 228.5 78.8 224.3 79.0 225.6 79.2 226.0 79.4 226.8 79.6 227.4 79.8 224.6 80.0 223.9 80.2 226.5 80.4 228.4 80.6 227.7 80.8 226.9 81.0 226.1 81.2 227.0 81.4 226.2 81.6 227.8 81.8 225.4 82.0 226.8 82.2 226.5 82.4 227.5 82.6 227.0 82.8 230.5 83.0 228.9 83.2 228.9 83.4 223.6 83.6 226.2 83.8 225.8 84.0 227.5 84.2 223.3 84.4 228.5 84.6 228.4 84.8 224.8 85.0 225.3 85.2 225.6 85.4 226.9 85.6 227.8 85.8 229.9 86.0 226.5 86.2 228.0 86.4 227.1 86.6 229.5 86.8 228.0 87.0 228.9 87.2 225.3 87.4 226.6 87.6 225.7 87.8 229.2 88.0 227.9 88.2 226.5 88.4 226.3 88.6 227.7 88.8 225.9 89.0 225.6 89.2 227.7 89.4 230.7 89.6 226.7 89.8 226.2 90.0 225.3 90.2 225.1 90.4 227.9 90.6 228.4 90.8 227.1 91.0 227.6 91.2 227.3 91.4 227.3 91.6 224.9 91.8 226.5 92.0 227.3 92.2 226.0 92.4 226.5 92.6 226.0 92.8 226.7 93.0 228.5 93.2 226.6 93.4 227.0 93.6 228.5 93.8 228.2 94.0 229.8 94.2 224.1 94.4 228.6 94.6 226.6 94.8 227.5 95.0 228.6 95.2 229.0 95.4 228.9 95.6 227.6 95.8 229.8 96.0 227.0 96.2 227.2 96.4 228.6 96.6 226.6 96.8 230.7 97.0 229.0 97.2 230.7 97.4 227.4 97.6 226.9 97.8 227.7 98.0 228.6 98.2 226.6 98.4 228.0 98.6 227.4 98.8 229.8 99.0 226.4 99.2 228.9 99.4 226.4 99.6 225.9 99.8 226.3 100.0 225.5 100.2 227.5 100.4 228.8 100.6 227.5 100.8 228.2 101.0 229.7 101.2 227.6 101.4 227.5 101.6 226.7 101.8 224.7 102.0 228.3 102.2 224.5 102.4 228.1 102.6 227.0 102.8 228.7 103.0 226.9 103.2 225.8 103.4 227.5 103.6 226.1 103.8 226.7 104.0 227.0 104.2 226.7 104.4 226.6 104.6 225.6 104.8 226.6 105.0 223.6 105.2 226.6 105.4 225.0 105.6 228.5 105.8 228.7 106.0 223.8 106.2 226.9 106.4 226.5 106.6 225.1 106.8 227.5 107.0 226.0 107.2 224.0 107.4 226.2 107.6 226.4 107.8 226.7 108.0 224.7 108.2 227.5 108.4 227.6 108.6 224.8 108.8 225.5 109.0 226.4 109.2 225.6 109.4 229.1 109.6 226.7 109.8 224.9 110.0 225.2 110.2 226.2 110.4 229.7 110.6 225.9 110.8 226.3 111.0 226.8 111.2 225.9 111.4 229.3 111.6 225.0 111.8 226.9 112.0 225.9 112.2 226.6 112.4 223.8 112.6 228.2 112.8 225.3 113.0 225.4 113.2 223.9 113.4 224.1 113.6 226.0 113.8 226.6 114.0 226.2 114.2 226.8 114.4 226.0 114.6 224.9 114.8 226.0 115.0 225.6 115.2 224.5 115.4 225.6 115.6 226.4 115.8 224.8 116.0 223.8 116.2 225.4 116.4 227.1 116.6 223.8 116.8 223.9 117.0 223.8 117.2 225.8 117.4 221.1 117.6 224.4 117.8 225.5 118.0 222.5 118.2 225.8 118.4 224.4 118.6 222.7 118.8 223.7 119.0 221.0 119.2 222.4 119.4 226.0 119.6 221.8 119.8 225.8 120.0 222.9 120.2 224.4 120.4 222.9 120.6 219.4 120.8 221.9 121.0 223.0 121.2 220.9 121.4 220.5 121.6 223.0 121.8 221.4 122.0 219.8 122.2 221.2 122.4 223.5 122.6 221.4 122.8 223.5 123.0 224.3 123.2 222.0 123.4 220.2 123.6 219.8 123.8 221.7 124.0 223.0 124.2 222.0 124.4 222.3 124.6 220.8 124.8 221.8 125.0 220.6 125.2 220.8 125.4 219.2 125.6 218.8 125.8 220.3 126.0 219.3 126.2 219.5 126.4 221.9 126.6 220.6 126.8 225.1 127.0 222.0 127.2 219.6 127.4 221.7 127.6 221.0 127.8 219.4 128.0 222.1 128.2 219.2 128.4 215.8 128.6 221.5 128.8 219.4 129.0 222.5 129.2 219.3 129.4 218.4 129.6 222.5 129.8 218.5 130.0 220.4 130.2 222.3 130.4 220.2 130.6 219.9 130.8 220.2 131.0 221.2 131.2 218.7 131.4 220.8 131.6 220.8 131.8 223.4 132.0 219.3 132.2 218.4 132.4 220.9 132.6 219.1 132.8 220.1 133.0 219.9 133.2 221.4 133.4 218.6 133.6 219.5 133.8 215.7 134.0 218.2 134.2 221.8 134.4 218.5 134.6 218.4 134.8 217.6 135.0 220.3 135.2 219.6 135.4 217.6 135.6 220.3 135.8 219.7 136.0 220.4 136.2 218.3 136.4 221.8 136.6 219.8 136.8 219.0 137.0 218.3 137.2 218.7 137.4 220.3 137.6 218.6 137.8 220.6 138.0 219.8 138.2 221.0 138.4 220.2 138.6 218.9 138.8 216.1 139.0 219.4 139.2 220.2 139.4 219.2 139.6 219.8 139.8 218.3 140.0 218.4 140.2 217.6 140.4 221.0 140.6 219.2 140.8 218.3 141.0 217.0 141.2 218.8 141.4 221.2 141.6 219.7 141.8 217.9 142.0 221.2 142.2 221.2 142.4 220.5 142.6 220.2 142.8 220.8 143.0 219.9 143.2 220.2 143.4 217.9 143.6 221.3 143.8 219.4 144.0 222.1 144.2 216.0 144.4 220.1 144.6 220.5 144.8 218.6 145.0 219.8 145.2 220.2 145.4 220.0 145.6 218.3 145.8 218.9 146.0 220.6 146.2 221.0 146.4 219.2 146.6 219.2 146.8 219.4 147.0 220.7 147.2 217.5 147.4 217.1 147.6 219.3 147.8 217.5 148.0 218.2 148.2 219.3 148.4 219.9 148.6 217.5 148.8 220.3 149.0 216.5 149.2 220.0 149.4 216.8 149.6 217.2 149.8 220.1 150.0 218.5 150.2 218.0 150.4 218.5 150.6 219.9 150.8 219.1 151.0 219.1 151.2 220.8 151.4 218.1 151.6 218.5 151.8 218.4 152.0 220.9 152.2 220.7 152.4 221.1 152.6 219.1 152.8 219.0 153.0 220.5 153.2 218.6 153.4 220.5 153.6 220.3 153.8 218.2 154.0 219.1 154.2 219.0 154.4 221.8 154.6 223.1 154.8 219.1 155.0 219.3 155.2 215.8 155.4 219.6 155.6 219.2 155.8 217.6 156.0 220.4 156.2 216.9 156.4 218.9 156.6 219.5 156.8 217.4 157.0 220.5 157.2 220.8 157.4 217.2 157.6 217.2 157.8 220.2 158.0 219.2 158.2 217.5 158.4 218.8 158.6 219.1 158.8 219.1 159.0 220.5 159.2 219.9 159.4 222.0 159.6 221.4 159.8 220.3 160.0 220.9 160.2 221.3 160.4 220.4 160.6 217.5 160.8 220.6 161.0 219.4 161.2 221.8 161.4 219.5 161.6 220.1 161.8 219.8 162.0 221.9 162.2 219.6 162.4 218.9 162.6 219.8 162.8 218.7 163.0 219.6 163.2 219.3 163.4 219.8 163.6 222.2 163.8 218.8 164.0 219.4 164.2 219.1 164.4 220.4 164.6 217.6 164.8 218.3 165.0 219.3 165.2 220.2 165.4 219.3 165.6 218.6 165.8 218.1 166.0 220.2 166.2 221.6 166.4 219.9 166.6 219.7 166.8 220.1 167.0 218.0 167.2 218.9 167.4 219.0 167.6 219.9 167.8 219.4 168.0 217.6 168.2 221.1 168.4 222.0 168.6 219.0 168.8 220.0 169.0 219.8 169.2 220.6 169.4 217.2 169.6 221.9 169.8 218.7 170.0 221.3 170.2 219.6 170.4 218.9 170.6 219.2 170.8 220.8 171.0 218.2 171.2 218.9 171.4 218.7 171.6 216.9 171.8 221.4 172.0 220.3 172.2 219.4 172.4 221.2 172.6 218.0 172.8 219.4 173.0 222.1 173.2 220.9 173.4 216.1 173.6 214.5 173.8 217.9 174.0 221.1 174.2 218.8 174.4 219.2 174.6 220.4 174.8 218.2 175.0 219.8 175.2 220.7 175.4 220.2 175.6 220.1 175.8 218.6 176.0 220.3 176.2 218.9 176.4 221.5 176.6 223.4 176.8 218.4 177.0 216.2 177.2 218.9 177.4 220.1 177.6 221.1 177.8 221.1 178.0 218.3 178.2 218.3 178.4 221.4 178.6 217.9 178.8 221.1 179.0 219.2 179.2 220.7 179.4 220.6 179.6 220.7 179.8 220.7 180.0 218.0 180.2 220.0 180.4 219.5 180.6 220.0 180.8 221.4 181.0 219.1 181.2 218.4 181.4 218.4 181.6 219.0 181.8 220.6 182.0 218.3 182.2 221.2 182.4 219.9 182.6 219.1 182.8 217.5 183.0 219.8 183.2 220.5 183.4 216.8 183.6 221.2 183.8 221.9 184.0 219.9 184.2 220.1 184.4 223.0 184.6 221.2 184.8 218.0 185.0 219.3 185.2 219.0 185.4 219.0 185.6 215.6 185.8 220.2 186.0 217.9 186.2 218.9 186.4 218.2 186.6 219.2 186.8 216.8 187.0 215.2 187.2 216.1 187.4 216.2 187.6 212.3 187.8 213.7 188.0 211.4 188.2 210.3 188.4 214.1 188.6 211.7 188.8 215.8 189.0 214.9 189.2 217.5 189.4 215.9 189.6 217.2 189.8 220.6 190.0 219.7 190.2 219.7 190.4 219.2 190.6 220.6 190.8 217.9 191.0 218.4 191.2 219.9 191.4 219.0 191.6 219.2 191.8 220.2 192.0 220.1 192.2 220.0 192.4 222.8 192.6 221.9 192.8 222.2 193.0 220.3 193.2 219.5 193.4 218.0 193.6 219.5 193.8 216.6 194.0 218.5 194.2 220.1 194.4 220.7 194.6 218.9 194.8 215.1 195.0 215.8 195.2 212.4 195.4 213.1 195.6 210.0 195.8 209.8 196.0 210.9 196.2 207.5 196.4 209.3 196.6 206.5 196.8 206.7 197.0 210.7 197.2 213.1 197.4 211.5 197.6 214.2 197.8 213.5 198.0 216.7 198.2 219.5 198.4 219.0 198.6 219.0 198.8 218.3 199.0 221.4 199.2 222.3 199.4 222.3 199.6 221.9 199.8 219.8 200.0 224.5 200.2 221.8 200.4 221.8 200.6 223.2 200.8 218.9 201.0 222.1 201.2 222.1 201.4 222.9 201.6 224.4 201.8 223.1 202.0 219.7 202.2 222.0 202.4 222.8 202.6 222.7 202.8 220.5 203.0 219.9 203.2 223.2 203.4 222.9 203.6 222.3 203.8 219.7 204.0 225.0 204.2 217.9 204.4 221.7 204.6 225.3 204.8 221.9 205.0 222.4 205.2 220.3 205.4 224.0 205.6 220.0 205.8 222.2 206.0 221.9 206.2 220.0 206.4 222.8 206.6 219.2 206.8 220.2 207.0 221.0 207.2 220.2 207.4 221.3 207.6 221.8 207.8 219.6 208.0 218.9 208.2 218.7 208.4 218.5 208.6 219.9 208.8 217.8 209.0 218.2 209.2 216.8 209.4 214.9 209.6 216.7 209.8 212.9 210.0 213.3 210.2 214.2 210.4 208.7 210.6 208.1 210.8 202.9 211.0 200.3 211.2 192.8 211.4 186.1 211.6 174.8 211.8 162.7 212.0 151.0 212.2 137.5 212.4 132.8 212.6 135.1 212.8 144.6 213.0 155.8 213.2 165.8 213.4 178.0 213.6 187.3 213.8 190.3 214.0 191.8 214.2 196.9 214.4 194.8 214.6 195.1 214.8 194.3 215.0 194.4 215.2 194.7 215.4 196.9 215.6 192.0 215.8 188.7 216.0 187.0 216.2 185.2 216.4 180.9 216.6 182.4 216.8 183.2 217.0 183.8 217.2 186.4 217.4 186.3 217.6 188.6 217.8 195.6 218.0 197.2 218.2 194.4 218.4 197.5 218.6 197.0 218.8 197.1 219.0 195.9 219.2 194.3 219.4 195.3 219.6 196.1 219.8 197.4 220.0 197.0 220.2 198.0 220.4 204.3 220.6 206.1 220.8 211.8 221.0 215.1 221.2 216.7 221.4 217.7 221.6 220.0 221.8 223.0 222.0 221.2 222.2 224.5 222.4 224.8 222.6 224.6 222.8 226.8 223.0 223.9 223.2 226.7 223.4 224.1 223.6 224.6 223.8 224.3 224.0 226.8 224.2 224.8 224.4 226.5 224.6 224.8 224.8 228.3 225.0 229.5 225.2 227.2 225.4 229.5 225.6 228.0 225.8 230.5 226.0 227.5 226.2 225.0 226.4 229.7 226.6 227.3 226.8 226.0 227.0 226.6 227.2 225.2 227.4 227.4 227.6 226.1 227.8 230.0 228.0 228.8 228.2 225.3 228.4 225.6 228.6 227.1 228.8 225.1 229.0 227.8 229.2 227.9 229.4 226.9 229.6 227.2 229.8 228.8 230.0 230.2 230.2 230.4 230.4 228.2 230.6 229.5 230.8 227.1 231.0 228.9 231.2 226.8 231.4 229.4 231.6 226.5 231.8 226.9 232.0 228.3 232.2 229.2 232.4 226.2 232.6 227.6 232.8 228.6 233.0 228.8 233.2 227.2 233.4 228.6 233.6 228.1 233.8 230.6 234.0 229.4 234.2 226.6 234.4 225.3 234.6 228.8 234.8 230.4 235.0 228.9 235.2 230.0 235.4 227.9 235.6 226.6 235.8 229.8 236.0 228.9 236.2 229.8 236.4 226.7 236.6 229.0 236.8 227.8 237.0 230.0 237.2 227.9 237.4 227.9 237.6 227.9 237.8 230.7 238.0 228.9 238.2 227.7 238.4 227.3 238.6 227.3 238.8 231.1 239.0 226.2 239.2 227.6 239.4 229.9 239.6 230.7 239.8 228.7 240.0 230.1 240.2 230.1 240.4 230.4 240.6 229.0 240.8 231.5 241.0 229.3 241.2 231.3 241.4 227.4 241.6 230.4 241.8 227.2 242.0 226.8 242.2 229.8 242.4 227.8 242.6 229.7 242.8 227.5 243.0 231.5 243.2 229.1 243.4 227.4 243.6 229.3 243.8 230.4 244.0 227.9 244.2 229.8 244.4 232.1 244.6 230.4 244.8 229.0 245.0 228.2 245.2 229.9 245.4 226.7 245.6 224.4 245.8 228.0 246.0 227.3 246.2 231.5 246.4 229.1 246.6 227.4 246.8 227.0 247.0 229.5 247.2 227.4 247.4 227.8 247.6 228.4 247.8 228.6 248.0 228.5 248.2 228.5 248.4 230.1 248.6 230.6 248.8 225.3 249.0 231.3 249.2 227.2 249.4 228.3 249.6 224.5 249.8 225.1 250.0 223.6 250.2 221.9 250.4 221.1 250.6 218.6 250.8 213.9 251.0 212.8 251.2 211.7 251.4 209.5 251.6 206.3 251.8 205.2 252.0 204.7 252.2 203.0 252.4 202.5 252.6 206.4 252.8 202.7 253.0 202.0 253.2 198.7 253.4 198.9 253.6 196.2 253.8 189.5 254.0 186.9 254.2 181.7 254.4 183.4 254.6 181.4 254.8 179.7 255.0 185.3 255.2 187.5 255.4 191.7 255.6 195.7 255.8 198.0 256.0 201.3 256.2 205.3 256.4 205.5 256.6 204.3 256.8 207.9 257.0 202.8 257.2 199.8 257.4 196.7 257.6 195.9 257.8 193.9 258.0 191.2 258.2 191.8 258.4 189.3 258.6 193.4 258.8 196.6 259.0 201.2 259.2 206.1 259.4 206.4 259.6 218.0 259.8 215.5 260.0 220.3 260.2 223.5 260.4 225.5 260.6 226.2 260.8 222.8 261.0 226.5 261.2 230.0 261.4 228.0 261.6 228.3 261.8 226.7 262.0 232.3 262.2 231.5 262.4 229.6 262.6 230.9 262.8 231.1 263.0 229.8 263.2 231.2 263.4 232.1 263.6 232.7 263.8 233.9 264.0 232.1 264.2 231.5 264.4 232.9 264.6 231.4 264.8 230.6 265.0 234.2 265.2 232.0 265.4 232.8 265.6 233.7 265.8 231.1 266.0 233.8 266.2 233.6 266.4 232.8 266.6 233.6 266.8 231.9 267.0 229.8 267.2 232.7 267.4 231.8 267.6 234.5 267.8 233.7 268.0 232.5 268.2 233.4 268.4 235.4 268.6 235.2 268.8 234.0 269.0 234.2 269.2 233.2 269.4 233.4 269.6 234.5 269.8 233.5 270.0 234.2 270.2 232.1 270.4 231.3 270.6 231.3 270.8 233.2 271.0 235.9 271.2 235.7 271.4 232.5 271.6 231.7 271.8 235.2 272.0 234.8 272.2 232.0 272.4 235.7 272.6 234.4 272.8 236.2 273.0 234.7 273.2 235.6 273.4 234.8 273.6 232.9 273.8 234.0 274.0 233.3 274.2 235.6 274.4 232.9 274.6 232.1 274.8 235.5 275.0 236.2 275.2 236.7 275.4 236.2 275.6 232.3 275.8 233.6 276.0 233.8 276.2 234.6 276.4 231.4 276.6 234.7 276.8 235.1 277.0 233.3 277.2 234.9 277.4 236.6 277.6 234.9 277.8 236.4 278.0 236.4 278.2 235.5 278.4 235.5 278.6 234.4 278.8 236.8 279.0 234.2 279.2 233.9 279.4 236.0 279.6 233.9 279.8 235.6 280.0 236.6 280.2 235.1 280.4 235.1 280.6 236.3 280.8 236.0 281.0 232.5 281.2 232.8 281.4 236.7 281.6 235.1 281.8 231.3 282.0 232.2 282.2 234.0 282.4 232.2 282.6 234.0 282.8 233.0 283.0 233.2 283.2 230.2 283.4 232.3 283.6 233.7 283.8 229.0 284.0 231.5 284.2 230.5 284.4 229.5 284.6 228.0 284.8 226.0 285.0 226.3 285.2 228.8 285.4 229.3 285.6 230.0 285.8 230.0 286.0 230.5 286.2 229.0 286.4 228.5 286.6 231.2 286.8 232.3 287.0 232.2 287.2 230.4 287.4 232.4 287.6 231.3 287.8 234.1 288.0 232.7 288.2 234.2 288.4 235.2 288.6 235.1 288.8 237.1 289.0 233.5 289.2 231.9 289.4 236.7 289.6 237.4 289.8 237.4 290.0 235.7 290.2 236.1 290.4 235.4 290.6 233.2 290.8 234.2 291.0 235.7 291.2 233.9 291.4 237.5 291.6 232.1 291.8 233.5 292.0 235.6 292.2 232.7 292.4 231.5 292.6 230.7 292.8 231.2 293.0 234.0 293.2 231.8 293.4 231.4 293.6 229.2 293.8 230.6 294.0 228.9 294.2 226.7 294.4 226.8 294.6 227.2 294.8 228.2 295.0 225.9 295.2 226.4 295.4 228.5 295.6 224.3 295.8 223.7 296.0 227.2 296.2 226.7 296.4 226.4 296.6 227.4 296.8 227.1 297.0 229.1 297.2 228.4 297.4 230.8 297.6 228.5 297.8 229.7 298.0 231.7 298.2 231.4 298.4 233.7 298.6 233.1 298.8 232.8 299.0 234.4 299.2 233.6 299.4 232.4 299.6 233.3 299.8 234.1 300.0 234.8 300.2 235.8 300.4 237.1 300.6 236.7 300.8 238.6 301.0 237.9 301.2 235.8 301.4 238.6 301.6 237.9 301.8 235.5 302.0 236.7 302.2 237.9 302.4 236.6 302.6 237.8 302.8 236.8 303.0 237.3 303.2 235.7 303.4 236.7 303.6 235.6 303.8 237.1 304.0 233.4 304.2 236.3 304.4 237.6 304.6 236.4 304.8 235.2 305.0 235.7 305.2 233.2 305.4 232.8 305.6 232.9 305.8 232.5 306.0 233.3 306.2 229.6 306.4 231.4 306.6 226.3 306.8 226.3 307.0 226.1 307.2 226.5 307.4 222.6 307.6 219.1 307.8 221.9 308.0 220.4 308.2 218.3 308.4 218.2 308.6 218.8 308.8 220.4 309.0 221.9 309.2 219.5 309.4 226.2 309.6 223.7 309.8 224.1 310.0 226.5 310.2 226.4 310.4 230.3 310.6 228.8 310.8 226.7 311.0 226.7 311.2 226.3 311.4 226.3 311.6 227.5 311.8 225.2 312.0 228.4 312.2 225.9 312.4 226.0 312.6 228.1 312.8 224.3 313.0 226.7 313.2 229.9 313.4 230.0 313.6 230.9 313.8 232.5 314.0 231.8 314.2 233.2 314.4 232.1 314.6 231.9 314.8 237.1 315.0 234.2 315.2 234.8 315.4 238.3 315.6 237.9 315.8 235.7 316.0 235.8 316.2 236.6 316.4 235.3 316.6 237.7 316.8 237.1 317.0 237.1 317.2 238.1 317.4 238.1 317.6 239.8 317.8 239.3 318.0 234.5 318.2 238.4 318.4 235.4 318.6 234.9 318.8 238.1 319.0 236.0 319.2 236.6 319.4 238.7 319.6 236.1 319.8 235.7 320.0 237.5 320.2 238.9 320.4 237.8 320.6 234.6 320.8 236.0 321.0 236.7 321.2 239.7 321.4 238.1 321.6 237.9 321.8 238.3 322.0 235.8 322.2 236.7 322.4 236.4 322.6 233.6 322.8 234.4 323.0 234.4 323.2 230.9 323.4 232.4 323.6 230.8 323.8 229.4 324.0 224.8 324.2 224.0 324.4 224.0 324.6 221.1 324.8 217.0 325.0 217.3 325.2 218.4 325.4 216.1 325.6 217.5 325.8 222.0 326.0 219.7 326.2 221.6 326.4 222.2 326.6 224.7 326.8 229.8 327.0 229.0 327.2 228.8 327.4 230.3 327.6 232.6 327.8 234.3 328.0 232.4 328.2 234.7 328.4 232.9 328.6 234.0 328.8 234.0 329.0 233.9 329.2 232.1 329.4 232.3 329.6 233.2 329.8 230.4 330.0 232.8 330.2 233.5 330.4 234.7 330.6 233.4 330.8 233.7 331.0 234.6 331.2 233.8 331.4 235.0 331.6 236.3 331.8 236.5 332.0 234.8 332.2 236.1 332.4 233.6 332.6 238.1 332.8 236.1 333.0 237.3 333.2 235.2 333.4 236.6 333.6 237.3 333.8 237.9 334.0 234.1 334.2 237.1 334.4 235.3 334.6 234.0 334.8 235.6 335.0 234.1 335.2 233.9 335.4 233.1 335.6 234.4 335.8 234.1 336.0 233.9 336.2 233.0 336.4 233.9 336.6 235.6 336.8 237.3 337.0 235.7 337.2 238.3 337.4 236.5 337.6 235.1 337.8 238.0 338.0 235.8 338.2 238.1 338.4 239.2 338.6 237.3 338.8 237.7 339.0 241.6 339.2 238.4 339.4 238.5 339.6 239.3 339.8 238.0 340.0 238.0 340.2 238.8 340.4 234.6 340.6 240.4 340.8 236.7 341.0 236.7 341.2 239.1 341.4 238.3 341.6 236.4 341.8 238.6 342.0 236.6 342.2 237.3 342.4 236.1 342.6 237.1 342.8 239.0 343.0 238.6 343.2 238.9 343.4 239.8 343.6 238.4 343.8 237.5 344.0 238.0 344.2 240.9 344.4 238.5 344.6 239.0 344.8 238.4 345.0 238.9 345.2 239.2 345.4 238.5 345.6 238.3 345.8 237.4 346.0 237.3 346.2 239.2 346.4 239.7 346.6 240.0 346.8 238.7 347.0 237.4 347.2 239.6 347.4 239.6 347.6 236.4 347.8 239.9 348.0 239.5 348.2 241.2 348.4 237.0 348.6 236.8 348.8 239.9 349.0 236.0 349.2 237.6 349.4 237.1 349.6 237.2 349.8 235.9 350.0 238.4 350.2 240.2 350.4 239.4 350.6 239.4 350.8 238.3 351.0 241.0 351.2 239.6 351.4 240.4 351.6 236.5 351.8 239.3 352.0 237.1 352.2 239.4 352.4 239.2 352.6 237.2 352.8 239.1 353.0 240.6 353.2 239.6 353.4 239.8 353.6 237.6 353.8 237.9 354.0 237.3 354.2 239.1 354.4 240.7 354.6 239.6 354.8 239.0 355.0 237.3 355.2 239.6 355.4 238.6 355.6 236.1 355.8 236.4 356.0 238.5 356.2 237.7 356.4 241.5 356.6 239.1 356.8 237.5 357.0 238.3 357.2 241.4 357.4 237.6 357.6 240.2 357.8 239.7 358.0 241.2 358.2 239.8 358.4 238.5 358.6 239.8 358.8 239.2 359.0 240.5 359.2 239.0 359.4 242.0 359.6 238.9 359.8 239.7 360.0 238.1 360.2 239.2 360.4 239.1 360.6 239.3 360.8 240.4 361.0 238.2 361.2 237.7 361.4 240.6 361.6 238.5 361.8 237.9 362.0 240.5 362.2 239.9 362.4 234.7 362.6 237.9 362.8 239.5 363.0 239.4 363.2 237.2 363.4 240.0 363.6 236.2 363.8 236.8 364.0 237.0 364.2 236.4 364.4 237.2 364.6 237.2 364.8 235.2 365.0 236.9 365.2 233.5 365.4 233.8 365.6 236.4 365.8 233.8 366.0 235.1 366.2 232.8 366.4 233.1 366.6 233.4 366.8 234.1 367.0 233.6 367.2 234.5 367.4 235.8 367.6 237.0 367.8 235.8 368.0 237.0 368.2 237.7 368.4 235.1 368.6 234.7 368.8 239.8 369.0 239.6 369.2 238.0 369.4 238.6 369.6 236.9 369.8 236.4 370.0 239.0 370.2 236.5 370.4 240.1 370.6 237.8 370.8 239.3 371.0 241.8 371.2 241.8 371.4 238.6 371.6 240.6 371.8 237.5 372.0 238.2 372.2 239.6 372.4 241.1 372.6 238.2 372.8 239.9 373.0 239.2 373.2 237.2 373.4 238.9 373.6 241.3 373.8 238.9 374.0 239.8 374.2 240.3 374.4 237.9 374.6 240.9 374.8 241.3 375.0 241.4 375.2 241.0 375.4 238.3 375.6 238.1 375.8 237.8 376.0 237.6 376.2 237.8 376.4 240.5 376.6 241.1 376.8 238.0 377.0 240.2 377.2 237.0 377.4 238.4 377.6 237.4 377.8 236.5 378.0 239.0 378.2 239.0 378.4 238.2 378.6 238.1 378.8 237.3 379.0 238.6 379.2 237.9 379.4 239.1 379.6 236.9 379.8 239.0 380.0 239.4 380.2 240.5 380.4 240.1 380.6 238.8 380.8 237.4 381.0 235.6 381.2 238.2 381.4 240.2 381.6 240.4 381.8 233.9 382.0 236.3 382.2 236.6 382.4 235.3 382.6 236.8 382.8 236.1 383.0 234.9 383.2 235.1 383.4 232.3 383.6 232.6 383.8 232.2 384.0 234.4 384.2 230.0 384.4 231.7 384.6 232.7 384.8 231.2 385.0 232.2 385.2 229.9 385.4 231.5 385.6 232.3 385.8 234.6 386.0 232.6 386.2 234.1 386.4 232.4 386.6 233.1 386.8 235.8 387.0 234.9 387.2 236.7 387.4 236.1 387.6 238.7 387.8 239.5 388.0 235.1 388.2 239.5 388.4 237.6 388.6 238.0 388.8 237.3 389.0 238.8 389.2 236.2 389.4 236.9 389.6 236.9 389.8 238.6 390.0 239.6 390.2 239.4 390.4 238.9 390.6 237.5 390.8 235.7 391.0 239.0 391.2 238.6 391.4 239.0 391.6 240.6 391.8 238.2 392.0 238.2 392.2 235.0 392.4 239.3 392.6 238.4 392.8 237.4 393.0 239.0 393.2 236.9 393.4 237.7 393.6 241.4 393.8 239.6 394.0 239.8 394.2 239.6 394.4 239.4 394.6 238.7 394.8 241.9 395.0 238.3 395.2 239.5 395.4 238.1 395.6 237.9 395.8 234.7 396.0 235.5 396.2 240.7 396.4 240.6 396.6 237.7 396.8 238.3 397.0 239.3 397.2 236.8 397.4 241.0 397.6 236.7 397.8 237.2 398.0 234.1 398.2 240.5 398.4 238.3 398.6 240.6 398.8 236.7 399.0 238.6 399.2 238.2 399.4 238.3 399.6 241.1 399.8 241.3 400.0 239.9 400.2 237.1 400.4 238.9 400.6 239.5 400.8 238.1 401.0 238.0 401.2 237.6 401.4 235.3 401.6 236.8 401.8 238.6 402.0 234.4 402.2 235.8 402.4 236.6 402.6 233.1 402.8 234.7 403.0 232.1 403.2 233.6 403.4 232.3 403.6 233.0 403.8 233.6 404.0 233.9 404.2 234.2 404.4 231.0 404.6 237.2 404.8 234.7 405.0 233.7 405.2 234.6 405.4 236.3 405.6 234.6 405.8 235.7 406.0 235.9 406.2 237.6 406.4 235.9 406.6 237.8 406.8 237.8 407.0 237.2 407.2 239.4 407.4 237.6 407.6 235.9 407.8 238.2 408.0 237.9 408.2 237.7 408.4 238.1 408.6 241.3 408.8 238.1 409.0 238.4 409.2 237.3 409.4 239.6 409.6 237.5 409.8 236.3 410.0 235.6 410.2 238.1 410.4 238.3 410.6 234.7 410.8 235.8 411.0 237.7 411.2 238.1 411.4 234.3 411.6 235.4 411.8 237.0 412.0 234.6 412.2 234.4 412.4 233.9 412.6 232.3 412.8 233.9 413.0 233.9 413.2 230.9 413.4 232.7 413.6 233.7 413.8 231.9 414.0 232.6 414.2 230.0 414.4 232.4 414.6 228.8 414.8 232.5 415.0 228.8 415.2 228.1 415.4 227.7 415.6 228.3 415.8 228.1 416.0 227.7 416.2 228.2 416.4 229.6 416.6 229.9 416.8 228.1 417.0 230.5 417.2 227.2 417.4 227.2 417.6 227.1 417.8 229.7 418.0 226.6 418.2 227.0 418.4 231.3 418.6 232.2 418.8 231.9 419.0 228.0 419.2 230.6 419.4 232.2 419.6 231.6 419.8 229.4 420.0 231.8 420.2 230.2 420.4 231.4 420.6 236.9 420.8 235.1 421.0 232.3 421.2 232.7 421.4 235.9 421.6 234.7 421.8 236.8 422.0 235.2 422.2 236.1 422.4 237.0 422.6 235.3 422.8 234.2 423.0 235.4 423.2 236.3 423.4 237.2 423.6 237.5 423.8 237.6 424.0 238.5 424.2 236.5 424.4 239.9 424.6 240.9 424.8 238.5 425.0 238.2 425.2 239.9 425.4 239.0 425.6 238.3 425.8 237.8 426.0 237.0 426.2 236.3 426.4 239.1 426.6 239.9 426.8 236.5 427.0 238.0 427.2 238.5 427.4 237.5 427.6 237.0 427.8 237.6 428.0 235.2 428.2 238.1 428.4 237.8 428.6 241.4 428.8 239.6 429.0 237.7 429.2 238.2 429.4 240.8 429.6 240.6 429.8 238.5 430.0 238.0 430.2 236.1 430.4 237.8 430.6 238.0 430.8 237.1 431.0 240.8 431.2 235.4 431.4 238.1 431.6 238.9 431.8 238.9 432.0 240.8 432.2 236.2 432.4 237.1 432.6 238.4 432.8 238.5 433.0 237.7 433.2 237.1 433.4 239.9 433.6 236.7 433.8 237.4 434.0 240.4 434.2 240.9 434.4 239.6 434.6 237.0 434.8 237.0 435.0 236.9 435.2 236.6 435.4 237.6 435.6 240.2 435.8 238.6 436.0 237.1 436.2 237.1 436.4 236.5 436.6 240.0 436.8 235.2 437.0 238.6 437.2 236.1 437.4 236.6 437.6 236.0 437.8 239.6 438.0 238.1 438.2 242.3 438.4 236.6 438.6 236.5 438.8 239.0 439.0 239.0 439.2 237.7 439.4 235.1 439.6 240.3 439.8 238.9 440.0 238.6 440.2 237.1 440.4 238.9 440.6 237.0 440.8 237.9 441.0 237.4 441.2 239.4 441.4 236.7 441.6 236.6 441.8 238.5 442.0 236.8 442.2 236.1 442.4 235.3 442.6 236.6 442.8 233.6 443.0 234.8 443.2 236.6 443.4 233.7 443.6 231.6 443.8 230.7 444.0 232.6 444.2 230.7 444.4 230.4 444.6 232.0 444.8 232.0 445.0 235.4 445.2 232.5 445.4 237.6 445.6 234.6 445.8 236.3 446.0 237.6 446.2 237.3 446.4 238.3 446.6 236.0 446.8 234.3 447.0 237.5 447.2 235.4 447.4 237.1 447.6 239.5 447.8 237.8 448.0 237.2 448.2 236.4 448.4 237.6 448.6 237.8 448.8 235.6 449.0 238.3 449.2 236.2 449.4 238.0 449.6 236.8 449.8 238.8 450.0 238.3 450.2 236.8 450.4 236.2 450.6 236.6 450.8 237.6 451.0 236.6 451.2 234.6 451.4 234.2 451.6 235.4 451.8 229.9 452.0 232.4 452.2 229.6 452.4 232.2 452.6 228.8 452.8 228.8 453.0 226.9 453.2 228.3 453.4 229.3 453.6 230.6 453.8 226.4 454.0 228.0 454.2 235.0 454.4 231.1 454.6 230.4 454.8 231.9 455.0 227.8 455.2 235.0 455.4 233.6 455.6 231.9 455.8 236.5 456.0 234.4 456.2 234.3 456.4 237.1 456.6 237.4 456.8 236.5 457.0 237.4 457.2 235.7 457.4 235.8 457.6 239.5 457.8 240.3 458.0 239.0 458.2 239.0 458.4 237.9 458.6 238.3 458.8 237.1 459.0 241.1 459.2 237.6 459.4 239.0 459.6 238.3 459.8 236.1 460.0 241.0 460.2 237.3 460.4 236.6 460.6 237.7 460.8 235.9 461.0 237.0 461.2 235.2 461.4 237.2 461.6 236.1 461.8 233.6 462.0 236.8 462.2 235.1 462.4 232.7 462.6 234.5 462.8 234.2 463.0 236.0 463.2 231.6 463.4 233.8 463.6 232.1 463.8 233.0 464.0 231.5 464.2 231.8 464.4 232.6 464.6 230.2 464.8 229.0 465.0 232.4 465.2 232.0 465.4 233.2 465.6 234.4 465.8 233.5 466.0 236.1 466.2 234.7 466.4 235.4 466.6 236.9 466.8 236.9 467.0 236.3 467.2 237.1 467.4 236.1 467.6 236.7 467.8 238.0 468.0 239.4 468.2 237.8 468.4 239.9 468.6 241.8 468.8 242.3 469.0 239.3 469.2 241.0 469.4 240.4 469.6 240.8 469.8 241.0 470.0 240.6 470.2 241.1 470.4 240.2 470.6 239.6 470.8 240.4 471.0 240.8 471.2 241.9 471.4 240.7 471.6 241.3 471.8 242.3 472.0 238.8 472.2 239.8 472.4 241.1 472.6 240.3 472.8 238.8 473.0 241.8 473.2 240.2 473.4 238.9 473.6 243.2 473.8 238.5 474.0 240.4 474.2 239.4 474.4 240.6 474.6 241.3 474.8 239.3 475.0 240.3 475.2 240.3 475.4 239.0 475.6 242.3 475.8 240.8 476.0 240.1 476.2 239.6 476.4 240.1 476.6 240.8 476.8 239.9 477.0 242.5 477.2 236.8 477.4 237.4 477.6 240.3 477.8 237.9 478.0 240.6 478.2 239.7 478.4 241.6 478.6 241.3 478.8 242.7 479.0 242.1 479.2 242.6 479.4 241.5 479.6 242.4 479.8 241.5 480.0 239.9 480.2 238.9 480.4 239.0 480.6 241.5 480.8 237.2 481.0 241.0 481.2 239.6 481.4 241.9 481.6 241.1 481.8 239.6 482.0 240.8 482.2 237.3 482.4 241.1 482.6 241.4 482.8 237.9 483.0 242.0 483.2 240.5 483.4 240.9 483.6 238.4 483.8 241.4 484.0 241.4 484.2 240.4 484.4 238.9 484.6 241.4 484.8 242.0 485.0 240.6 485.2 241.4 485.4 238.8 485.6 239.7 485.8 239.8 486.0 239.2 486.2 242.9 486.4 238.9 486.6 237.1 486.8 238.8 487.0 235.4 487.2 237.1 487.4 237.2 487.6 234.8 487.8 234.4 488.0 232.9 488.2 234.0 488.4 232.2 488.6 235.2 488.8 233.1 489.0 231.3 489.2 229.1 489.4 233.9 489.6 232.5 489.8 231.1 490.0 230.7 490.2 230.7 490.4 229.9 490.6 233.7 490.8 231.6 491.0 229.5 491.2 231.2 491.4 228.8 491.6 234.3 491.8 235.0 492.0 237.2 492.2 238.2 492.4 234.5 492.6 236.9 492.8 238.3 493.0 238.5 493.2 237.0 493.4 239.4 493.6 239.3 493.8 241.0 494.0 239.2 494.2 239.2 494.4 239.0 494.6 239.5 494.8 239.1 495.0 239.9 495.2 241.3 495.4 241.3 495.6 242.7 495.8 242.5 496.0 241.8 496.2 239.2 496.4 241.9 496.6 242.8 496.8 239.2 497.0 239.5 497.2 239.7 497.4 239.6 497.6 240.8 497.8 239.8 498.0 241.8 498.2 239.5 498.4 241.1 498.6 240.6 498.8 239.9 499.0 242.9 499.2 241.4 499.4 242.2 499.6 240.9 499.8 242.5 500.0 242.3 500.2 241.2 500.4 238.8 500.6 242.7 500.8 242.5 501.0 241.7 501.2 241.9 501.4 241.7 501.6 241.8 501.8 240.0 502.0 241.4 502.2 242.0 502.4 240.6 502.6 240.1 502.8 244.4 503.0 242.5 503.2 241.1 503.4 240.9 503.6 237.6 503.8 239.5 504.0 241.2 504.2 243.6 504.4 238.6 504.6 240.6 504.8 244.5 505.0 242.7 505.2 242.3 505.4 243.5 505.6 241.5 505.8 241.4 506.0 242.8 506.2 243.0 506.4 240.1 506.6 244.0 506.8 239.1 507.0 240.7 507.2 246.4 507.4 241.0 507.6 242.7 507.8 240.3 508.0 241.3 508.2 240.7 508.4 241.2 508.6 242.8 508.8 244.4 509.0 243.1 509.2 244.2 509.4 241.1 509.6 244.0 509.8 242.7 510.0 243.9 510.2 241.2 510.4 241.5 510.6 243.9 510.8 242.8 511.0 242.0 511.2 240.8 511.4 241.7 511.6 242.6 511.8 243.0 512.0 241.0 512.2 241.4 512.4 242.5 512.6 240.2 512.8 243.3 513.0 241.9 513.2 241.7 513.4 238.3 513.6 239.5 513.8 240.3 514.0 241.0 514.2 240.2 514.4 242.4 514.6 242.1 514.8 241.5 515.0 238.8 515.2 244.0 515.4 241.5 515.6 242.8 515.8 240.9 516.0 241.9 516.2 242.9 516.4 242.2 516.6 243.3 516.8 241.6 517.0 244.9 517.2 239.0 517.4 241.0 517.6 243.3 517.8 241.5 518.0 241.2 518.2 239.2 518.4 243.7 518.6 239.0 518.8 242.6 519.0 242.1 519.2 243.2 519.4 244.0 519.6 240.8 519.8 240.6 520.0 241.3 520.2 239.2 520.4 243.0 520.6 241.2 520.8 242.0 521.0 240.0 521.2 241.7 521.4 240.8 521.6 241.5 521.8 240.0 522.0 243.1 522.2 240.6 522.4 237.6 522.6 242.4 522.8 240.9 523.0 239.9 523.2 244.9 523.4 241.0 523.6 239.0 523.8 239.9 524.0 241.3 524.2 240.3 524.4 242.3 524.6 241.9 524.8 239.0 525.0 240.1 525.2 240.8 525.4 239.0 525.6 238.8 525.8 240.6 526.0 239.8 526.2 236.9 526.4 238.0 526.6 238.0 526.8 238.3 527.0 237.3 527.2 240.3 527.4 236.7 527.6 236.5 527.8 238.4 528.0 234.7 528.2 236.5 528.4 239.0 528.6 236.2 528.8 237.0 529.0 240.0 529.2 239.2 529.4 238.8 529.6 239.2 529.8 238.0 530.0 239.7 530.2 239.1 530.4 243.3 530.6 240.5 530.8 239.4 531.0 240.0 531.2 240.3 531.4 238.4 531.6 239.3 531.8 243.0 532.0 238.8 532.2 240.1 532.4 242.6 532.6 243.5 532.8 239.8 533.0 243.6 533.2 240.9 533.4 244.0 533.6 242.4 533.8 241.3 534.0 242.8 534.2 242.6 534.4 240.7 534.6 245.1 534.8 241.4 535.0 243.6 535.2 241.2 535.4 239.2 535.6 240.3 535.8 241.8 536.0 243.0 536.2 244.6 536.4 242.1 536.6 241.6 536.8 240.2 537.0 242.0 537.2 242.5 537.4 238.7 537.6 244.0 537.8 243.8 538.0 245.5 538.2 240.7 538.4 242.1 538.6 242.1 538.8 240.1 539.0 240.8 539.2 240.6 539.4 242.9 539.6 242.7 539.8 244.1 540.0 241.5 540.2 240.0 540.4 242.8 540.6 242.7 540.8 243.1 541.0 244.0 541.2 241.2 541.4 243.3 541.6 240.6 541.8 242.3 542.0 243.1 542.2 241.9 542.4 242.4 542.6 240.0 542.8 241.1 543.0 242.3 543.2 240.3 543.4 240.8 543.6 245.7 543.8 242.4 544.0 240.8 544.2 240.5 544.4 244.1 544.6 237.8 544.8 241.4 545.0 242.8 545.2 241.0 545.4 242.5 545.6 240.1 545.8 241.6 546.0 241.6 546.2 241.5 546.4 241.7 546.6 241.4 546.8 242.9 547.0 240.8 547.2 240.1 547.4 240.5 547.6 240.3 547.8 238.3 548.0 237.6 548.2 238.2 548.4 240.5 548.6 238.9 548.8 239.1 549.0 243.8 549.2 240.9 549.4 238.7 549.6 237.9 549.8 240.6 550.0 237.2 550.2 240.0 550.4 238.8 550.6 239.9 550.8 236.5 551.0 238.8 551.2 234.6 551.4 237.0 551.6 238.8 551.8 238.3 552.0 234.5 552.2 238.3 552.4 238.1 552.6 237.4 552.8 236.5 553.0 237.4 553.2 237.1 553.4 239.6 553.6 239.1 553.8 240.2 554.0 239.9 554.2 237.2 554.4 239.5 554.6 242.7 554.8 238.1 555.0 240.4 555.2 239.0 555.4 239.0 555.6 240.8 555.8 242.1 556.0 242.0 556.2 241.7 556.4 242.6 556.6 238.8 556.8 242.6 557.0 242.1 557.2 241.3 557.4 241.6 557.6 240.4 557.8 243.5 558.0 240.7 558.2 239.7 558.4 241.9 558.6 241.1 558.8 241.9 559.0 244.3 559.2 241.8 559.4 242.2 559.6 245.5 559.8 240.0 560.0 242.7 560.2 243.9 560.4 244.4 560.6 245.5 560.8 241.2 561.0 243.1 561.2 242.1 561.4 241.5 561.6 241.1 561.8 240.0 562.0 242.7 562.2 243.4 562.4 240.6 562.6 243.4 562.8 241.4 563.0 240.7 563.2 238.3 563.4 243.9 563.6 243.4 563.8 241.8 564.0 241.7 564.2 240.3 564.4 243.1 564.6 242.2 564.8 243.1 565.0 242.6 565.2 240.2 565.4 240.0 565.6 243.0 565.8 239.8 566.0 242.8 566.2 243.7 566.4 240.4 566.6 243.4 566.8 242.5 567.0 243.2 567.2 241.5 567.4 242.4 567.6 243.1 567.8 245.2 568.0 243.6 568.2 243.2 568.4 240.5 568.6 243.0 568.8 241.5 569.0 242.4 569.2 242.9 569.4 244.0 569.6 243.4 569.8 242.8 570.0 242.4 570.2 244.6 570.4 241.2 570.6 242.6 570.8 244.6 571.0 242.3 571.2 243.8 571.4 243.9 571.6 245.6 571.8 244.3 572.0 240.1 572.2 242.6 572.4 243.0 572.6 243.8 572.8 243.2 573.0 245.4 573.2 244.2 573.4 240.8 573.6 241.6 573.8 239.5 574.0 245.2 574.2 242.4 574.4 242.3 574.6 240.2 574.8 241.9 575.0 243.2 575.2 241.9 575.4 241.9 575.6 241.6 575.8 245.5 576.0 241.7 576.2 240.3 576.4 241.7 576.6 241.9 576.8 242.3 577.0 242.1 577.2 240.8 577.4 242.2 577.6 243.0 577.8 240.3 578.0 245.5 578.2 245.0 578.4 239.7 578.6 241.9 578.8 244.0 579.0 244.5 579.2 245.2 579.4 239.7 579.6 240.8 579.8 241.7 580.0 243.3 580.2 240.8 580.4 243.1 580.6 243.2 580.8 243.6 581.0 240.5 581.2 242.8 581.4 242.6 581.6 241.9 581.8 244.5 582.0 242.1 582.2 244.8 582.4 241.7 582.6 245.2 582.8 245.1 583.0 241.3 583.2 243.1 583.4 243.1 583.6 241.1 583.8 243.8 584.0 243.5 584.2 241.3 584.4 242.8 584.6 244.0 584.8 242.4 585.0 241.6 585.2 245.2 585.4 241.2 585.6 243.2 585.8 244.4 586.0 243.9 586.2 239.9 586.4 242.2 586.6 242.5 586.8 242.4 587.0 243.7 587.2 243.6 587.4 243.0 587.6 243.2 587.8 244.3 588.0 244.7 588.2 239.9 588.4 246.1 588.6 242.0 588.8 244.0 589.0 240.4 589.2 242.1 589.4 240.9 589.6 244.5 589.8 244.2 590.0 242.9 590.2 242.6 590.4 243.5 590.6 241.4 590.8 242.0 591.0 241.7 591.2 244.1 591.4 242.9 591.6 241.0 591.8 243.4 592.0 243.7 592.2 245.0 592.4 242.1 592.6 243.5 592.8 246.1 593.0 242.4 593.2 242.4 593.4 243.7 593.6 242.2 593.8 242.9 594.0 242.2 594.2 241.7 594.4 244.3 594.6 242.4 594.8 241.4 595.0 242.5 595.2 242.7 595.4 243.4 595.6 244.4 595.8 245.6 596.0 241.1 596.2 242.6 596.4 240.2 596.6 243.3 596.8 243.7 597.0 241.9" stroke="#3c3c3c" stroke-width="1.6" fill="none" stroke-linejoin="round"/>
<path d="M61.0 285.9L61.2 286.6 61.4 289.4 61.6 287.9 61.8 284.5 62.0 286.9 62.2 286.0 62.4 287.2 62.6 284.5 62.8 287.3 63.0 287.3 63.2 289.3 63.4 287.5 63.6 287.8 63.8 284.8 64.0 290.4 64.2 284.1 64.4 288.7 64.6 286.5 64.8 285.7 65.0 286.1 65.2 286.0 65.4 287.6 65.6 286.9 65.8 289.3 66.0 284.3 66.2 287.1 66.4 285.8 66.6 288.3 66.8 283.9 67.0 286.6 67.2 287.5 67.4 284.9 67.6 288.6 67.8 287.4 68.0 288.7 68.2 288.6 68.4 285.7 68.6 286.0 68.8 286.9 69.0 288.3 69.2 288.5 69.4 286.2 69.6 286.3 69.8 286.0 70.0 286.4 70.2 286.9 70.4 287.1 70.6 290.4 70.8 286.5 71.0 286.9 71.2 288.0 71.4 285.9 71.6 286.8 71.8 287.3 72.0 288.5 72.2 285.4 72.4 289.4 72.6 286.8 72.8 287.6 73.0 288.6 73.2 288.4 73.4 289.0 73.6 287.7 73.8 287.4 74.0 287.9 74.2 285.9 74.4 289.3 74.6 286.3 74.8 285.6 75.0 290.5 75.2 287.3 75.4 285.7 75.6 290.3 75.8 287.0 76.0 289.1 76.2 286.3 76.4 287.1 76.6 285.0 76.8 284.7 77.0 286.1 77.2 287.4 77.4 288.7 77.6 291.2 77.8 286.0 78.0 289.1 78.2 286.7 78.4 287.4 78.6 285.4 78.8 285.4 79.0 286.5 79.2 285.8 79.4 287.6 79.6 286.6 79.8 289.5 80.0 287.9 80.2 287.9 80.4 289.4 80.6 288.5 80.8 287.6 81.0 287.6 81.2 287.5 81.4 289.3 81.6 288.9 81.8 288.3 82.0 288.9 82.2 286.9 82.4 288.5 82.6 285.6 82.8 289.8 83.0 287.9 83.2 288.1 83.4 288.7 83.6 287.8 83.8 287.4 84.0 289.6 84.2 288.0 84.4 286.5 84.6 288.5 84.8 285.3 85.0 290.3 85.2 287.6 85.4 287.9 85.6 291.3 85.8 291.1 86.0 288.1 86.2 288.8 86.4 289.6 86.6 290.5 86.8 287.7 87.0 288.1 87.2 289.8 87.4 288.4 87.6 289.1 87.8 288.9 88.0 286.3 88.2 286.7 88.4 284.0 88.6 287.6 88.8 290.0 89.0 286.4 89.2 289.9 89.4 289.5 89.6 288.0 89.8 288.0 90.0 288.2 90.2 286.8 90.4 287.7 90.6 288.0 90.8 289.0 91.0 289.3 91.2 287.0 91.4 289.4 91.6 287.0 91.8 287.9 92.0 288.7 92.2 288.1 92.4 288.0 92.6 288.6 92.8 287.4 93.0 287.2 93.2 287.9 93.4 289.6 93.6 288.1 93.8 291.1 94.0 288.5 94.2 283.8 94.4 287.6 94.6 290.8 94.8 288.3 95.0 287.6 95.2 287.0 95.4 290.3 95.6 289.8 95.8 289.3 96.0 289.0 96.2 290.5 96.4 289.6 96.6 286.5 96.8 289.5 97.0 288.6 97.2 288.2 97.4 289.5 97.6 288.4 97.8 284.0 98.0 290.7 98.2 290.0 98.4 288.2 98.6 287.9 98.8 288.8 99.0 286.5 99.2 288.9 99.4 288.1 99.6 287.9 99.8 287.1 100.0 287.5 100.2 290.1 100.4 290.4 100.6 289.2 100.8 288.3 101.0 287.1 101.2 289.5 101.4 290.8 101.6 285.9 101.8 290.1 102.0 285.1 102.2 287.8 102.4 288.9 102.6 286.2 102.8 286.0 103.0 288.5 103.2 289.6 103.4 287.5 103.6 290.2 103.8 287.0 104.0 290.8 104.2 288.4 104.4 288.5 104.6 289.1 104.8 288.6 105.0 290.9 105.2 291.4 105.4 288.9 105.6 287.8 105.8 286.3 106.0 286.9 106.2 288.0 106.4 287.9 106.6 287.9 106.8 288.0 107.0 288.7 107.2 285.9 107.4 286.4 107.6 289.6 107.8 289.2 108.0 287.1 108.2 289.8 108.4 286.9 108.6 287.5 108.8 285.1 109.0 289.1 109.2 287.8 109.4 289.4 109.6 288.9 109.8 287.9 110.0 288.0 110.2 289.5 110.4 287.5 110.6 287.5 110.8 287.8 111.0 288.8 111.2 289.0 111.4 290.4 111.6 287.4 111.8 289.4 112.0 286.5 112.2 288.4 112.4 287.6 112.6 290.0 112.8 288.3 113.0 286.7 113.2 288.2 113.4 287.8 113.6 286.8 113.8 286.8 114.0 285.8 114.2 291.3 114.4 287.3 114.6 288.6 114.8 285.3 115.0 285.4 115.2 286.8 115.4 286.7 115.6 288.1 115.8 285.4 116.0 287.7 116.2 289.1 116.4 285.4 116.6 288.1 116.8 285.3 117.0 287.2 117.2 287.2 117.4 289.3 117.6 285.6 117.8 286.8 118.0 288.1 118.2 284.8 118.4 286.5 118.6 285.2 118.8 285.4 119.0 287.4 119.2 287.4 119.4 290.2 119.6 288.4 119.8 288.2 120.0 286.0 120.2 285.8 120.4 286.4 120.6 282.7 120.8 288.6 121.0 285.1 121.2 284.4 121.4 285.3 121.6 287.3 121.8 287.8 122.0 285.3 122.2 286.5 122.4 285.7 122.6 284.3 122.8 286.0 123.0 285.8 123.2 283.4 123.4 287.3 123.6 283.3 123.8 285.9 124.0 284.0 124.2 284.3 124.4 284.4 124.6 286.5 124.8 283.5 125.0 285.1 125.2 287.7 125.4 284.3 125.6 285.2 125.8 286.3 126.0 284.3 126.2 285.9 126.4 284.2 126.6 286.2 126.8 285.2 127.0 283.7 127.2 287.1 127.4 284.9 127.6 284.5 127.8 283.5 128.0 284.2 128.2 284.7 128.4 285.1 128.6 286.4 128.8 282.7 129.0 284.2 129.2 286.4 129.4 284.9 129.6 285.2 129.8 286.9 130.0 285.0 130.2 285.2 130.4 284.4 130.6 287.0 130.8 285.9 131.0 283.2 131.2 285.1 131.4 282.5 131.6 285.8 131.8 285.2 132.0 283.9 132.2 283.5 132.4 281.3 132.6 285.1 132.8 283.8 133.0 283.4 133.2 285.0 133.4 282.8 133.6 282.9 133.8 282.7 134.0 281.7 134.2 287.3 134.4 283.3 134.6 283.1 134.8 284.9 135.0 278.8 135.2 283.4 135.4 283.5 135.6 281.9 135.8 284.0 136.0 280.3 136.2 283.3 136.4 284.5 136.6 279.8 136.8 280.9 137.0 282.8 137.2 283.0 137.4 282.0 137.6 283.4 137.8 283.2 138.0 280.7 138.2 282.6 138.4 280.8 138.6 279.6 138.8 279.1 139.0 284.2 139.2 282.5 139.4 285.6 139.6 280.5 139.8 282.1 140.0 283.2 140.2 282.5 140.4 283.4 140.6 282.9 140.8 281.8 141.0 279.2 141.2 281.3 141.4 285.3 141.6 283.8 141.8 284.8 142.0 281.8 142.2 282.4 142.4 281.4 142.6 283.3 142.8 282.8 143.0 283.4 143.2 285.4 143.4 281.5 143.6 283.8 143.8 280.6 144.0 284.4 144.2 282.1 144.4 282.6 144.6 282.9 144.8 285.2 145.0 282.7 145.2 282.0 145.4 281.0 145.6 283.2 145.8 281.5 146.0 282.0 146.2 282.7 146.4 283.7 146.6 281.7 146.8 283.7 147.0 285.4 147.2 280.5 147.4 284.8 147.6 286.0 147.8 281.9 148.0 283.7 148.2 280.7 148.4 283.2 148.6 282.2 148.8 283.2 149.0 281.4 149.2 281.5 149.4 282.1 149.6 281.7 149.8 281.8 150.0 282.4 150.2 281.0 150.4 282.5 150.6 283.4 150.8 279.2 151.0 283.0 151.2 281.6 151.4 281.0 151.6 280.7 151.8 281.4 152.0 281.6 152.2 283.2 152.4 280.8 152.6 284.2 152.8 281.4 153.0 283.7 153.2 284.3 153.4 280.8 153.6 284.3 153.8 286.0 154.0 282.0 154.2 283.6 154.4 282.5 154.6 282.9 154.8 282.5 155.0 282.0 155.2 283.9 155.4 284.1 155.6 282.8 155.8 285.1 156.0 284.5 156.2 283.9 156.4 281.8 156.6 285.7 156.8 284.8 157.0 279.6 157.2 281.2 157.4 282.1 157.6 284.3 157.8 284.7 158.0 282.4 158.2 283.2 158.4 283.9 158.6 281.0 158.8 283.8 159.0 282.4 159.2 283.2 159.4 282.8 159.6 281.1 159.8 281.4 160.0 282.9 160.2 283.1 160.4 282.5 160.6 284.5 160.8 282.3 161.0 281.0 161.2 282.4 161.4 282.6 161.6 282.7 161.8 284.6 162.0 283.6 162.2 284.4 162.4 283.8 162.6 282.6 162.8 284.4 163.0 282.5 163.2 283.2 163.4 281.4 163.6 283.0 163.8 282.4 164.0 283.4 164.2 285.6 164.4 286.4 164.6 284.4 164.8 282.8 165.0 284.1 165.2 283.2 165.4 281.9 165.6 282.8 165.8 282.5 166.0 281.9 166.2 284.9 166.4 282.0 166.6 282.1 166.8 283.9 167.0 281.8 167.2 281.1 167.4 281.6 167.6 283.6 167.8 283.4 168.0 283.3 168.2 282.1 168.4 281.5 168.6 284.2 168.8 280.7 169.0 282.5 169.2 280.8 169.4 282.2 169.6 282.6 169.8 284.7 170.0 278.5 170.2 284.9 170.4 281.5 170.6 283.3 170.8 284.0 171.0 281.7 171.2 282.7 171.4 283.6 171.6 282.6 171.8 281.7 172.0 283.1 172.2 283.0 172.4 280.6 172.6 284.9 172.8 283.2 173.0 279.2 173.2 281.6 173.4 285.4 173.6 285.2 173.8 283.2 174.0 280.3 174.2 282.4 174.4 284.4 174.6 283.4 174.8 282.3 175.0 281.7 175.2 284.0 175.4 282.5 175.6 283.3 175.8 283.5 176.0 285.2 176.2 283.0 176.4 283.2 176.6 280.1 176.8 284.4 177.0 284.1 177.2 282.7 177.4 279.3 177.6 281.9 177.8 282.8 178.0 285.9 178.2 283.6 178.4 283.9 178.6 283.9 178.8 284.7 179.0 281.0 179.2 281.4 179.4 280.9 179.6 282.2 179.8 282.1 180.0 282.8 180.2 281.1 180.4 282.7 180.6 281.3 180.8 285.8 181.0 281.8 181.2 286.4 181.4 285.0 181.6 280.7 181.8 283.9 182.0 283.4 182.2 280.2 182.4 283.3 182.6 282.3 182.8 282.9 183.0 281.1 183.2 282.2 183.4 282.9 183.6 282.0 183.8 281.3 184.0 281.9 184.2 280.6 184.4 282.5 184.6 278.1 184.8 284.1 185.0 281.8 185.2 282.3 185.4 282.7 185.6 279.3 185.8 284.3 186.0 278.7 186.2 280.3 186.4 279.0 186.6 278.8 186.8 274.5 187.0 269.3 187.2 268.2 187.4 259.7 187.6 258.7 187.8 254.5 188.0 255.3 188.2 252.6 188.4 254.6 188.6 257.9 188.8 262.1 189.0 266.9 189.2 272.4 189.4 272.6 189.6 276.6 189.8 276.4 190.0 279.4 190.2 280.7 190.4 279.1 190.6 280.4 190.8 281.6 191.0 282.8 191.2 283.1 191.4 281.6 191.6 280.4 191.8 279.5 192.0 283.1 192.2 284.1 192.4 282.6 192.6 284.4 192.8 281.3 193.0 281.3 193.2 284.2 193.4 280.2 193.6 282.5 193.8 281.9 194.0 281.3 194.2 283.2 194.4 278.6 194.6 278.5 194.8 274.9 195.0 275.3 195.2 274.6 195.4 273.2 195.6 271.8 195.8 271.0 196.0 268.2 196.2 265.3 196.4 268.2 196.6 268.9 196.8 267.5 197.0 269.4 197.2 274.9 197.4 275.4 197.6 277.1 197.8 277.9 198.0 278.4 198.2 278.5 198.4 280.9 198.6 280.4 198.8 280.5 199.0 281.5 199.2 281.7 199.4 283.3 199.6 280.7 199.8 286.0 200.0 280.8 200.2 281.7 200.4 283.8 200.6 281.1 200.8 281.7 201.0 282.5 201.2 278.0 201.4 281.7 201.6 281.0 201.8 282.0 202.0 283.2 202.2 283.3 202.4 284.6 202.6 284.5 202.8 283.8 203.0 282.2 203.2 283.8 203.4 280.6 203.6 281.9 203.8 284.2 204.0 283.1 204.2 279.7 204.4 280.8 204.6 283.0 204.8 282.4 205.0 283.0 205.2 278.5 205.4 279.1 205.6 280.5 205.8 279.2 206.0 280.4 206.2 280.2 206.4 280.5 206.6 279.4 206.8 280.2 207.0 280.1 207.2 278.8 207.4 276.2 207.6 279.5 207.8 277.2 208.0 276.8 208.2 275.6 208.4 272.0 208.6 274.1 208.8 270.9 209.0 268.5 209.2 270.5 209.4 266.0 209.6 264.4 209.8 262.5 210.0 260.5 210.2 251.8 210.4 249.6 210.6 247.6 210.8 241.1 211.0 232.6 211.2 233.2 211.4 228.9 211.6 225.6 211.8 221.2 212.0 217.4 212.2 216.6 212.4 215.5 212.6 215.3 212.8 217.9 213.0 220.3 213.2 221.1 213.4 227.3 213.6 230.4 213.8 233.6 214.0 231.4 214.2 238.7 214.4 240.9 214.6 241.8 214.8 246.0 215.0 244.2 215.2 249.2 215.4 248.4 215.6 247.0 215.8 249.5 216.0 247.3 216.2 246.1 216.4 242.7 216.6 244.7 216.8 245.7 217.0 245.5 217.2 242.7 217.4 248.0 217.6 249.7 217.8 250.0 218.0 249.4 218.2 248.7 218.4 250.4 218.6 251.4 218.8 253.0 219.0 253.8 219.2 252.2 219.4 251.5 219.6 254.3 219.8 254.2 220.0 259.8 220.2 257.7 220.4 262.2 220.6 264.7 220.8 263.8 221.0 268.5 221.2 268.4 221.4 268.9 221.6 269.9 221.8 272.7 222.0 275.2 222.2 271.7 222.4 276.3 222.6 276.0 222.8 275.8 223.0 277.4 223.2 278.2 223.4 278.7 223.6 280.6 223.8 278.5 224.0 283.3 224.2 282.2 224.4 280.4 224.6 278.8 224.8 282.0 225.0 281.8 225.2 283.9 225.4 284.2 225.6 286.3 225.8 283.5 226.0 285.2 226.2 283.6 226.4 283.9 226.6 287.0 226.8 284.7 227.0 285.0 227.2 284.8 227.4 286.0 227.6 286.6 227.8 285.6 228.0 284.2 228.2 286.6 228.4 285.0 228.6 285.8 228.8 286.8 229.0 286.9 229.2 283.1 229.4 289.3 229.6 288.0 229.8 289.9 230.0 290.8 230.2 285.6 230.4 286.3 230.6 287.5 230.8 288.6 231.0 286.5 231.2 286.8 231.4 288.9 231.6 286.0 231.8 287.7 232.0 289.1 232.2 287.1 232.4 288.7 232.6 287.3 232.8 285.1 233.0 286.7 233.2 287.3 233.4 287.1 233.6 287.7 233.8 288.2 234.0 288.1 234.2 288.0 234.4 287.1 234.6 287.4 234.8 287.2 235.0 286.9 235.2 289.8 235.4 284.9 235.6 288.2 235.8 285.3 236.0 286.9 236.2 289.0 236.4 287.4 236.6 290.0 236.8 286.4 237.0 287.4 237.2 286.9 237.4 287.9 237.6 287.4 237.8 287.3 238.0 288.0 238.2 289.6 238.4 288.2 238.6 288.0 238.8 287.5 239.0 286.9 239.2 285.8 239.4 286.4 239.6 288.0 239.8 285.1 240.0 288.9 240.2 287.3 240.4 286.6 240.6 287.2 240.8 289.0 241.0 288.5 241.2 288.4 241.4 290.7 241.6 291.6 241.8 286.1 242.0 289.4 242.2 287.0 242.4 286.1 242.6 287.4 242.8 289.7 243.0 287.7 243.2 287.5 243.4 290.4 243.6 289.0 243.8 288.2 244.0 291.0 244.2 289.1 244.4 287.2 244.6 286.7 244.8 287.7 245.0 288.6 245.2 289.8 245.4 289.6 245.6 288.5 245.8 286.5 246.0 289.7 246.2 288.4 246.4 286.6 246.6 286.3 246.8 288.5 247.0 288.6 247.2 289.3 247.4 286.1 247.6 290.8 247.8 285.1 248.0 287.7 248.2 289.7 248.4 289.1 248.6 285.9 248.8 288.1 249.0 288.7 249.2 287.6 249.4 284.4 249.6 287.7 249.8 281.8 250.0 283.1 250.2 280.0 250.4 279.2 250.6 277.4 250.8 276.6 251.0 271.7 251.2 271.8 251.4 271.5 251.6 268.1 251.8 267.7 252.0 266.8 252.2 264.7 252.4 265.0 252.6 265.2 252.8 264.9 253.0 265.8 253.2 263.1 253.4 257.1 253.6 253.8 253.8 249.3 254.0 243.7 254.2 246.1 254.4 242.8 254.6 238.4 254.8 242.3 255.0 248.2 255.2 248.9 255.4 252.9 255.6 256.6 255.8 258.9 256.0 261.5 256.2 264.5 256.4 267.5 256.6 267.5 256.8 268.6 257.0 269.1 257.2 265.7 257.4 264.0 257.6 260.0 257.8 256.7 258.0 260.8 258.2 258.4 258.4 260.0 258.6 259.5 258.8 260.2 259.0 267.9 259.2 266.0 259.4 272.3 259.6 274.8 259.8 278.7 260.0 282.0 260.2 284.0 260.4 281.1 260.6 287.1 260.8 283.7 261.0 288.4 261.2 287.3 261.4 286.7 261.6 288.0 261.8 287.1 262.0 289.3 262.2 291.0 262.4 290.9 262.6 289.9 262.8 291.7 263.0 290.9 263.2 293.5 263.4 291.2 263.6 289.6 263.8 290.1 264.0 289.5 264.2 290.3 264.4 290.6 264.6 291.9 264.8 292.1 265.0 291.1 265.2 291.7 265.4 290.0 265.6 290.4 265.8 287.5 266.0 290.1 266.2 290.6 266.4 295.3 266.6 289.4 266.8 291.6 267.0 291.0 267.2 289.2 267.4 292.0 267.6 291.7 267.8 289.5 268.0 288.2 268.2 291.7 268.4 289.7 268.6 292.9 268.8 291.5 269.0 292.8 269.2 291.5 269.4 294.4 269.6 293.1 269.8 294.5 270.0 292.4 270.2 290.7 270.4 290.1 270.6 291.5 270.8 292.8 271.0 291.4 271.2 296.1 271.4 292.3 271.6 293.2 271.8 292.6 272.0 290.6 272.2 294.2 272.4 293.6 272.6 294.0 272.8 291.3 273.0 292.7 273.2 292.7 273.4 294.6 273.6 290.7 273.8 293.9 274.0 294.8 274.2 292.3 274.4 291.7 274.6 295.0 274.8 293.4 275.0 294.8 275.2 294.2 275.4 294.7 275.6 292.8 275.8 289.9 276.0 294.1 276.2 292.2 276.4 294.2 276.6 292.5 276.8 295.8 277.0 292.9 277.2 294.6 277.4 295.1 277.6 293.3 277.8 293.9 278.0 293.4 278.2 292.0 278.4 295.8 278.6 292.1 278.8 291.1 279.0 292.8 279.2 293.8 279.4 293.7 279.6 293.1 279.8 292.9 280.0 290.3 280.2 294.6 280.4 296.3 280.6 292.5 280.8 290.8 281.0 294.7 281.2 293.2 281.4 287.3 281.6 292.2 281.8 291.0 282.0 291.3 282.2 296.0 282.4 294.2 282.6 292.2 282.8 292.2 283.0 294.3 283.2 289.8 283.4 292.2 283.6 289.6 283.8 291.5 284.0 290.1 284.2 288.2 284.4 290.6 284.6 289.5 284.8 291.3 285.0 287.7 285.2 288.6 285.4 287.4 285.6 290.6 285.8 287.9 286.0 289.4 286.2 291.9 286.4 291.2 286.6 291.3 286.8 291.7 287.0 292.3 287.2 293.2 287.4 292.1 287.6 289.8 287.8 295.2 288.0 291.8 288.2 296.5 288.4 294.2 288.6 298.8 288.8 295.8 289.0 294.8 289.2 295.6 289.4 292.0 289.6 294.5 289.8 293.7 290.0 294.3 290.2 291.1 290.4 290.8 290.6 295.3 290.8 294.2 291.0 293.4 291.2 293.8 291.4 292.8 291.6 292.9 291.8 294.6 292.0 292.9 292.2 294.2 292.4 291.7 292.6 289.7 292.8 291.1 293.0 291.6 293.2 289.6 293.4 290.4 293.6 289.7 293.8 291.5 294.0 290.9 294.2 290.8 294.4 287.5 294.6 288.8 294.8 290.0 295.0 287.9 295.2 287.3 295.4 286.1 295.6 288.6 295.8 287.6 296.0 289.1 296.2 287.5 296.4 291.3 296.6 288.4 296.8 287.0 297.0 289.7 297.2 290.6 297.4 292.4 297.6 290.1 297.8 290.5 298.0 291.4 298.2 291.6 298.4 289.4 298.6 294.2 298.8 295.3 299.0 292.5 299.2 292.4 299.4 294.0 299.6 293.1 299.8 295.8 300.0 293.8 300.2 295.8 300.4 293.0 300.6 292.9 300.8 292.7 301.0 293.0 301.2 295.9 301.4 296.6 301.6 295.5 301.8 295.7 302.0 291.9 302.2 297.1 302.4 293.5 302.6 297.4 302.8 299.1 303.0 295.5 303.2 296.3 303.4 296.3 303.6 293.3 303.8 293.5 304.0 294.1 304.2 295.3 304.4 296.2 304.6 294.9 304.8 296.2 305.0 293.4 305.2 291.7 305.4 293.4 305.6 292.8 305.8 290.0 306.0 293.0 306.2 289.0 306.4 288.4 306.6 288.8 306.8 285.6 307.0 287.0 307.2 285.4 307.4 284.3 307.6 282.5 307.8 280.8 308.0 279.6 308.2 280.8 308.4 282.3 308.6 281.5 308.8 281.3 309.0 282.9 309.2 284.3 309.4 281.3 309.6 284.2 309.8 287.1 310.0 285.1 310.2 286.2 310.4 288.6 310.6 287.8 310.8 290.3 311.0 288.2 311.2 289.7 311.4 292.6 311.6 290.4 311.8 286.4 312.0 286.9 312.2 287.0 312.4 288.7 312.6 287.0 312.8 290.5 313.0 292.9 313.2 293.3 313.4 290.4 313.6 291.8 313.8 292.5 314.0 292.3 314.2 296.7 314.4 293.5 314.6 293.3 314.8 295.9 315.0 296.2 315.2 298.2 315.4 298.4 315.6 295.9 315.8 293.1 316.0 297.5 316.2 297.7 316.4 299.3 316.6 294.2 316.8 294.8 317.0 299.1 317.2 299.2 317.4 298.7 317.6 296.7 317.8 298.8 318.0 295.9 318.2 294.9 318.4 296.7 318.6 297.0 318.8 298.1 319.0 298.5 319.2 294.2 319.4 297.3 319.6 297.6 319.8 294.9 320.0 296.5 320.2 297.0 320.4 297.6 320.6 295.5 320.8 295.9 321.0 295.1 321.2 297.3 321.4 296.2 321.6 295.8 321.8 297.6 322.0 296.2 322.2 294.4 322.4 297.7 322.6 297.1 322.8 295.9 323.0 293.0 323.2 295.6 323.4 292.1 323.6 289.0 323.8 290.5 324.0 292.1 324.2 287.2 324.4 287.4 324.6 287.2 324.8 284.2 325.0 282.6 325.2 282.7 325.4 283.5 325.6 282.3 325.8 284.5 326.0 286.0 326.2 285.9 326.4 289.0 326.6 290.2 326.8 290.2 327.0 291.5 327.2 293.0 327.4 293.4 327.6 294.0 327.8 293.2 328.0 295.2 328.2 296.3 328.4 296.2 328.6 293.9 328.8 295.9 329.0 295.8 329.2 293.4 329.4 295.5 329.6 294.3 329.8 294.1 330.0 295.1 330.2 294.6 330.4 291.7 330.6 295.7 330.8 294.0 331.0 295.8 331.2 297.3 331.4 296.2 331.6 296.1 331.8 297.2 332.0 297.9 332.2 296.1 332.4 296.5 332.6 298.3 332.8 300.0 333.0 297.6 333.2 298.9 333.4 296.5 333.6 297.5 333.8 297.5 334.0 295.4 334.2 297.2 334.4 296.8 334.6 293.1 334.8 296.6 335.0 297.0 335.2 296.8 335.4 296.9 335.6 294.7 335.8 295.3 336.0 296.1 336.2 295.3 336.4 296.0 336.6 298.7 336.8 295.8 337.0 296.8 337.2 300.2 337.4 297.5 337.6 296.3 337.8 298.4 338.0 298.4 338.2 298.4 338.4 295.9 338.6 298.8 338.8 299.0 339.0 301.6 339.2 299.6 339.4 298.0 339.6 299.2 339.8 299.7 340.0 298.5 340.2 298.7 340.4 300.8 340.6 299.5 340.8 299.6 341.0 297.4 341.2 299.5 341.4 296.0 341.6 300.7 341.8 298.2 342.0 299.8 342.2 301.0 342.4 297.3 342.6 300.6 342.8 299.3 343.0 300.7 343.2 298.4 343.4 297.9 343.6 300.9 343.8 299.6 344.0 299.0 344.2 297.3 344.4 300.9 344.6 298.5 344.8 298.7 345.0 298.0 345.2 299.0 345.4 299.9 345.6 298.9 345.8 298.9 346.0 298.2 346.2 301.2 346.4 301.4 346.6 298.6 346.8 297.7 347.0 299.4 347.2 296.6 347.4 299.3 347.6 299.4 347.8 299.2 348.0 301.3 348.2 301.7 348.4 299.6 348.6 298.5 348.8 300.5 349.0 300.7 349.2 297.2 349.4 297.9 349.6 298.6 349.8 296.5 350.0 297.3 350.2 301.4 350.4 297.1 350.6 300.2 350.8 297.8 351.0 300.5 351.2 299.5 351.4 300.3 351.6 296.9 351.8 299.4 352.0 298.2 352.2 300.1 352.4 300.0 352.6 299.2 352.8 298.8 353.0 299.0 353.2 299.4 353.4 298.2 353.6 298.3 353.8 298.0 354.0 297.4 354.2 300.5 354.4 297.0 354.6 300.9 354.8 300.0 355.0 296.4 355.2 296.3 355.4 299.0 355.6 297.4 355.8 299.2 356.0 300.3 356.2 299.5 356.4 298.6 356.6 298.7 356.8 301.1 357.0 298.4 357.2 301.5 357.4 301.9 357.6 298.4 357.8 299.4 358.0 301.4 358.2 297.9 358.4 299.5 358.6 300.4 358.8 297.3 359.0 299.4 359.2 299.0 359.4 298.0 359.6 301.0 359.8 298.5 360.0 302.0 360.2 299.7 360.4 297.5 360.6 298.9 360.8 297.3 361.0 299.6 361.2 299.2 361.4 296.4 361.6 297.4 361.8 298.6 362.0 297.9 362.2 296.2 362.4 299.0 362.6 299.3 362.8 294.9 363.0 299.0 363.2 293.7 363.4 296.2 363.6 295.2 363.8 295.2 364.0 296.0 364.2 293.8 364.4 295.2 364.6 297.6 364.8 295.6 365.0 296.9 365.2 295.8 365.4 292.0 365.6 296.9 365.8 295.5 366.0 295.1 366.2 293.6 366.4 293.4 366.6 292.7 366.8 294.1 367.0 294.6 367.2 294.3 367.4 294.5 367.6 292.1 367.8 294.0 368.0 294.2 368.2 296.0 368.4 295.1 368.6 295.3 368.8 296.3 369.0 295.7 369.2 296.2 369.4 298.4 369.6 296.8 369.8 295.9 370.0 298.3 370.2 298.7 370.4 298.6 370.6 295.9 370.8 299.4 371.0 298.2 371.2 298.4 371.4 298.4 371.6 299.1 371.8 299.2 372.0 300.7 372.2 299.0 372.4 298.6 372.6 299.7 372.8 298.6 373.0 300.4 373.2 299.1 373.4 299.9 373.6 298.1 373.8 300.3 374.0 299.8 374.2 297.7 374.4 298.4 374.6 299.1 374.8 297.1 375.0 297.4 375.2 299.7 375.4 299.7 375.6 300.9 375.8 297.1 376.0 298.5 376.2 296.1 376.4 301.5 376.6 297.1 376.8 298.6 377.0 301.8 377.2 301.1 377.4 297.7 377.6 302.3 377.8 299.6 378.0 297.5 378.2 299.4 378.4 299.9 378.6 299.9 378.8 295.9 379.0 301.6 379.2 296.6 379.4 298.6 379.6 301.0 379.8 299.4 380.0 298.8 380.2 297.9 380.4 299.6 380.6 300.7 380.8 297.9 381.0 299.2 381.2 298.0 381.4 297.9 381.6 295.4 381.8 298.6 382.0 299.5 382.2 297.8 382.4 299.4 382.6 298.0 382.8 299.4 383.0 297.7 383.2 296.8 383.4 296.5 383.6 297.2 383.8 297.3 384.0 295.6 384.2 296.4 384.4 294.5 384.6 294.4 384.8 297.2 385.0 296.7 385.2 297.5 385.4 296.4 385.6 296.6 385.8 298.9 386.0 295.2 386.2 296.9 386.4 298.9 386.6 299.7 386.8 297.7 387.0 296.9 387.2 295.7 387.4 297.2 387.6 297.8 387.8 297.7 388.0 298.6 388.2 298.8 388.4 297.4 388.6 296.9 388.8 297.9 389.0 299.1 389.2 300.9 389.4 296.3 389.6 300.2 389.8 298.3 390.0 300.4 390.2 301.5 390.4 299.6 390.6 297.3 390.8 298.3 391.0 299.5 391.2 298.5 391.4 298.9 391.6 297.9 391.8 298.7 392.0 298.1 392.2 300.3 392.4 299.5 392.6 300.1 392.8 296.7 393.0 298.4 393.2 298.0 393.4 298.4 393.6 297.8 393.8 298.0 394.0 301.3 394.2 298.7 394.4 297.2 394.6 298.6 394.8 302.3 395.0 300.1 395.2 297.7 395.4 298.7 395.6 298.9 395.8 299.1 396.0 296.4 396.2 297.7 396.4 298.8 396.6 296.5 396.8 298.7 397.0 299.1 397.2 300.1 397.4 300.5 397.6 298.7 397.8 299.3 398.0 299.9 398.2 300.3 398.4 299.0 398.6 297.7 398.8 299.6 399.0 300.0 399.2 298.9 399.4 299.4 399.6 300.8 399.8 297.7 400.0 297.4 400.2 296.7 400.4 298.7 400.6 299.4 400.8 297.2 401.0 300.3 401.2 296.8 401.4 297.8 401.6 297.1 401.8 299.1 402.0 296.1 402.2 299.2 402.4 296.4 402.6 294.6 402.8 295.5 403.0 296.0 403.2 298.6 403.4 295.4 403.6 296.1 403.8 299.0 404.0 296.3 404.2 295.2 404.4 295.1 404.6 294.1 404.8 296.9 405.0 298.3 405.2 296.2 405.4 295.3 405.6 297.4 405.8 297.1 406.0 297.0 406.2 298.0 406.4 297.5 406.6 297.1 406.8 299.1 407.0 295.1 407.2 296.2 407.4 297.5 407.6 296.0 407.8 300.2 408.0 294.9 408.2 299.0 408.4 298.8 408.6 298.4 408.8 298.5 409.0 297.0 409.2 296.7 409.4 299.7 409.6 297.4 409.8 295.3 410.0 295.5 410.2 294.9 410.4 297.4 410.6 298.5 410.8 296.2 411.0 296.6 411.2 295.5 411.4 297.2 411.6 297.0 411.8 296.8 412.0 297.8 412.2 293.2 412.4 295.8 412.6 292.1 412.8 295.1 413.0 294.9 413.2 294.5 413.4 294.3 413.6 292.7 413.8 291.7 414.0 293.4 414.2 291.1 414.4 292.8 414.6 290.3 414.8 291.8 415.0 291.5 415.2 289.7 415.4 290.3 415.6 291.9 415.8 290.5 416.0 291.1 416.2 289.5 416.4 290.4 416.6 288.1 416.8 289.1 417.0 292.0 417.2 291.1 417.4 290.4 417.6 290.6 417.8 288.6 418.0 291.3 418.2 289.1 418.4 290.0 418.6 292.2 418.8 290.4 419.0 290.9 419.2 291.8 419.4 292.3 419.6 294.4 419.8 290.3 420.0 292.5 420.2 294.2 420.4 293.0 420.6 293.4 420.8 293.1 421.0 294.2 421.2 295.8 421.4 296.9 421.6 296.0 421.8 297.7 422.0 296.1 422.2 293.9 422.4 297.5 422.6 293.8 422.8 296.8 423.0 297.1 423.2 295.7 423.4 297.2 423.6 296.8 423.8 298.0 424.0 297.5 424.2 298.9 424.4 297.6 424.6 299.1 424.8 298.3 425.0 298.7 425.2 298.6 425.4 297.9 425.6 300.2 425.8 299.5 426.0 295.5 426.2 297.0 426.4 301.2 426.6 298.4 426.8 302.8 427.0 299.5 427.2 299.6 427.4 298.3 427.6 298.6 427.8 299.2 428.0 300.3 428.2 299.1 428.4 298.9 428.6 297.6 428.8 298.4 429.0 298.4 429.2 298.8 429.4 298.0 429.6 297.5 429.8 298.6 430.0 295.6 430.2 296.9 430.4 297.9 430.6 299.6 430.8 298.0 431.0 297.5 431.2 299.9 431.4 298.8 431.6 300.9 431.8 298.7 432.0 298.0 432.2 298.4 432.4 301.5 432.6 301.1 432.8 299.2 433.0 300.4 433.2 297.0 433.4 300.7 433.6 299.4 433.8 298.8 434.0 299.0 434.2 299.3 434.4 298.3 434.6 298.4 434.8 297.2 435.0 301.1 435.2 297.6 435.4 298.6 435.6 300.3 435.8 300.5 436.0 300.8 436.2 298.0 436.4 298.1 436.6 298.7 436.8 296.1 437.0 299.9 437.2 296.4 437.4 298.5 437.6 299.9 437.8 299.8 438.0 297.9 438.2 299.8 438.4 300.0 438.6 296.0 438.8 298.0 439.0 299.2 439.2 298.8 439.4 297.8 439.6 297.8 439.8 301.1 440.0 297.2 440.2 299.0 440.4 295.6 440.6 297.8 440.8 298.3 441.0 296.0 441.2 295.5 441.4 298.7 441.6 295.5 441.8 296.9 442.0 293.2 442.2 297.3 442.4 291.8 442.6 293.0 442.8 293.2 443.0 293.7 443.2 293.8 443.4 295.6 443.6 296.2 443.8 295.8 444.0 294.3 444.2 293.4 444.4 290.3 444.6 293.3 444.8 292.8 445.0 294.7 445.2 292.7 445.4 293.2 445.6 293.6 445.8 295.9 446.0 295.5 446.2 294.2 446.4 293.5 446.6 295.4 446.8 295.6 447.0 296.0 447.2 297.1 447.4 298.2 447.6 298.5 447.8 296.6 448.0 296.6 448.2 299.9 448.4 297.5 448.6 298.9 448.8 298.1 449.0 298.4 449.2 300.1 449.4 297.4 449.6 299.2 449.8 298.2 450.0 297.1 450.2 296.5 450.4 296.2 450.6 298.4 450.8 297.9 451.0 295.0 451.2 296.5 451.4 293.0 451.6 295.4 451.8 297.9 452.0 293.0 452.2 294.8 452.4 293.3 452.6 294.0 452.8 292.2 453.0 293.8 453.2 290.1 453.4 293.0 453.6 292.9 453.8 293.3 454.0 296.4 454.2 292.1 454.4 293.0 454.6 292.3 454.8 295.2 455.0 294.8 455.2 293.5 455.4 296.8 455.6 296.2 455.8 298.1 456.0 297.5 456.2 296.8 456.4 295.9 456.6 294.2 456.8 296.7 457.0 299.3 457.2 297.6 457.4 296.9 457.6 298.6 457.8 299.4 458.0 302.5 458.2 297.2 458.4 298.2 458.6 297.1 458.8 297.7 459.0 300.1 459.2 298.7 459.4 296.7 459.6 300.7 459.8 301.3 460.0 299.8 460.2 297.2 460.4 297.0 460.6 300.3 460.8 296.9 461.0 297.4 461.2 296.0 461.4 300.6 461.6 296.8 461.8 297.3 462.0 296.3 462.2 296.2 462.4 295.2 462.6 298.3 462.8 295.5 463.0 298.4 463.2 294.3 463.4 296.7 463.6 297.2 463.8 294.1 464.0 296.0 464.2 294.8 464.4 294.1 464.6 295.1 464.8 293.1 465.0 295.5 465.2 293.8 465.4 297.2 465.6 298.6 465.8 298.6 466.0 295.8 466.2 296.9 466.4 300.1 466.6 299.4 466.8 298.6 467.0 294.9 467.2 297.7 467.4 301.5 467.6 299.2 467.8 298.0 468.0 298.9 468.2 302.4 468.4 300.9 468.6 297.3 468.8 297.6 469.0 299.4 469.2 301.3 469.4 298.4 469.6 298.7 469.8 295.8 470.0 298.7 470.2 300.5 470.4 300.5 470.6 297.5 470.8 300.8 471.0 298.5 471.2 297.6 471.4 300.5 471.6 297.3 471.8 299.0 472.0 298.4 472.2 299.5 472.4 300.1 472.6 299.1 472.8 298.5 473.0 299.0 473.2 296.2 473.4 299.6 473.6 302.8 473.8 300.4 474.0 301.6 474.2 299.9 474.4 299.9 474.6 300.6 474.8 300.9 475.0 300.9 475.2 298.7 475.4 300.0 475.6 297.8 475.8 301.5 476.0 300.0 476.2 299.6 476.4 298.2 476.6 300.7 476.8 301.5 477.0 300.8 477.2 301.7 477.4 298.9 477.6 301.5 477.8 300.1 478.0 296.2 478.2 300.5 478.4 298.7 478.6 299.9 478.8 299.2 479.0 298.9 479.2 301.7 479.4 299.4 479.6 300.5 479.8 301.2 480.0 299.6 480.2 298.4 480.4 300.3 480.6 300.1 480.8 298.9 481.0 300.4 481.2 302.1 481.4 301.7 481.6 302.6 481.8 302.3 482.0 300.6 482.2 300.3 482.4 298.7 482.6 302.0 482.8 299.4 483.0 301.1 483.2 302.7 483.4 300.4 483.6 298.0 483.8 298.6 484.0 299.6 484.2 302.0 484.4 299.5 484.6 299.7 484.8 298.2 485.0 300.2 485.2 299.7 485.4 300.6 485.6 297.9 485.8 300.0 486.0 296.7 486.2 297.6 486.4 297.5 486.6 297.7 486.8 298.2 487.0 293.8 487.2 296.7 487.4 295.8 487.6 294.0 487.8 295.0 488.0 295.7 488.2 293.8 488.4 293.3 488.6 294.6 488.8 292.0 489.0 294.3 489.2 293.0 489.4 292.8 489.6 292.8 489.8 293.7 490.0 290.7 490.2 293.6 490.4 290.7 490.6 292.8 490.8 293.4 491.0 293.1 491.2 291.6 491.4 291.9 491.6 292.6 491.8 294.6 492.0 295.5 492.2 296.5 492.4 293.9 492.6 297.1 492.8 298.6 493.0 297.7 493.2 297.9 493.4 299.5 493.6 300.9 493.8 301.1 494.0 301.4 494.2 297.5 494.4 301.8 494.6 299.3 494.8 301.2 495.0 299.2 495.2 300.8 495.4 299.5 495.6 300.0 495.8 303.4 496.0 298.8 496.2 302.1 496.4 300.8 496.6 299.1 496.8 302.7 497.0 300.9 497.2 300.0 497.4 301.4 497.6 299.7 497.8 303.4 498.0 298.7 498.2 300.2 498.4 298.0 498.6 301.4 498.8 302.2 499.0 302.4 499.2 303.3 499.4 301.0 499.6 300.4 499.8 302.5 500.0 300.2 500.2 301.6 500.4 300.4 500.6 300.1 500.8 301.1 501.0 302.8 501.2 302.6 501.4 301.4 501.6 297.3 501.8 301.3 502.0 301.8 502.2 302.1 502.4 300.2 502.6 302.8 502.8 301.8 503.0 298.5 503.2 302.4 503.4 303.8 503.6 301.8 503.8 300.2 504.0 304.1 504.2 302.9 504.4 298.7 504.6 303.0 504.8 302.0 505.0 301.8 505.2 298.8 505.4 298.9 505.6 301.7 505.8 304.3 506.0 301.7 506.2 301.6 506.4 300.5 506.6 300.9 506.8 303.0 507.0 300.3 507.2 304.2 507.4 302.2 507.6 301.9 507.8 301.2 508.0 300.3 508.2 301.0 508.4 299.2 508.6 301.5 508.8 298.6 509.0 304.7 509.2 301.3 509.4 299.1 509.6 301.8 509.8 301.5 510.0 300.5 510.2 301.7 510.4 300.2 510.6 301.2 510.8 301.1 511.0 302.1 511.2 300.5 511.4 301.8 511.6 297.2 511.8 303.0 512.0 301.7 512.2 302.2 512.4 301.1 512.6 302.8 512.8 301.4 513.0 301.8 513.2 301.6 513.4 300.7 513.6 300.1 513.8 302.3 514.0 302.5 514.2 301.5 514.4 303.4 514.6 301.8 514.8 302.3 515.0 303.2 515.2 302.7 515.4 301.3 515.6 300.0 515.8 300.5 516.0 300.1 516.2 302.8 516.4 296.3 516.6 304.6 516.8 300.3 517.0 303.3 517.2 302.1 517.4 302.5 517.6 299.7 517.8 303.2 518.0 301.6 518.2 302.6 518.4 300.3 518.6 301.7 518.8 300.7 519.0 302.2 519.2 302.7 519.4 301.4 519.6 302.4 519.8 302.5 520.0 301.6 520.2 301.3 520.4 298.8 520.6 303.3 520.8 302.0 521.0 301.3 521.2 302.0 521.4 300.9 521.6 301.2 521.8 302.4 522.0 299.4 522.2 301.1 522.4 301.9 522.6 299.2 522.8 299.9 523.0 303.3 523.2 304.6 523.4 301.8 523.6 302.2 523.8 299.9 524.0 303.1 524.2 300.9 524.4 301.0 524.6 301.4 524.8 299.8 525.0 299.5 525.2 300.4 525.4 298.7 525.6 299.3 525.8 296.2 526.0 298.4 526.2 300.5 526.4 301.3 526.6 300.5 526.8 298.2 527.0 299.5 527.2 297.9 527.4 297.6 527.6 300.6 527.8 298.6 528.0 298.7 528.2 299.4 528.4 300.6 528.6 299.5 528.8 299.0 529.0 299.9 529.2 299.4 529.4 299.2 529.6 296.5 529.8 298.7 530.0 299.9 530.2 298.7 530.4 303.2 530.6 304.0 530.8 303.2 531.0 299.5 531.2 301.7 531.4 301.7 531.6 301.8 531.8 299.0 532.0 302.9 532.2 304.1 532.4 302.9 532.6 304.9 532.8 301.4 533.0 303.0 533.2 303.9 533.4 300.7 533.6 302.0 533.8 301.1 534.0 303.5 534.2 300.6 534.4 302.8 534.6 301.6 534.8 303.7 535.0 301.6 535.2 302.2 535.4 302.8 535.6 301.3 535.8 301.8 536.0 302.1 536.2 301.8 536.4 302.9 536.6 301.4 536.8 302.6 537.0 302.1 537.2 301.6 537.4 300.9 537.6 299.7 537.8 301.4 538.0 303.3 538.2 301.9 538.4 304.7 538.6 301.0 538.8 301.9 539.0 300.1 539.2 304.1 539.4 300.4 539.6 303.1 539.8 302.8 540.0 306.3 540.2 304.4 540.4 303.6 540.6 302.7 540.8 305.2 541.0 301.9 541.2 300.7 541.4 303.8 541.6 302.4 541.8 301.5 542.0 303.0 542.2 303.3 542.4 300.2 542.6 304.0 542.8 305.5 543.0 302.0 543.2 300.3 543.4 302.9 543.6 302.4 543.8 303.7 544.0 303.9 544.2 302.4 544.4 304.8 544.6 299.7 544.8 301.5 545.0 302.8 545.2 303.1 545.4 302.4 545.6 303.2 545.8 300.5 546.0 299.0 546.2 303.6 546.4 304.4 546.6 302.3 546.8 300.6 547.0 301.2 547.2 303.1 547.4 302.4 547.6 304.0 547.8 304.4 548.0 303.7 548.2 301.4 548.4 303.2 548.6 302.3 548.8 301.7 549.0 301.6 549.2 301.0 549.4 299.5 549.6 301.4 549.8 299.6 550.0 300.6 550.2 301.7 550.4 301.6 550.6 297.5 550.8 299.2 551.0 298.5 551.2 300.4 551.4 298.9 551.6 301.4 551.8 299.3 552.0 300.7 552.2 298.6 552.4 299.0 552.6 299.7 552.8 300.9 553.0 297.3 553.2 300.5 553.4 298.4 553.6 300.9 553.8 298.2 554.0 300.3 554.2 302.9 554.4 303.4 554.6 299.9 554.8 304.0 555.0 301.0 555.2 301.8 555.4 302.6 555.6 302.1 555.8 302.6 556.0 302.4 556.2 303.5 556.4 302.7 556.6 301.8 556.8 301.0 557.0 301.0 557.2 302.5 557.4 303.7 557.6 303.2 557.8 302.3 558.0 303.4 558.2 302.0 558.4 303.0 558.6 303.5 558.8 302.3 559.0 304.9 559.2 304.6 559.4 302.5 559.6 303.9 559.8 303.3 560.0 303.5 560.2 303.5 560.4 305.0 560.6 303.5 560.8 303.5 561.0 304.5 561.2 304.4 561.4 305.7 561.6 302.0 561.8 304.2 562.0 300.5 562.2 303.3 562.4 301.3 562.6 301.3 562.8 303.1 563.0 301.7 563.2 302.8 563.4 299.3 563.6 305.3 563.8 299.4 564.0 302.3 564.2 305.8 564.4 301.3 564.6 305.8 564.8 305.0 565.0 303.2 565.2 302.8 565.4 302.9 565.6 303.8 565.8 304.8 566.0 305.3 566.2 300.3 566.4 304.7 566.6 304.3 566.8 301.6 567.0 304.8 567.2 304.8 567.4 304.8 567.6 303.4 567.8 304.6 568.0 305.3 568.2 302.5 568.4 302.8 568.6 302.6 568.8 305.2 569.0 303.5 569.2 302.4 569.4 302.0 569.6 301.7 569.8 303.9 570.0 304.8 570.2 305.4 570.4 302.1 570.6 302.1 570.8 302.2 571.0 302.3 571.2 301.3 571.4 305.8 571.6 304.3 571.8 302.8 572.0 299.8 572.2 305.6 572.4 304.7 572.6 303.8 572.8 304.6 573.0 302.6 573.2 304.5 573.4 302.8 573.6 304.3 573.8 303.4 574.0 301.7 574.2 302.0 574.4 305.2 574.6 305.1 574.8 303.4 575.0 302.6 575.2 303.0 575.4 304.2 575.6 301.6 575.8 305.1 576.0 302.5 576.2 302.0 576.4 303.7 576.6 306.5 576.8 302.7 577.0 303.2 577.2 302.0 577.4 304.1 577.6 304.1 577.8 303.7 578.0 303.2 578.2 304.3 578.4 304.9 578.6 303.1 578.8 303.4 579.0 302.8 579.2 303.0 579.4 305.6 579.6 302.3 579.8 304.1 580.0 305.3 580.2 303.1 580.4 304.7 580.6 304.9 580.8 301.7 581.0 305.3 581.2 302.3 581.4 304.0 581.6 301.6 581.8 301.4 582.0 303.5 582.2 306.2 582.4 307.6 582.6 307.9 582.8 305.9 583.0 305.7 583.2 305.1 583.4 304.9 583.6 303.4 583.8 303.3 584.0 304.6 584.2 304.7 584.4 303.1 584.6 302.2 584.8 302.9 585.0 309.0 585.2 303.0 585.4 306.2 585.6 305.9 585.8 305.7 586.0 303.2 586.2 307.1 586.4 304.5 586.6 303.2 586.8 303.0 587.0 303.9 587.2 307.3 587.4 302.2 587.6 303.1 587.8 304.1 588.0 304.9 588.2 302.5 588.4 302.7 588.6 303.3 588.8 305.1 589.0 303.9 589.2 303.8 589.4 304.5 589.6 304.3 589.8 305.6 590.0 303.1 590.2 304.2 590.4 303.2 590.6 305.3 590.8 305.4 591.0 303.9 591.2 306.0 591.4 304.0 591.6 306.3 591.8 303.7 592.0 303.6 592.2 302.1 592.4 302.8 592.6 303.7 592.8 301.1 593.0 304.3 593.2 305.6 593.4 305.1 593.6 304.6 593.8 305.3 594.0 303.5 594.2 303.6 594.4 305.6 594.6 304.1 594.8 305.8 595.0 303.6 595.2 305.4 595.4 306.2 595.6 304.3 595.8 306.9 596.0 306.7 596.2 300.8 596.4 308.4 596.6 302.0 596.8 308.1 597.0 303.1" stroke="#1c1c1c" stroke-width="1.6" fill="none" stroke-linejoin="round"/>
<path d="M61.0 347.6L61.2 346.8 61.4 348.4 61.6 349.4 61.8 350.5 62.0 349.0 62.2 348.0 62.4 347.6 62.6 349.9 62.8 351.3 63.0 349.2 63.2 347.0 63.4 347.4 63.6 351.2 63.8 349.2 64.0 346.3 64.2 348.7 64.4 347.1 64.6 347.9 64.8 348.1 65.0 347.8 65.2 349.7 65.4 348.8 65.6 348.0 65.8 349.5 66.0 350.1 66.2 346.4 66.4 348.5 66.6 347.4 66.8 348.7 67.0 347.0 67.2 349.0 67.4 348.9 67.6 348.5 67.8 347.4 68.0 348.4 68.2 347.3 68.4 346.9 68.6 349.3 68.8 347.3 69.0 350.7 69.2 350.1 69.4 346.0 69.6 349.4 69.8 347.3 70.0 349.0 70.2 349.1 70.4 346.0 70.6 348.7 70.8 348.6 71.0 350.5 71.2 347.3 71.4 350.1 71.6 347.4 71.8 348.5 72.0 347.8 72.2 351.2 72.4 349.9 72.6 352.7 72.8 350.0 73.0 350.3 73.2 350.3 73.4 348.2 73.6 349.0 73.8 351.1 74.0 348.5 74.2 349.4 74.4 349.1 74.6 350.0 74.8 348.6 75.0 348.9 75.2 349.5 75.4 349.3 75.6 347.8 75.8 350.5 76.0 347.2 76.2 347.3 76.4 347.2 76.6 350.6 76.8 348.6 77.0 347.7 77.2 347.5 77.4 349.8 77.6 347.6 77.8 347.3 78.0 350.1 78.2 347.4 78.4 348.7 78.6 349.2 78.8 348.5 79.0 349.1 79.2 351.2 79.4 348.4 79.6 347.3 79.8 346.5 80.0 348.9 80.2 348.7 80.4 349.6 80.6 348.5 80.8 348.5 81.0 348.2 81.2 348.5 81.4 349.5 81.6 348.7 81.8 349.4 82.0 352.1 82.2 350.0 82.4 346.9 82.6 351.9 82.8 349.8 83.0 347.9 83.2 350.7 83.4 349.3 83.6 348.4 83.8 348.4 84.0 347.8 84.2 349.4 84.4 350.9 84.6 348.9 84.8 350.0 85.0 352.2 85.2 347.5 85.4 349.7 85.6 348.9 85.8 347.8 86.0 347.8 86.2 349.4 86.4 350.0 86.6 348.6 86.8 349.5 87.0 350.5 87.2 349.8 87.4 350.7 87.6 350.1 87.8 350.1 88.0 352.2 88.2 350.4 88.4 349.6 88.6 350.5 88.8 348.1 89.0 348.9 89.2 350.6 89.4 350.4 89.6 351.8 89.8 349.5 90.0 347.3 90.2 352.4 90.4 351.1 90.6 347.9 90.8 351.5 91.0 349.5 91.2 346.8 91.4 348.9 91.6 348.7 91.8 351.9 92.0 348.3 92.2 349.1 92.4 349.1 92.6 349.0 92.8 348.2 93.0 349.9 93.2 351.2 93.4 350.5 93.6 348.2 93.8 347.8 94.0 349.7 94.2 348.5 94.4 348.6 94.6 347.1 94.8 352.5 95.0 351.0 95.2 348.1 95.4 350.9 95.6 351.6 95.8 345.9 96.0 348.7 96.2 348.9 96.4 350.5 96.6 349.3 96.8 349.1 97.0 349.4 97.2 352.2 97.4 352.7 97.6 348.6 97.8 348.0 98.0 353.4 98.2 347.9 98.4 348.5 98.6 349.4 98.8 350.1 99.0 350.9 99.2 349.9 99.4 348.0 99.6 350.0 99.8 349.6 100.0 352.1 100.2 349.2 100.4 347.2 100.6 347.6 100.8 351.4 101.0 348.4 101.2 346.0 101.4 348.3 101.6 349.1 101.8 350.9 102.0 347.6 102.2 350.1 102.4 350.3 102.6 348.0 102.8 348.8 103.0 351.7 103.2 351.6 103.4 350.3 103.6 349.5 103.8 350.7 104.0 348.8 104.2 348.8 104.4 347.7 104.6 348.9 104.8 348.8 105.0 353.1 105.2 348.6 105.4 350.8 105.6 350.9 105.8 348.6 106.0 350.6 106.2 345.6 106.4 349.0 106.6 350.1 106.8 345.2 107.0 347.0 107.2 350.3 107.4 348.4 107.6 347.1 107.8 348.2 108.0 347.9 108.2 349.8 108.4 349.4 108.6 348.2 108.8 347.7 109.0 348.6 109.2 350.6 109.4 349.1 109.6 349.6 109.8 348.4 110.0 346.6 110.2 347.5 110.4 349.5 110.6 348.6 110.8 347.1 111.0 346.0 111.2 348.5 111.4 347.8 111.6 347.8 111.8 347.8 112.0 348.7 112.2 348.7 112.4 349.6 112.6 349.5 112.8 350.1 113.0 349.3 113.2 347.5 113.4 347.9 113.6 348.7 113.8 347.5 114.0 348.7 114.2 349.6 114.4 346.6 114.6 345.2 114.8 349.6 115.0 347.8 115.2 348.8 115.4 345.7 115.6 350.2 115.8 348.7 116.0 347.4 116.2 347.0 116.4 347.7 116.6 347.2 116.8 347.0 117.0 345.7 117.2 349.3 117.4 347.3 117.6 347.4 117.8 347.4 118.0 343.7 118.2 348.0 118.4 346.7 118.6 346.7 118.8 347.2 119.0 345.6 119.2 348.3 119.4 346.0 119.6 345.6 119.8 345.7 120.0 347.2 120.2 348.0 120.4 346.0 120.6 344.5 120.8 348.4 121.0 345.1 121.2 348.5 121.4 346.6 121.6 345.6 121.8 345.7 122.0 347.3 122.2 347.9 122.4 346.2 122.6 347.9 122.8 349.6 123.0 346.1 123.2 344.7 123.4 344.8 123.6 344.2 123.8 345.3 124.0 345.2 124.2 344.2 124.4 347.0 124.6 342.2 124.8 344.1 125.0 349.1 125.2 347.6 125.4 346.8 125.6 346.7 125.8 348.6 126.0 346.7 126.2 346.0 126.4 344.0 126.6 345.7 126.8 344.7 127.0 344.7 127.2 344.6 127.4 345.6 127.6 345.1 127.8 346.9 128.0 343.6 128.2 345.3 128.4 348.3 128.6 345.5 128.8 347.2 129.0 347.1 129.2 347.3 129.4 346.4 129.6 343.2 129.8 344.8 130.0 344.6 130.2 342.8 130.4 344.4 130.6 343.1 130.8 342.5 131.0 345.2 131.2 344.8 131.4 343.8 131.6 343.4 131.8 343.9 132.0 344.1 132.2 344.1 132.4 344.6 132.6 343.9 132.8 345.1 133.0 345.3 133.2 345.0 133.4 343.4 133.6 343.5 133.8 345.0 134.0 344.0 134.2 344.2 134.4 340.5 134.6 340.1 134.8 344.6 135.0 344.6 135.2 346.1 135.4 345.1 135.6 344.3 135.8 343.9 136.0 341.7 136.2 345.2 136.4 342.9 136.6 344.5 136.8 344.0 137.0 344.1 137.2 345.0 137.4 342.8 137.6 343.0 137.8 342.2 138.0 342.9 138.2 345.9 138.4 342.9 138.6 345.2 138.8 344.7 139.0 344.5 139.2 344.6 139.4 341.9 139.6 343.9 139.8 345.8 140.0 342.3 140.2 343.3 140.4 342.3 140.6 343.8 140.8 341.7 141.0 345.7 141.2 342.8 141.4 341.0 141.6 346.0 141.8 344.8 142.0 344.1 142.2 344.1 142.4 342.7 142.6 342.9 142.8 344.3 143.0 344.6 143.2 344.6 143.4 343.6 143.6 342.5 143.8 342.9 144.0 344.9 144.2 345.4 144.4 342.7 144.6 342.5 144.8 345.0 145.0 344.3 145.2 344.2 145.4 341.2 145.6 342.6 145.8 342.4 146.0 343.4 146.2 340.6 146.4 345.0 146.6 343.6 146.8 343.7 147.0 341.3 147.2 343.0 147.4 345.1 147.6 340.7 147.8 343.5 148.0 344.1 148.2 342.0 148.4 344.3 148.6 342.5 148.8 344.9 149.0 343.8 149.2 343.3 149.4 346.0 149.6 344.2 149.8 344.9 150.0 341.2 150.2 342.0 150.4 344.2 150.6 344.3 150.8 342.8 151.0 344.1 151.2 341.3 151.4 343.2 151.6 341.2 151.8 343.4 152.0 342.2 152.2 341.9 152.4 342.9 152.6 345.6 152.8 341.3 153.0 341.9 153.2 344.4 153.4 342.2 153.6 345.5 153.8 343.1 154.0 342.9 154.2 343.3 154.4 345.4 154.6 343.8 154.8 343.5 155.0 343.1 155.2 340.4 155.4 341.4 155.6 345.0 155.8 344.0 156.0 343.5 156.2 343.7 156.4 341.9 156.6 343.2 156.8 341.3 157.0 343.3 157.2 341.6 157.4 342.3 157.6 343.3 157.8 342.1 158.0 343.6 158.2 343.3 158.4 343.2 158.6 344.6 158.8 340.4 159.0 340.2 159.2 343.5 159.4 344.0 159.6 345.6 159.8 343.7 160.0 343.8 160.2 341.2 160.4 343.7 160.6 343.5 160.8 340.9 161.0 341.2 161.2 342.3 161.4 342.9 161.6 338.1 161.8 342.6 162.0 342.8 162.2 342.2 162.4 342.8 162.6 343.1 162.8 340.9 163.0 343.0 163.2 342.0 163.4 341.0 163.6 342.7 163.8 344.6 164.0 340.2 164.2 339.9 164.4 339.9 164.6 345.3 164.8 342.0 165.0 342.2 165.2 341.1 165.4 340.9 165.6 339.3 165.8 342.5 166.0 342.7 166.2 339.3 166.4 340.7 166.6 341.1 166.8 342.2 167.0 342.6 167.2 343.9 167.4 344.3 167.6 343.8 167.8 344.2 168.0 340.4 168.2 341.4 168.4 343.9 168.6 342.6 168.8 342.2 169.0 339.2 169.2 339.4 169.4 343.2 169.6 342.6 169.8 341.7 170.0 341.5 170.2 339.5 170.4 342.6 170.6 343.6 170.8 344.5 171.0 342.1 171.2 341.7 171.4 340.4 171.6 343.9 171.8 344.6 172.0 341.1 172.2 342.4 172.4 342.1 172.6 341.1 172.8 338.2 173.0 341.4 173.2 342.9 173.4 339.8 173.6 340.7 173.8 337.0 174.0 343.8 174.2 342.7 174.4 342.0 174.6 341.5 174.8 340.9 175.0 341.7 175.2 341.4 175.4 341.5 175.6 341.8 175.8 342.0 176.0 344.1 176.2 339.7 176.4 342.2 176.6 340.9 176.8 340.2 177.0 338.3 177.2 342.8 177.4 340.4 177.6 340.8 177.8 342.6 178.0 340.3 178.2 342.0 178.4 341.8 178.6 343.2 178.8 343.5 179.0 340.7 179.2 343.4 179.4 341.8 179.6 342.2 179.8 341.7 180.0 343.2 180.2 340.2 180.4 342.4 180.6 343.8 180.8 341.6 181.0 345.1 181.2 341.0 181.4 342.4 181.6 341.4 181.8 341.2 182.0 340.4 182.2 341.3 182.4 342.0 182.6 340.9 182.8 343.5 183.0 344.4 183.2 339.8 183.4 343.4 183.6 342.4 183.8 342.5 184.0 345.8 184.2 344.0 184.4 342.6 184.6 342.4 184.8 338.9 185.0 343.3 185.2 341.0 185.4 342.4 185.6 342.2 185.8 343.4 186.0 344.9 186.2 343.2 186.4 343.5 186.6 340.9 186.8 341.5 187.0 341.3 187.2 337.3 187.4 341.6 187.6 336.6 187.8 335.0 188.0 339.0 188.2 339.7 188.4 335.9 188.6 336.8 188.8 343.3 189.0 339.6 189.2 337.3 189.4 339.9 189.6 344.3 189.8 342.6 190.0 343.0 190.2 343.9 190.4 343.1 190.6 341.7 190.8 339.8 191.0 342.9 191.2 340.6 191.4 342.2 191.6 344.9 191.8 343.1 192.0 342.4 192.2 342.4 192.4 343.3 192.6 343.6 192.8 340.2 193.0 342.4 193.2 344.6 193.4 343.0 193.6 340.6 193.8 340.5 194.0 338.1 194.2 339.5 194.4 342.5 194.6 339.2 194.8 337.1 195.0 336.3 195.2 335.7 195.4 334.2 195.6 332.3 195.8 330.2 196.0 331.0 196.2 331.5 196.4 328.0 196.6 328.4 196.8 331.9 197.0 329.2 197.2 332.0 197.4 333.8 197.6 336.2 197.8 336.8 198.0 337.1 198.2 339.9 198.4 338.4 198.6 338.2 198.8 338.2 199.0 342.7 199.2 339.2 199.4 342.7 199.6 343.1 199.8 343.4 200.0 342.0 200.2 341.5 200.4 342.5 200.6 341.5 200.8 340.5 201.0 344.3 201.2 341.1 201.4 345.1 201.6 343.2 201.8 341.7 202.0 343.1 202.2 344.3 202.4 340.3 202.6 341.0 202.8 340.8 203.0 342.6 203.2 342.9 203.4 342.3 203.6 341.1 203.8 341.4 204.0 343.9 204.2 343.7 204.4 342.2 204.6 340.0 204.8 342.9 205.0 342.3 205.2 342.2 205.4 344.3 205.6 342.9 205.8 340.1 206.0 340.0 206.2 343.4 206.4 341.4 206.6 342.3 206.8 340.6 207.0 339.1 207.2 340.8 207.4 342.4 207.6 340.2 207.8 337.6 208.0 338.3 208.2 337.4 208.4 337.6 208.6 338.0 208.8 338.3 209.0 334.3 209.2 331.7 209.4 330.5 209.6 328.1 209.8 324.7 210.0 322.1 210.2 318.5 210.4 312.6 210.6 310.7 210.8 304.5 211.0 298.4 211.2 295.3 211.4 288.7 211.6 287.1 211.8 280.8 212.0 276.8 212.2 273.2 212.4 272.7 212.6 274.8 212.8 274.0 213.0 278.5 213.2 277.1 213.4 283.8 213.6 288.1 213.8 290.6 214.0 293.2 214.2 297.5 214.4 297.1 214.6 298.9 214.8 302.1 215.0 305.0 215.2 304.7 215.4 304.3 215.6 305.3 215.8 305.5 216.0 302.9 216.2 300.4 216.4 302.9 216.6 302.3 216.8 304.1 217.0 303.9 217.2 305.6 217.4 309.0 217.6 310.1 217.8 311.6 218.0 315.8 218.2 314.1 218.4 315.6 218.6 319.3 218.8 316.9 219.0 317.2 219.2 322.8 219.4 322.6 219.6 324.4 219.8 326.0 220.0 328.1 220.2 327.7 220.4 330.1 220.6 330.3 220.8 333.8 221.0 335.4 221.2 335.8 221.4 338.7 221.6 343.2 221.8 338.0 222.0 341.9 222.2 342.8 222.4 343.7 222.6 341.5 222.8 345.0 223.0 344.6 223.2 343.9 223.4 343.9 223.6 345.2 223.8 346.5 224.0 346.7 224.2 349.1 224.4 345.3 224.6 347.0 224.8 345.6 225.0 347.6 225.2 346.8 225.4 345.9 225.6 344.9 225.8 345.9 226.0 347.5 226.2 349.5 226.4 348.5 226.6 345.7 226.8 346.8 227.0 347.7 227.2 347.5 227.4 347.9 227.6 349.0 227.8 348.2 228.0 346.9 228.2 345.1 228.4 347.6 228.6 345.6 228.8 348.0 229.0 348.7 229.2 346.3 229.4 348.1 229.6 347.9 229.8 351.3 230.0 349.2 230.2 345.7 230.4 349.2 230.6 349.2 230.8 348.3 231.0 348.0 231.2 349.5 231.4 349.6 231.6 349.3 231.8 347.2 232.0 348.3 232.2 346.4 232.4 346.5 232.6 347.9 232.8 347.2 233.0 348.2 233.2 352.5 233.4 349.6 233.6 347.5 233.8 345.6 234.0 347.6 234.2 346.7 234.4 345.6 234.6 350.0 234.8 348.2 235.0 349.6 235.2 353.6 235.4 349.4 235.6 349.2 235.8 349.5 236.0 348.6 236.2 347.8 236.4 348.7 236.6 350.8 236.8 348.7 237.0 347.0 237.2 347.2 237.4 347.6 237.6 349.2 237.8 349.9 238.0 349.9 238.2 351.0 238.4 348.9 238.6 350.5 238.8 349.8 239.0 350.4 239.2 346.6 239.4 351.2 239.6 347.0 239.8 347.7 240.0 350.6 240.2 348.8 240.4 352.1 240.6 349.7 240.8 347.9 241.0 349.7 241.2 348.9 241.4 351.8 241.6 351.9 241.8 350.6 242.0 348.9 242.2 349.6 242.4 351.1 242.6 348.3 242.8 348.3 243.0 350.8 243.2 350.6 243.4 349.2 243.6 349.1 243.8 346.6 244.0 351.3 244.2 349.4 244.4 347.4 244.6 347.8 244.8 348.2 245.0 352.1 245.2 350.5 245.4 347.5 245.6 352.2 245.8 351.5 246.0 347.8 246.2 345.4 246.4 350.8 246.6 348.4 246.8 349.1 247.0 348.5 247.2 351.1 247.4 351.4 247.6 350.3 247.8 348.8 248.0 349.4 248.2 349.8 248.4 346.5 248.6 350.5 248.8 348.0 249.0 348.6 249.2 348.1 249.4 348.8 249.6 348.4 249.8 349.3 250.0 344.4 250.2 342.3 250.4 342.3 250.6 339.4 250.8 339.8 251.0 335.4 251.2 334.9 251.4 334.4 251.6 333.1 251.8 330.9 252.0 332.1 252.2 331.6 252.4 326.9 252.6 329.6 252.8 328.5 253.0 326.5 253.2 324.1 253.4 322.6 253.6 320.2 253.8 316.7 254.0 315.1 254.2 311.8 254.4 307.6 254.6 306.7 254.8 309.9 255.0 309.7 255.2 314.0 255.4 318.0 255.6 322.4 255.8 324.9 256.0 329.0 256.2 328.2 256.4 331.0 256.6 329.2 256.8 329.8 257.0 328.3 257.2 324.8 257.4 320.0 257.6 323.0 257.8 320.1 258.0 318.5 258.2 317.0 258.4 318.4 258.6 321.5 258.8 323.6 259.0 328.6 259.2 330.4 259.4 332.4 259.6 337.7 259.8 338.7 260.0 342.4 260.2 341.4 260.4 345.2 260.6 347.9 260.8 347.2 261.0 348.9 261.2 350.4 261.4 350.1 261.6 353.1 261.8 350.3 262.0 350.7 262.2 350.9 262.4 348.3 262.6 349.2 262.8 352.4 263.0 351.2 263.2 353.9 263.4 351.8 263.6 351.8 263.8 353.7 264.0 352.7 264.2 354.8 264.4 350.8 264.6 353.2 264.8 353.6 265.0 353.5 265.2 354.5 265.4 354.4 265.6 352.9 265.8 352.1 266.0 354.5 266.2 353.2 266.4 354.6 266.6 355.3 266.8 353.6 267.0 352.0 267.2 353.1 267.4 354.7 267.6 353.2 267.8 355.4 268.0 353.7 268.2 353.9 268.4 352.9 268.6 353.7 268.8 355.6 269.0 353.4 269.2 353.5 269.4 352.9 269.6 355.3 269.8 351.9 270.0 353.2 270.2 355.6 270.4 356.4 270.6 354.0 270.8 355.8 271.0 351.4 271.2 355.6 271.4 354.9 271.6 352.7 271.8 351.9 272.0 353.9 272.2 355.1 272.4 355.3 272.6 354.9 272.8 355.9 273.0 355.9 273.2 352.8 273.4 354.3 273.6 354.2 273.8 356.5 274.0 354.3 274.2 356.6 274.4 355.3 274.6 358.7 274.8 355.1 275.0 355.3 275.2 355.1 275.4 355.6 275.6 359.0 275.8 354.7 276.0 354.1 276.2 355.2 276.4 356.5 276.6 354.1 276.8 356.8 277.0 356.8 277.2 355.4 277.4 355.3 277.6 354.6 277.8 355.4 278.0 354.6 278.2 357.7 278.4 358.3 278.6 355.5 278.8 355.9 279.0 353.1 279.2 355.2 279.4 356.5 279.6 356.5 279.8 356.3 280.0 357.4 280.2 356.2 280.4 355.5 280.6 358.5 280.8 353.1 281.0 354.2 281.2 354.8 281.4 354.7 281.6 354.6 281.8 355.3 282.0 354.4 282.2 355.2 282.4 355.9 282.6 354.8 282.8 354.7 283.0 352.7 283.2 352.0 283.4 352.9 283.6 354.2 283.8 353.0 284.0 353.6 284.2 353.0 284.4 352.8 284.6 349.6 284.8 352.4 285.0 351.6 285.2 353.6 285.4 351.5 285.6 351.3 285.8 351.0 286.0 351.8 286.2 349.5 286.4 352.1 286.6 352.9 286.8 354.9 287.0 352.8 287.2 354.4 287.4 357.3 287.6 354.1 287.8 356.4 288.0 354.6 288.2 355.4 288.4 356.4 288.6 357.2 288.8 355.2 289.0 354.5 289.2 358.3 289.4 356.4 289.6 357.3 289.8 357.5 290.0 357.2 290.2 355.7 290.4 355.8 290.6 353.6 290.8 356.1 291.0 355.0 291.2 355.5 291.4 358.2 291.6 356.2 291.8 355.0 292.0 352.6 292.2 355.4 292.4 356.1 292.6 352.2 292.8 353.6 293.0 351.7 293.2 351.7 293.4 350.7 293.6 348.3 293.8 349.3 294.0 347.0 294.2 350.8 294.4 349.6 294.6 347.6 294.8 347.4 295.0 346.7 295.2 346.6 295.4 346.4 295.6 345.7 295.8 345.9 296.0 344.4 296.2 345.2 296.4 346.2 296.6 347.9 296.8 347.7 297.0 351.7 297.2 349.2 297.4 349.6 297.6 351.5 297.8 353.0 298.0 354.8 298.2 354.1 298.4 352.4 298.6 353.5 298.8 355.7 299.0 355.0 299.2 356.1 299.4 355.1 299.6 357.9 299.8 357.9 300.0 357.6 300.2 356.4 300.4 353.9 300.6 354.4 300.8 357.0 301.0 357.5 301.2 352.3 301.4 356.0 301.6 358.4 301.8 358.1 302.0 356.0 302.2 357.7 302.4 356.8 302.6 356.5 302.8 358.4 303.0 358.4 303.2 356.0 303.4 355.3 303.6 354.8 303.8 354.5 304.0 358.5 304.2 359.2 304.4 356.6 304.6 357.7 304.8 354.9 305.0 355.5 305.2 356.6 305.4 355.2 305.6 354.2 305.8 351.1 306.0 350.6 306.2 351.3 306.4 350.1 306.6 349.7 306.8 347.7 307.0 347.1 307.2 346.2 307.4 345.7 307.6 343.9 307.8 342.1 308.0 341.7 308.2 342.9 308.4 341.1 308.6 340.1 308.8 340.5 309.0 343.0 309.2 344.2 309.4 346.1 309.6 344.9 309.8 348.3 310.0 346.6 310.2 347.6 310.4 347.7 310.6 349.7 310.8 350.7 311.0 349.3 311.2 348.5 311.4 346.9 311.6 349.2 311.8 348.3 312.0 348.4 312.2 347.8 312.4 347.7 312.6 348.7 312.8 350.5 313.0 351.9 313.2 351.2 313.4 352.5 313.6 352.5 313.8 353.4 314.0 352.3 314.2 356.2 314.4 356.3 314.6 358.0 314.8 355.4 315.0 356.8 315.2 355.5 315.4 357.4 315.6 357.0 315.8 358.3 316.0 357.2 316.2 358.5 316.4 356.9 316.6 358.5 316.8 357.2 317.0 357.1 317.2 357.9 317.4 358.3 317.6 355.7 317.8 355.6 318.0 358.1 318.2 357.8 318.4 354.9 318.6 355.4 318.8 356.8 319.0 358.4 319.2 358.2 319.4 359.4 319.6 359.6 319.8 361.4 320.0 355.8 320.2 357.8 320.4 359.4 320.6 356.0 320.8 355.8 321.0 358.1 321.2 359.4 321.4 359.5 321.6 355.0 321.8 355.8 322.0 357.2 322.2 356.4 322.4 357.3 322.6 356.6 322.8 358.5 323.0 355.2 323.2 354.7 323.4 353.5 323.6 353.8 323.8 349.1 324.0 349.8 324.2 346.5 324.4 343.9 324.6 346.2 324.8 343.9 325.0 344.2 325.2 342.0 325.4 342.6 325.6 342.4 325.8 344.0 326.0 343.9 326.2 348.5 326.4 346.3 326.6 351.7 326.8 350.4 327.0 353.3 327.2 353.4 327.4 354.8 327.6 357.0 327.8 355.6 328.0 354.3 328.2 356.2 328.4 356.9 328.6 352.3 328.8 357.3 329.0 357.3 329.2 353.0 329.4 355.3 329.6 356.7 329.8 353.8 330.0 354.9 330.2 355.2 330.4 356.8 330.6 357.8 330.8 356.4 331.0 356.9 331.2 358.4 331.4 358.1 331.6 357.4 331.8 359.8 332.0 355.9 332.2 358.4 332.4 357.6 332.6 357.6 332.8 358.7 333.0 358.5 333.2 362.0 333.4 359.3 333.6 358.8 333.8 360.7 334.0 359.6 334.2 355.2 334.4 358.0 334.6 358.8 334.8 356.6 335.0 357.8 335.2 356.6 335.4 357.7 335.6 354.7 335.8 354.3 336.0 356.4 336.2 357.7 336.4 359.4 336.6 357.2 336.8 356.7 337.0 359.4 337.2 358.3 337.4 361.1 337.6 358.4 337.8 355.8 338.0 357.6 338.2 357.5 338.4 356.9 338.6 357.9 338.8 358.1 339.0 358.8 339.2 358.4 339.4 359.9 339.6 359.9 339.8 359.6 340.0 359.6 340.2 356.5 340.4 356.9 340.6 358.0 340.8 359.7 341.0 357.2 341.2 358.8 341.4 359.7 341.6 362.3 341.8 359.8 342.0 358.6 342.2 361.0 342.4 359.7 342.6 359.0 342.8 361.1 343.0 358.1 343.2 359.7 343.4 359.5 343.6 360.8 343.8 357.7 344.0 357.5 344.2 358.9 344.4 359.0 344.6 359.5 344.8 358.9 345.0 360.1 345.2 360.5 345.4 359.8 345.6 357.9 345.8 361.2 346.0 357.2 346.2 359.2 346.4 360.8 346.6 358.5 346.8 361.4 347.0 362.3 347.2 361.8 347.4 360.1 347.6 360.9 347.8 358.7 348.0 360.1 348.2 360.2 348.4 359.6 348.6 359.7 348.8 359.2 349.0 356.6 349.2 360.1 349.4 360.0 349.6 362.6 349.8 360.6 350.0 359.6 350.2 360.8 350.4 360.5 350.6 359.5 350.8 359.0 351.0 357.3 351.2 359.7 351.4 362.0 351.6 356.8 351.8 358.1 352.0 360.7 352.2 359.8 352.4 360.2 352.6 356.8 352.8 358.7 353.0 360.3 353.2 360.4 353.4 360.0 353.6 358.2 353.8 360.4 354.0 357.8 354.2 358.2 354.4 357.8 354.6 361.7 354.8 358.9 355.0 359.6 355.2 356.3 355.4 361.2 355.6 360.3 355.8 357.1 356.0 357.2 356.2 362.0 356.4 358.1 356.6 362.3 356.8 358.9 357.0 355.8 357.2 361.2 357.4 360.3 357.6 360.6 357.8 358.8 358.0 359.2 358.2 360.9 358.4 358.3 358.6 356.5 358.8 360.8 359.0 358.5 359.2 361.3 359.4 358.7 359.6 358.7 359.8 358.9 360.0 355.7 360.2 361.0 360.4 358.2 360.6 358.8 360.8 361.2 361.0 359.1 361.2 360.2 361.4 359.3 361.6 359.8 361.8 358.9 362.0 360.1 362.2 357.9 362.4 358.7 362.6 356.8 362.8 359.5 363.0 354.2 363.2 357.6 363.4 357.6 363.6 357.4 363.8 356.6 364.0 358.4 364.2 359.4 364.4 355.1 364.6 352.9 364.8 354.0 365.0 354.2 365.2 355.0 365.4 355.0 365.6 356.6 365.8 354.3 366.0 354.8 366.2 355.0 366.4 353.5 366.6 354.4 366.8 359.1 367.0 355.0 367.2 353.8 367.4 352.2 367.6 357.2 367.8 355.3 368.0 355.1 368.2 359.9 368.4 358.6 368.6 354.2 368.8 356.4 369.0 358.7 369.2 358.6 369.4 355.9 369.6 360.5 369.8 360.8 370.0 356.5 370.2 355.7 370.4 356.4 370.6 359.6 370.8 360.4 371.0 359.2 371.2 358.1 371.4 359.0 371.6 360.0 371.8 357.4 372.0 356.8 372.2 359.3 372.4 361.3 372.6 359.8 372.8 359.8 373.0 358.6 373.2 361.0 373.4 357.1 373.6 359.6 373.8 358.8 374.0 359.5 374.2 358.3 374.4 360.9 374.6 359.6 374.8 358.9 375.0 360.5 375.2 359.7 375.4 359.0 375.6 358.9 375.8 361.0 376.0 358.4 376.2 359.5 376.4 359.4 376.6 360.3 376.8 359.5 377.0 363.1 377.2 357.2 377.4 360.7 377.6 359.8 377.8 361.5 378.0 357.4 378.2 361.6 378.4 357.7 378.6 360.8 378.8 360.6 379.0 359.8 379.2 358.7 379.4 358.6 379.6 359.9 379.8 358.6 380.0 356.8 380.2 357.0 380.4 360.8 380.6 360.8 380.8 360.3 381.0 359.6 381.2 360.0 381.4 360.1 381.6 359.7 381.8 358.0 382.0 358.0 382.2 357.2 382.4 359.1 382.6 357.2 382.8 358.3 383.0 360.4 383.2 357.7 383.4 359.5 383.6 360.3 383.8 355.0 384.0 355.5 384.2 358.2 384.4 356.3 384.6 358.1 384.8 358.3 385.0 356.4 385.2 358.4 385.4 359.7 385.6 358.6 385.8 355.9 386.0 357.1 386.2 356.6 386.4 359.9 386.6 357.4 386.8 356.8 387.0 358.1 387.2 359.0 387.4 357.8 387.6 358.7 387.8 358.7 388.0 359.9 388.2 360.4 388.4 359.5 388.6 358.5 388.8 360.0 389.0 358.1 389.2 361.2 389.4 360.2 389.6 360.1 389.8 356.1 390.0 363.4 390.2 362.1 390.4 361.8 390.6 360.2 390.8 361.0 391.0 364.3 391.2 359.0 391.4 361.2 391.6 361.0 391.8 360.3 392.0 360.7 392.2 358.7 392.4 361.2 392.6 358.2 392.8 363.0 393.0 361.4 393.2 358.9 393.4 357.1 393.6 360.4 393.8 361.0 394.0 358.8 394.2 362.8 394.4 360.7 394.6 359.6 394.8 358.2 395.0 360.1 395.2 360.0 395.4 361.3 395.6 361.9 395.8 360.3 396.0 361.0 396.2 362.4 396.4 361.2 396.6 359.9 396.8 361.2 397.0 359.5 397.2 360.9 397.4 360.3 397.6 358.6 397.8 361.1 398.0 360.3 398.2 361.3 398.4 358.2 398.6 361.8 398.8 361.8 399.0 359.5 399.2 359.8 399.4 360.0 399.6 359.8 399.8 361.0 400.0 358.6 400.2 357.8 400.4 359.1 400.6 362.2 400.8 358.6 401.0 357.5 401.2 357.5 401.4 359.0 401.6 360.3 401.8 357.3 402.0 358.5 402.2 358.4 402.4 358.6 402.6 358.0 402.8 359.2 403.0 358.6 403.2 356.5 403.4 361.0 403.6 355.3 403.8 355.4 404.0 358.9 404.2 357.7 404.4 357.2 404.6 357.9 404.8 358.8 405.0 357.2 405.2 357.1 405.4 356.6 405.6 357.0 405.8 357.3 406.0 360.3 406.2 359.2 406.4 359.7 406.6 358.2 406.8 360.7 407.0 356.9 407.2 360.0 407.4 360.4 407.6 358.5 407.8 357.9 408.0 360.3 408.2 358.4 408.4 358.1 408.6 359.4 408.8 357.7 409.0 359.2 409.2 362.3 409.4 358.6 409.6 360.5 409.8 357.5 410.0 359.0 410.2 358.4 410.4 358.4 410.6 359.6 410.8 361.5 411.0 357.9 411.2 359.9 411.4 358.2 411.6 358.6 411.8 356.6 412.0 356.0 412.2 356.5 412.4 355.4 412.6 356.2 412.8 354.4 413.0 355.7 413.2 355.7 413.4 357.9 413.6 357.5 413.8 355.4 414.0 353.6 414.2 355.0 414.4 355.1 414.6 353.3 414.8 352.2 415.0 350.6 415.2 353.0 415.4 355.8 415.6 352.5 415.8 353.3 416.0 353.2 416.2 353.3 416.4 353.7 416.6 349.5 416.8 352.3 417.0 353.1 417.2 352.4 417.4 354.4 417.6 352.1 417.8 354.2 418.0 355.6 418.2 352.7 418.4 353.3 418.6 353.0 418.8 354.8 419.0 350.7 419.2 351.9 419.4 353.9 419.6 355.9 419.8 355.8 420.0 354.0 420.2 357.9 420.4 355.9 420.6 355.1 420.8 357.1 421.0 358.6 421.2 356.8 421.4 354.9 421.6 356.6 421.8 357.8 422.0 359.3 422.2 356.6 422.4 358.8 422.6 356.8 422.8 358.9 423.0 356.9 423.2 358.4 423.4 357.0 423.6 358.0 423.8 357.2 424.0 356.7 424.2 361.6 424.4 361.7 424.6 360.7 424.8 359.6 425.0 362.4 425.2 359.8 425.4 360.9 425.6 362.1 425.8 360.8 426.0 362.7 426.2 360.3 426.4 360.3 426.6 360.8 426.8 358.9 427.0 359.0 427.2 361.8 427.4 358.1 427.6 362.4 427.8 361.2 428.0 362.5 428.2 361.9 428.4 361.7 428.6 363.4 428.8 360.7 429.0 360.7 429.2 362.6 429.4 359.9 429.6 362.6 429.8 361.9 430.0 360.1 430.2 359.0 430.4 357.9 430.6 363.7 430.8 358.7 431.0 359.1 431.2 362.2 431.4 361.7 431.6 361.3 431.8 361.1 432.0 360.3 432.2 359.6 432.4 359.8 432.6 361.9 432.8 362.6 433.0 362.7 433.2 360.9 433.4 357.6 433.6 361.7 433.8 360.8 434.0 356.9 434.2 363.1 434.4 361.3 434.6 360.9 434.8 361.3 435.0 361.2 435.2 361.3 435.4 361.2 435.6 361.0 435.8 361.9 436.0 361.5 436.2 364.6 436.4 361.2 436.6 360.2 436.8 360.1 437.0 361.6 437.2 361.2 437.4 361.3 437.6 360.6 437.8 360.6 438.0 362.0 438.2 362.9 438.4 361.3 438.6 360.6 438.8 359.0 439.0 358.9 439.2 360.6 439.4 360.1 439.6 360.2 439.8 358.5 440.0 359.8 440.2 356.9 440.4 357.9 440.6 358.3 440.8 360.1 441.0 358.0 441.2 357.3 441.4 358.8 441.6 357.9 441.8 359.2 442.0 357.9 442.2 357.4 442.4 356.5 442.6 357.5 442.8 355.1 443.0 353.6 443.2 357.0 443.4 354.8 443.6 355.4 443.8 356.2 444.0 356.7 444.2 350.9 444.4 353.8 444.6 357.3 444.8 353.1 445.0 356.6 445.2 355.6 445.4 355.1 445.6 356.6 445.8 354.5 446.0 358.0 446.2 359.5 446.4 355.9 446.6 357.3 446.8 360.4 447.0 359.4 447.2 358.6 447.4 361.5 447.6 357.0 447.8 359.2 448.0 359.9 448.2 359.4 448.4 361.2 448.6 357.5 448.8 360.1 449.0 358.9 449.2 361.8 449.4 361.5 449.6 358.8 449.8 358.1 450.0 359.6 450.2 358.2 450.4 358.5 450.6 359.8 450.8 358.2 451.0 361.4 451.2 358.6 451.4 357.4 451.6 356.3 451.8 356.9 452.0 359.1 452.2 358.0 452.4 359.1 452.6 358.8 452.8 357.4 453.0 355.4 453.2 356.2 453.4 356.4 453.6 353.9 453.8 356.9 454.0 354.9 454.2 356.5 454.4 356.1 454.6 357.9 454.8 361.3 455.0 355.8 455.2 357.8 455.4 361.2 455.6 357.0 455.8 358.3 456.0 358.7 456.2 359.6 456.4 357.0 456.6 360.1 456.8 360.7 457.0 363.8 457.2 360.0 457.4 359.4 457.6 360.6 457.8 356.6 458.0 361.2 458.2 363.1 458.4 360.7 458.6 360.8 458.8 360.5 459.0 361.1 459.2 359.0 459.4 363.2 459.6 360.2 459.8 360.1 460.0 363.2 460.2 360.7 460.4 360.0 460.6 363.0 460.8 360.7 461.0 361.7 461.2 359.2 461.4 357.3 461.6 360.0 461.8 361.7 462.0 358.7 462.2 359.7 462.4 360.1 462.6 359.2 462.8 358.7 463.0 359.5 463.2 358.5 463.4 357.2 463.6 359.5 463.8 359.0 464.0 358.3 464.2 358.8 464.4 353.7 464.6 358.2 464.8 357.9 465.0 355.0 465.2 361.2 465.4 358.8 465.6 357.8 465.8 358.1 466.0 359.3 466.2 359.1 466.4 356.9 466.6 359.0 466.8 360.5 467.0 360.9 467.2 361.5 467.4 358.8 467.6 359.6 467.8 361.3 468.0 359.9 468.2 361.3 468.4 359.8 468.6 362.1 468.8 361.4 469.0 362.2 469.2 361.5 469.4 360.3 469.6 359.7 469.8 361.7 470.0 360.7 470.2 359.4 470.4 360.9 470.6 362.9 470.8 363.6 471.0 362.9 471.2 363.8 471.4 361.3 471.6 361.6 471.8 360.4 472.0 360.7 472.2 364.3 472.4 362.5 472.6 362.9 472.8 365.8 473.0 364.8 473.2 360.6 473.4 363.4 473.6 360.8 473.8 363.4 474.0 359.1 474.2 360.5 474.4 360.6 474.6 365.0 474.8 359.3 475.0 363.7 475.2 363.6 475.4 362.2 475.6 363.3 475.8 365.9 476.0 362.4 476.2 361.6 476.4 364.1 476.6 363.2 476.8 360.3 477.0 362.3 477.2 362.5 477.4 360.3 477.6 360.6 477.8 361.0 478.0 360.2 478.2 362.8 478.4 362.5 478.6 358.7 478.8 361.4 479.0 362.3 479.2 360.0 479.4 361.6 479.6 362.5 479.8 359.4 480.0 361.6 480.2 358.4 480.4 363.1 480.6 360.9 480.8 359.8 481.0 359.2 481.2 359.5 481.4 363.9 481.6 360.7 481.8 361.1 482.0 361.3 482.2 359.6 482.4 363.1 482.6 358.1 482.8 363.2 483.0 360.7 483.2 361.9 483.4 362.3 483.6 363.1 483.8 359.9 484.0 362.6 484.2 361.6 484.4 361.4 484.6 361.1 484.8 363.1 485.0 362.1 485.2 363.2 485.4 362.5 485.6 357.9 485.8 360.6 486.0 362.1 486.2 359.0 486.4 357.5 486.6 356.3 486.8 362.5 487.0 357.8 487.2 359.1 487.4 356.8 487.6 358.7 487.8 360.1 488.0 355.0 488.2 356.6 488.4 355.1 488.6 353.0 488.8 354.2 489.0 355.2 489.2 356.8 489.4 356.6 489.6 354.4 489.8 351.8 490.0 355.3 490.2 354.3 490.4 354.4 490.6 352.9 490.8 354.7 491.0 358.2 491.2 357.9 491.4 357.9 491.6 357.4 491.8 356.2 492.0 357.3 492.2 357.9 492.4 358.7 492.6 358.0 492.8 357.6 493.0 361.0 493.2 359.1 493.4 361.3 493.6 360.0 493.8 361.6 494.0 361.5 494.2 362.1 494.4 362.2 494.6 359.8 494.8 359.4 495.0 361.5 495.2 364.2 495.4 360.5 495.6 360.4 495.8 365.4 496.0 359.6 496.2 361.1 496.4 361.4 496.6 361.0 496.8 361.1 497.0 363.8 497.2 362.5 497.4 362.5 497.6 359.7 497.8 363.4 498.0 362.5 498.2 362.5 498.4 363.5 498.6 362.8 498.8 362.2 499.0 362.9 499.2 361.2 499.4 360.9 499.6 360.3 499.8 363.8 500.0 361.4 500.2 362.6 500.4 364.1 500.6 365.1 500.8 361.8 501.0 362.7 501.2 362.6 501.4 360.4 501.6 361.7 501.8 366.7 502.0 362.3 502.2 365.2 502.4 363.6 502.6 365.2 502.8 364.5 503.0 362.8 503.2 360.6 503.4 364.7 503.6 363.6 503.8 363.2 504.0 363.8 504.2 361.3 504.4 362.7 504.6 362.5 504.8 360.3 505.0 360.7 505.2 362.3 505.4 359.2 505.6 363.7 505.8 363.7 506.0 362.4 506.2 363.0 506.4 359.8 506.6 362.8 506.8 363.7 507.0 363.3 507.2 364.0 507.4 362.5 507.6 365.6 507.8 363.3 508.0 363.8 508.2 364.3 508.4 361.4 508.6 360.9 508.8 363.8 509.0 360.7 509.2 361.7 509.4 364.1 509.6 361.0 509.8 361.1 510.0 360.7 510.2 361.1 510.4 365.5 510.6 363.5 510.8 364.1 511.0 359.7 511.2 359.0 511.4 360.9 511.6 364.3 511.8 364.5 512.0 359.7 512.2 360.0 512.4 363.7 512.6 363.1 512.8 363.3 513.0 363.7 513.2 361.1 513.4 362.9 513.6 362.3 513.8 364.6 514.0 362.2 514.2 359.8 514.4 364.6 514.6 365.5 514.8 364.2 515.0 362.2 515.2 361.3 515.4 364.2 515.6 361.9 515.8 363.5 516.0 363.9 516.2 362.5 516.4 359.7 516.6 363.5 516.8 361.2 517.0 360.3 517.2 362.7 517.4 362.9 517.6 362.6 517.8 363.7 518.0 359.8 518.2 363.6 518.4 365.2 518.6 362.6 518.8 362.0 519.0 362.5 519.2 364.6 519.4 362.4 519.6 361.5 519.8 360.1 520.0 364.9 520.2 364.9 520.4 362.7 520.6 365.9 520.8 362.1 521.0 363.8 521.2 360.7 521.4 361.1 521.6 362.6 521.8 363.3 522.0 363.5 522.2 361.2 522.4 361.7 522.6 362.3 522.8 362.0 523.0 362.0 523.2 363.6 523.4 364.0 523.6 359.4 523.8 364.1 524.0 362.3 524.2 362.4 524.4 362.3 524.6 363.1 524.8 362.7 525.0 359.1 525.2 362.7 525.4 359.5 525.6 361.7 525.8 361.3 526.0 358.5 526.2 360.7 526.4 360.2 526.6 359.5 526.8 363.5 527.0 360.5 527.2 359.6 527.4 362.8 527.6 360.0 527.8 359.9 528.0 357.0 528.2 361.0 528.4 361.6 528.6 363.1 528.8 358.7 529.0 361.9 529.2 362.6 529.4 361.6 529.6 360.7 529.8 358.3 530.0 361.2 530.2 360.2 530.4 358.6 530.6 362.3 530.8 361.3 531.0 361.3 531.2 364.7 531.4 361.1 531.6 358.8 531.8 358.7 532.0 363.0 532.2 362.0 532.4 361.2 532.6 359.2 532.8 361.3 533.0 360.9 533.2 362.5 533.4 361.4 533.6 361.4 533.8 362.7 534.0 361.6 534.2 363.4 534.4 357.7 534.6 361.0 534.8 364.8 535.0 363.3 535.2 361.3 535.4 362.7 535.6 362.1 535.8 362.5 536.0 365.2 536.2 362.4 536.4 363.4 536.6 361.8 536.8 361.9 537.0 360.7 537.2 362.1 537.4 362.5 537.6 362.6 537.8 363.2 538.0 363.3 538.2 364.1 538.4 362.8 538.6 365.1 538.8 364.1 539.0 365.2 539.2 363.1 539.4 365.0 539.6 363.3 539.8 360.7 540.0 363.1 540.2 362.9 540.4 361.0 540.6 361.7 540.8 362.3 541.0 366.7 541.2 363.7 541.4 366.0 541.6 364.6 541.8 364.9 542.0 364.4 542.2 361.0 542.4 365.1 542.6 361.7 542.8 363.9 543.0 363.1 543.2 365.7 543.4 365.0 543.6 366.0 543.8 364.0 544.0 363.2 544.2 364.4 544.4 366.8 544.6 364.0 544.8 363.3 545.0 361.3 545.2 362.0 545.4 363.0 545.6 364.1 545.8 364.0 546.0 362.9 546.2 363.2 546.4 365.3 546.6 365.7 546.8 364.7 547.0 365.1 547.2 364.6 547.4 365.5 547.6 360.7 547.8 361.8 548.0 362.8 548.2 362.9 548.4 364.2 548.6 359.3 548.8 362.2 549.0 362.3 549.2 360.7 549.4 361.4 549.6 363.0 549.8 362.1 550.0 361.0 550.2 361.4 550.4 360.8 550.6 362.3 550.8 360.6 551.0 362.2 551.2 359.8 551.4 360.6 551.6 358.9 551.8 360.3 552.0 361.9 552.2 359.1 552.4 360.2 552.6 360.9 552.8 360.3 553.0 362.2 553.2 359.2 553.4 362.5 553.6 363.3 553.8 364.0 554.0 361.5 554.2 360.5 554.4 359.5 554.6 363.0 554.8 363.4 555.0 362.7 555.2 362.9 555.4 363.5 555.6 362.1 555.8 360.5 556.0 360.7 556.2 361.7 556.4 361.6 556.6 360.7 556.8 362.5 557.0 361.6 557.2 364.3 557.4 363.2 557.6 364.6 557.8 361.4 558.0 361.8 558.2 361.1 558.4 363.9 558.6 368.2 558.8 363.9 559.0 362.9 559.2 363.9 559.4 363.6 559.6 365.1 559.8 363.6 560.0 362.3 560.2 360.8 560.4 364.2 560.6 365.2 560.8 363.9 561.0 362.4 561.2 363.1 561.4 363.2 561.6 364.6 561.8 363.6 562.0 365.5 562.2 363.4 562.4 362.8 562.6 366.5 562.8 362.3 563.0 362.6 563.2 366.9 563.4 364.2 563.6 366.5 563.8 360.0 564.0 365.7 564.2 363.8 564.4 364.0 564.6 364.6 564.8 359.7 565.0 362.5 565.2 364.5 565.4 368.7 565.6 362.7 565.8 367.4 566.0 364.8 566.2 365.4 566.4 362.4 566.6 364.8 566.8 362.6 567.0 362.0 567.2 365.8 567.4 362.8 567.6 363.1 567.8 364.9 568.0 362.7 568.2 362.0 568.4 364.3 568.6 364.3 568.8 366.2 569.0 362.2 569.2 365.0 569.4 365.0 569.6 363.3 569.8 363.7 570.0 364.0 570.2 362.4 570.4 361.9 570.6 365.0 570.8 362.3 571.0 362.5 571.2 365.2 571.4 363.1 571.6 363.4 571.8 361.9 572.0 362.1 572.2 361.9 572.4 361.9 572.6 365.9 572.8 362.5 573.0 360.5 573.2 362.3 573.4 365.0 573.6 362.2 573.8 363.9 574.0 362.5 574.2 361.3 574.4 363.1 574.6 362.4 574.8 364.2 575.0 365.0 575.2 363.9 575.4 368.0 575.6 362.4 575.8 366.0 576.0 364.6 576.2 366.1 576.4 364.8 576.6 360.6 576.8 363.5 577.0 365.6 577.2 364.0 577.4 362.0 577.6 363.2 577.8 364.5 578.0 365.9 578.2 363.1 578.4 364.2 578.6 362.6 578.8 362.2 579.0 363.2 579.2 366.1 579.4 365.1 579.6 363.6 579.8 364.0 580.0 364.8 580.2 363.8 580.4 363.4 580.6 363.6 580.8 365.0 581.0 363.4 581.2 365.2 581.4 361.2 581.6 362.9 581.8 363.4 582.0 364.9 582.2 362.6 582.4 363.2 582.6 364.5 582.8 363.9 583.0 363.0 583.2 363.5 583.4 362.7 583.6 365.3 583.8 364.7 584.0 365.4 584.2 367.5 584.4 366.0 584.6 364.9 584.8 364.0 585.0 367.6 585.2 364.5 585.4 363.9 585.6 366.2 585.8 364.9 586.0 363.9 586.2 364.9 586.4 367.2 586.6 364.5 586.8 364.9 587.0 363.0 587.2 363.7 587.4 365.7 587.6 364.3 587.8 364.6 588.0 366.1 588.2 363.9 588.4 366.8 588.6 363.5 588.8 363.3 589.0 363.3 589.2 362.2 589.4 365.3 589.6 364.5 589.8 366.5 590.0 363.4 590.2 365.6 590.4 366.5 590.6 364.1 590.8 364.2 591.0 360.7 591.2 367.4 591.4 364.3 591.6 365.5 591.8 363.7 592.0 365.0 592.2 362.7 592.4 365.6 592.6 364.6 592.8 363.9 593.0 365.1 593.2 361.8 593.4 364.7 593.6 363.8 593.8 366.7 594.0 365.7 594.2 364.2 594.4 364.1 594.6 369.0 594.8 363.0 595.0 367.4 595.2 365.9 595.4 365.7 595.6 361.6 595.8 365.8 596.0 363.8 596.2 363.1 596.4 365.4 596.6 363.4 596.8 365.4 597.0 363.1" stroke="#0a0a0a" stroke-width="1.6" fill="none" stroke-linejoin="round"/>
</g>
<g fill="none" stroke="#1e1e1e" stroke-width="1.8">
<rect x="61" y="3" width="536" height="431.3"/>
<path d="M137.6 3V11M290.7 3V11M443.9 3V11M214.1 3V7M367.3 3V7M520.4 3V7M137.6 434.3V426.3M290.7 434.3V426.3M443.9 434.3V426.3M214.1 434.3V430.3M367.3 434.3V430.3M520.4 434.3V430.3"/>
</g>
<g class="serif" font-size="24.3" fill="#111" text-anchor="middle">
<text transform="translate(137.4 462.7) scale(1 1.1)">20</text>
<text transform="translate(290.6 462.7) scale(1 1.1)">40</text>
<text transform="translate(443.9 462.7) scale(1 1.1)">60</text>
<text transform="translate(597 462.7) scale(1 1.1)">80</text>
</g>
<text class="serif" font-size="33.5" fill="#111" x="328.7" y="513.8" text-anchor="middle">2θ (°)</text>
<text class="serif" font-size="32.7" fill="#111" text-anchor="middle" transform="translate(25.6 204.6) rotate(-90)">Intensity (Arb. Units)</text>
<g class="serif" font-size="24" fill="#111">
<text transform="translate(607.5 130.2) scale(1 1.08)">180</text>
<text transform="translate(607 190.2) scale(1 1.08)">60</text>
<text transform="translate(607 251.3) scale(1 1.08)">30</text>
<text transform="translate(607 312.2) scale(1 1.08)">10</text>
<text transform="translate(607 372.2) scale(1 1.08)">5</text>
</g>
<g class="lab" font-size="18.3" text-anchor="end">
<text x="593.3" y="104.9" fill="#b3b3b3" stroke="#b3b3b3">B3_180</text>
<text x="593" y="167.7" fill="#7a7a7a" stroke="#7a7a7a">B3_60</text>
<text x="593.6" y="229.4" fill="#3c3c3c" stroke="#3c3c3c">B3_30</text>
<text x="592.3" y="293" fill="#1c1c1c" stroke="#1c1c1c">B3_10</text>
<text x="593" y="348.6" fill="#0a0a0a" stroke="#0a0a0a">B3_5</text>
<text x="590" y="411.6" fill="#008000" stroke="#008000">B3</text>
</g>
<g>
<rect x="551.8" y="106.9" width="10.3" height="1.8" fill="#b3b3b3"/>
<rect x="561.7" y="169.6" width="10.3" height="1.8" fill="#7a7a7a"/>
<rect x="562.3" y="231.3" width="10.3" height="1.8" fill="#3c3c3c"/>
<rect x="561.0" y="294.9" width="10.3" height="1.8" fill="#1c1c1c"/>
<rect x="571.8" y="350.5" width="10.3" height="1.8" fill="#0a0a0a"/>
</g>
<text class="lab" font-size="24.8" fill="#008000" x="603.3" y="428.1" stroke="#008000">glass</text>
<g stroke="#111" stroke-width="1.9" fill="#111">
<line x1="633.9" y1="376.6" x2="657.1" y2="123.5"/>
<path d="M658.1 113.6L653.6 125.8L657.1 124.3L660.8 126.1Z" stroke="none"/>
</g>
<text class="serif" font-size="30" fill="#111" text-anchor="middle" transform="translate(656.4 248.6) rotate(95)">min. at 850 °C</text>
</svg>
</body></html>
